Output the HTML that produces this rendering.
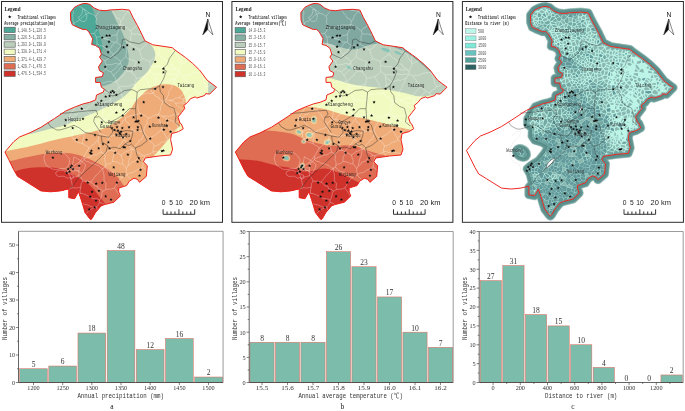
<!DOCTYPE html>
<html><head><meta charset="utf-8"><title>Figure</title>
<style>html,body{margin:0;padding:0;background:#fff}svg{display:block}</style></head>
<body>
<svg width="685" height="411" viewBox="0 0 685 411">
<defs><clipPath id="oc"><path d="M70.5 12.4 L74.5 7.3 L78.5 5.2 L82.5 3.7 L86.2 3.4 L89.8 4.4 L94.2 8.0 L99.3 10.2 L105.0 10.7 L110.6 9.9 L122.3 9.3 L129.5 10.1 L133.0 17.5 L137.3 25.3 L140.0 30.5 L145.0 40.9 L152.8 44.8 L163.0 46.3 L172.3 47.7 L175.0 50.0 L185.5 57.5 L192.5 63.3 L199.5 70.0 L207.2 80.2 L216.6 87.2 L209.7 94.1 L205.7 93.6 L204.6 95.5 L196.6 98.1 L195.5 96.8 L190.5 98.7 L187.5 102.5 L183.8 105.5 L184.8 108.4 L181.8 112.3 L178.0 117.2 L179.9 123.0 L181.3 123.9 L183.3 128.8 L178.4 131.7 L171.6 133.6 L170.6 139.5 L172.6 149.2 L170.6 155.0 L158.9 156.0 L145.3 158.0 L143.4 161.8 L147.3 165.7 L146.3 176.4 L139.5 182.3 L137.5 179.4 L134.0 178.2 L129.3 181.2 L126.6 185.6 L118.7 188.0 L118.7 191.9 L120.3 195.9 L114.0 202.2 L104.5 204.6 L101.0 206.0 L95.5 212.5 L92.2 218.2 L90.8 219.8 L89.3 218.2 L85.0 212.5 L83.1 205.9 L81.2 199.8 L78.5 191.8 L74.6 198.7 L68.8 197.7 L68.8 188.9 L60.3 190.9 L50.6 191.8 L40.9 190.9 L33.1 186.0 L25.3 181.1 L17.5 176.3 L13.6 169.5 L8.8 159.7 L4.9 152.0 L13.6 141.8 L19.5 137.0 L29.2 133.1 L40.9 127.3 L54.5 118.5 L66.2 110.7 L75.6 106.7 L83.4 103.8 L89.7 102.3 L95.6 99.9 L96.5 95.0 L103.3 92.1 L104.3 89.2 L101.4 87.3 L100.4 82.4 L95.6 82.4 L95.6 77.5 L102.4 76.6 L103.3 72.7 L99.5 70.7 L98.5 66.8 L102.4 61.0 L99.5 57.1 L101.4 54.2 L99.5 48.3 L95.6 45.4 L91.7 44.5 L92.6 38.6 L88.8 31.8 L86.0 29.3 L83.2 29.6 L77.4 27.2 L72.3 24.8 L70.6 20.0Z"/></clipPath><filter id="soft" x="0" y="0" width="685" height="411" filterUnits="userSpaceOnUse"><feGaussianBlur stdDeviation="0.38"/></filter></defs>
<rect width="685" height="411" fill="#fff"/>
<g filter="url(#soft)">
<g>
<g clip-path="url(#oc)">
<rect x="0" y="0" width="222" height="222" fill="#f1fbc1"/>
<path d="M130.0 8.0 C131.2 10.3 134.6 17.0 137.0 22.0 C139.4 27.0 142.0 33.6 144.7 38.0 C147.4 42.4 151.7 44.8 153.4 48.2 C155.1 51.6 155.9 54.5 154.9 58.4 C153.9 62.3 150.6 67.6 147.6 71.5 C144.6 75.4 140.3 78.4 137.0 82.0 C133.7 85.6 131.2 89.9 128.0 93.0 C124.8 96.1 123.0 97.5 118.1 100.5 C113.2 103.5 104.8 107.8 98.7 110.7 C92.6 113.6 87.3 115.6 81.6 118.0 C75.9 120.4 69.9 123.5 64.6 125.3 C59.3 127.1 55.8 127.5 50.0 128.9 C44.2 130.3 33.3 133.2 30.0 134.0 L0 134 L0 0 L130 0Z" fill="#bccfbc"/>
<path d="M109.5 6.0 C109.8 6.8 110.3 7.8 111.5 10.5 C112.7 13.2 115.0 18.1 116.8 21.9 C118.6 25.6 120.9 29.2 122.5 33.0 C124.1 36.8 125.5 40.8 126.5 44.5 C127.5 48.2 128.3 52.2 128.6 55.5 C128.8 58.8 129.0 61.1 128.0 64.0 C127.0 66.9 125.1 70.0 122.8 73.0 C120.5 76.0 116.9 79.7 114.0 81.8 C111.1 83.9 108.5 84.5 105.3 85.5 C102.1 86.5 96.7 87.6 95.0 88.0 L60 88 L60 0 L109 0Z" fill="#85b0a3"/>
<path d="M89.5 2.0 C90.1 3.3 92.0 7.4 93.0 10.0 C94.0 12.6 94.8 14.7 95.5 17.5 C96.2 20.3 96.8 24.1 97.5 27.0 C98.2 29.9 99.2 32.2 100.0 35.0 C100.8 37.8 101.6 41.5 102.0 44.0 C102.4 46.5 102.8 48.2 102.5 50.0 C102.2 51.8 101.1 53.7 100.0 55.0 C98.9 56.3 96.7 57.5 96.0 58.0 L60 58 L60 0 L89 0Z" fill="#4ea897"/>
<path d="M0.0 152.5 C1.2 152.2 2.4 151.9 7.3 150.9 C12.2 149.9 21.6 148.2 29.2 146.5 C36.8 144.8 46.9 141.9 52.6 140.5 C58.3 139.1 59.9 138.7 63.3 137.9 C66.7 137.2 70.2 136.6 73.0 136.0 C75.8 135.4 77.8 134.8 80.4 134.2 C83.0 133.6 86.0 133.3 88.6 132.7 C91.2 132.1 93.4 131.5 96.0 130.8 C98.6 130.1 101.8 129.3 104.3 128.3 C106.8 127.3 108.8 126.3 111.1 125.0 C113.4 123.7 115.6 121.9 117.9 120.2 C120.2 118.5 122.5 117.0 124.7 115.0 C126.9 113.0 129.1 110.8 131.0 108.5 C132.9 106.2 134.1 103.2 135.9 101.0 C137.7 98.8 139.5 97.1 141.8 95.0 C144.1 92.9 146.4 90.2 149.7 88.5 C153.0 86.8 157.5 85.2 161.4 84.6 C165.3 84.0 169.7 84.0 173.1 85.0 C176.5 86.0 179.7 88.3 181.8 90.9 C183.9 93.5 185.0 97.4 185.7 100.6 C186.4 103.8 186.9 107.1 186.0 110.0 C185.1 112.9 181.0 115.5 180.0 118.0 C179.0 120.5 180.7 123.0 180.0 125.0 C179.3 127.0 177.7 127.9 176.0 130.0 C174.3 132.1 172.3 134.7 170.0 137.5 C167.7 140.3 164.8 143.8 162.0 147.0 C159.2 150.2 154.5 155.3 153.0 157.0 L153 230 L0 230Z" fill="#efac78"/>
<path d="M0.0 163.0 C1.7 162.7 5.3 162.2 10.2 161.1 C15.1 160.0 22.6 158.0 29.2 156.7 C35.8 155.4 42.3 153.7 49.6 153.2 C56.9 152.7 65.7 152.5 73.0 153.8 C80.3 155.1 87.1 158.2 93.4 161.1 C99.7 164.0 106.6 168.2 111.0 171.3 C115.4 174.5 117.5 176.9 120.0 180.0 C122.5 183.1 125.0 188.3 126.0 190.0 L126 230 L0 230Z" fill="#df6d52"/>
<path d="M0.0 177.0 C2.4 176.1 10.8 173.1 14.5 171.8 C18.2 170.5 18.8 170.0 22.1 169.3 C25.4 168.6 29.3 167.8 34.1 167.5 C38.9 167.2 46.5 167.2 51.1 167.5 C55.8 167.8 58.9 168.6 62.0 169.5 C65.2 170.4 66.5 171.2 70.0 173.0 C73.5 174.8 79.5 178.2 82.7 180.2 C86.0 182.2 87.6 183.4 89.5 185.0 C91.4 186.6 92.4 187.8 94.3 190.0 C96.2 192.2 99.0 196.0 101.0 198.5 C103.0 201.0 104.5 202.8 106.0 205.0 C107.5 207.2 109.3 210.8 110.0 212.0 L112 230 L0 230Z" fill="#cf302b"/>
<path d="M208.2 78 L218 87 L208.2 96Z" fill="#bccfbc"/>
</g>
<path d="M70.3 168.1 L73.3 168.4 L75.9 167.9 L79.2 167.8 M79.2 167.8 L80.1 163.2 M78.8 162.6 L80.1 163.2 M71.9 23.6 L74.0 24.3 M74.0 24.3 L74.1 23.6 M72.7 9.6 L73.6 13.0 L72.7 14.7 L72.8 17.9 L73.1 20.7 L74.1 23.6 M79.2 167.8 L79.0 170.4 M67.3 171.4 L70.4 170.8 L73.4 171.1 L75.3 170.7 L79.0 170.4 M83.9 109.5 L82.2 106.9 L81.3 104.6 M83.9 109.5 L81.4 111.2 L79.4 111.7 L77.3 114.1 L74.7 114.6 L72.6 117.2 L70.5 117.8 M70.0 117.9 L70.5 117.8 M70.0 117.9 L69.5 116.1 M68.0 118.7 L70.0 117.9 M70.5 117.8 L73.0 120.4 L74.7 123.0 L75.7 124.0 L77.9 127.1 L79.5 129.3 M79.5 129.3 L75.7 130.0 L72.4 131.6 M73.5 8.5 L76.0 6.8 L78.8 5.2 M74.1 23.6 L75.9 21.7 L78.3 21.1 L80.7 18.7 L82.3 17.4 L84.3 15.5 L87.0 13.8 L89.1 13.0 M89.1 13.0 L87.0 11.2 L85.3 10.2 L83.2 8.6 L80.6 7.0 L78.8 5.2 M79.0 170.4 L78.8 173.1 L79.1 175.6 M79.1 175.6 L76.0 176.5 L72.8 177.3 L70.7 178.7 M70.3 188.4 L73.7 187.7 L75.9 188.1 L78.5 187.6 L80.8 187.3 M79.1 175.6 L81.0 177.6 L82.7 181.0 M82.7 181.0 L81.1 183.7 L80.8 187.3 M83.9 109.5 L86.3 110.3 M86.3 110.3 L87.5 107.8 L89.3 106.7 L91.2 105.6 L93.8 103.1 L95.6 100.9 L97.1 99.4 M97.1 99.4 L97.3 94.7 M99.9 57.6 L103.1 59.7 L105.0 60.7 M105.9 69.1 L102.1 72.1 M105.9 69.1 L106.0 64.8 M106.0 64.8 L105.0 60.7 M148.2 42.5 L146.3 44.2 L144.2 46.4 L141.7 48.5 L139.2 49.6 M142.3 35.2 L139.9 34.6 L137.1 33.9 L134.0 34.3 L131.8 33.5 M139.2 49.6 L137.3 48.9 L135.0 46.8 L131.4 45.3 L129.6 43.9 M129.6 43.9 L130.9 41.7 L130.7 38.6 L130.8 35.6 L131.8 33.5 M90.7 182.2 L91.7 180.8 L94.4 177.6 L95.7 175.5 L97.1 174.6 L99.6 172.2 L100.7 170.5 L102.8 168.3 M82.7 181.0 L86.1 181.3 L87.3 181.1 L90.7 182.2 M80.1 163.2 L81.4 162.2 L84.0 159.7 M84.0 159.7 L86.4 161.4 L88.2 161.5 L91.4 163.6 L93.1 163.3 L96.3 164.8 L98.5 165.6 L100.7 167.8 L102.8 168.3 M74.0 24.3 L74.5 25.8 M97.0 43.6 L97.0 40.1 L96.2 37.0 M97.0 43.6 L96.5 46.1 M94.3 33.4 L89.9 33.8 M94.3 33.4 L96.2 37.0 M96.7 28.2 L96.8 24.6 L95.9 22.1 L96.6 18.8 L95.7 16.4 M96.7 28.2 L96.1 31.3 L94.3 33.4 M89.1 13.0 L93.1 14.4 L95.7 16.4 M131.8 33.5 L131.0 30.9 M131.0 30.9 L132.5 28.4 L135.5 27.4 L136.9 24.6 M129.6 10.4 L129.1 10.6 M129.9 11.0 L129.1 10.6 M90.7 182.2 L93.0 183.7 L94.4 185.8 L97.3 186.1 L98.3 188.8 L101.3 189.5 L102.7 191.3 M80.8 187.3 L80.1 190.2 L80.1 193.3 M102.7 191.3 L101.8 193.6 L101.2 197.3 L99.7 200.2 M99.7 200.2 L97.7 198.9 L95.5 198.9 L92.1 198.3 L90.2 197.3 L86.7 195.2 L85.4 194.7 L82.6 193.6 L80.1 193.3 M86.3 110.3 L88.8 112.5 L90.3 114.1 L91.5 116.4 L93.9 119.2 L94.3 120.9 L96.8 123.8 M97.1 99.4 L100.2 100.6 L103.2 103.2 M103.2 103.2 L102.5 105.9 L102.8 108.9 L102.9 111.4 L102.7 113.9 L102.0 117.7 L102.2 120.1 M102.2 120.1 L98.9 121.5 L96.8 123.8 M103.4 103.1 L104.9 104.8 L106.5 105.9 L109.1 107.8 L111.4 110.6 L113.0 111.9 M113.0 111.9 L111.1 114.0 L108.7 114.8 L106.7 117.2 L104.7 119.2 M102.2 120.1 L104.7 119.2 M79.5 129.3 L82.1 130.0 L84.5 131.9 M84.5 131.9 L86.4 131.4 L88.8 129.8 L92.3 128.6 L93.4 128.3 L96.3 127.0 M96.8 123.8 L96.3 127.0 M100.5 83.0 L103.2 82.9 L104.9 82.3 L107.4 81.8 L111.1 81.2 L113.0 82.4 L115.9 81.3 M103.5 91.6 L107.6 92.6 L110.3 93.7 M119.0 87.5 L118.0 84.7 L116.2 81.5 M119.0 87.7 L116.7 89.8 L114.1 91.2 L111.7 92.8 L110.3 93.7 M103.4 103.1 L106.0 102.1 L108.4 101.2 L110.4 100.4 M110.3 93.7 L110.8 96.4 L110.4 100.4 M105.9 69.1 L108.4 71.0 L111.0 71.8 M115.9 81.3 L115.5 78.2 L113.6 75.9 M111.0 71.8 L113.6 75.9 M115.1 42.2 L111.9 41.9 L109.1 39.6 L106.8 39.3 L103.6 38.5 M115.1 42.2 L116.9 42.3 M116.9 42.3 L117.3 39.5 L117.0 36.6 L117.0 34.0 M103.6 38.5 L106.0 38.2 L109.2 37.1 L112.3 35.4 L115.0 35.4 L117.0 34.0 M109.2 49.7 L111.2 47.3 L112.5 45.1 L115.1 42.2 M109.2 49.7 L106.2 48.5 L103.7 46.6 L102.0 46.0 L99.7 45.3 L97.0 43.6 M96.2 37.0 L99.5 36.8 L101.4 38.1 L103.6 38.5 M96.7 28.2 L99.5 27.8 L101.9 28.0 L104.4 27.1 L107.3 26.0 L109.5 25.6 L111.6 25.0 L114.3 25.0 L117.3 25.2 L119.9 24.7 M119.9 24.7 L119.4 27.8 L118.6 30.7 L117.0 34.0 M120.6 24.3 L123.6 26.0 L126.0 27.2 L129.1 29.6 L131.0 30.9 M129.6 43.9 L126.5 45.9 M119.9 24.7 L120.6 24.3 M116.9 42.3 L118.6 44.0 L121.5 45.6 M121.5 45.6 L124.8 45.0 L126.5 45.9 M109.2 49.7 L110.8 52.4 L113.0 54.3 M121.5 45.6 L118.6 48.1 L117.4 50.3 L115.2 52.8 L113.0 54.3 M105.0 60.7 L107.4 59.1 L109.5 57.3 L112.9 55.5 M113.0 54.3 L112.9 55.5 M106.2 189.4 L105.6 187.5 L106.1 183.5 L104.2 180.9 L104.0 179.2 L104.1 176.3 L103.6 172.8 L103.0 171.7 L102.8 168.3 M106.2 189.4 L109.4 189.1 L111.1 189.2 L114.2 188.1 M114.2 188.1 L115.7 186.1 L116.9 183.5 L118.7 181.5 L119.7 179.8 L122.1 177.4 M122.1 177.4 L119.4 176.3 L117.9 175.2 L115.2 173.3 L113.8 172.2 L110.7 171.8 L108.3 170.5 L106.6 168.4 L104.7 167.4 M104.7 167.4 L102.8 168.3 M102.7 191.3 L106.2 189.4 M104.4 204.6 L102.8 203.4 L99.7 202.4 M99.7 202.4 L99.7 200.2 M119.9 196.3 L118.8 194.1 L117.7 192.5 L115.6 189.4 L114.2 188.1 M131.5 179.8 L129.0 177.5 L127.0 175.2 M127.0 175.2 L124.2 176.3 L122.1 177.4 M82.8 144.0 L82.6 141.3 L83.3 138.9 L83.9 136.4 L83.7 133.3 M83.7 133.3 L80.9 134.6 L79.0 135.9 L76.2 138.2 L73.2 138.8 M84.3 158.9 L84.2 156.0 M84.0 159.7 L84.3 158.9 M84.5 131.9 L83.7 133.3 M127.7 11.3 L125.2 10.8 L121.2 10.3 L118.4 9.5 M127.9 10.9 L127.5 9.9 M120.8 21.7 L122.5 19.7 L123.3 17.5 L124.3 15.1 L125.7 13.6 L127.7 11.3 M120.8 21.7 L119.9 19.2 L116.7 18.2 L115.6 15.8 L113.5 13.3 L112.8 12.0 L110.9 9.9 M120.6 24.3 L120.8 21.7 M132.0 15.5 L130.5 14.1 L127.7 11.2 M129.1 10.6 L127.9 10.9 M95.7 16.4 L97.0 14.5 L98.8 12.3 L100.4 10.3 M99.7 202.4 L98.0 205.3 L96.6 206.7 M96.6 206.7 L97.2 210.5 M127.2 174.7 L127.0 175.2 M127.2 174.7 L129.9 172.8 L132.6 172.8 L135.5 170.8 L136.7 169.9 L140.7 168.5 L142.6 166.8 M146.9 170.4 L144.6 168.4 L142.6 166.8 M134.5 84.7 L135.8 80.8 L136.3 78.2 M139.1 94.0 L138.4 91.7 L136.1 89.9 L135.5 86.4 L134.5 84.7 M139.1 94.0 L141.3 94.4 L144.1 94.1 L147.9 92.9 L150.1 93.8 L153.0 93.2 M136.3 78.2 L138.9 78.2 L141.4 77.2 L144.2 76.4 M153.0 93.2 L151.3 91.3 L151.0 88.5 L149.0 85.7 L148.1 83.0 L146.7 80.8 L145.2 78.5 L144.2 76.4 M126.8 71.3 L125.1 68.3 L122.3 66.3 M126.8 71.3 L128.9 71.1 L131.9 72.1 M131.9 72.1 L132.2 69.5 L134.7 67.7 L135.2 64.5 L136.3 62.1 M136.3 62.1 L134.3 60.9 L131.2 59.7 L127.8 58.7 L125.8 56.9 M125.8 56.9 L122.6 59.5 L120.6 62.1 M122.3 66.3 L120.5 63.6 M120.6 62.1 L120.5 63.4 M116.2 81.5 L119.0 79.6 L120.2 77.8 L123.2 75.6 L124.0 74.0 L126.8 71.3 M113.6 75.9 L114.6 74.3 L117.7 71.5 L118.8 70.4 L120.0 67.8 L122.3 66.3 M119.0 87.5 L120.9 86.5 L123.6 86.2 L127.2 86.4 L129.8 85.9 L132.4 84.6 L134.5 84.7 M136.3 78.2 L134.9 75.4 L133.4 74.6 L131.9 72.1 M139.2 49.6 L140.1 52.2 L140.8 55.4 L142.1 58.5 M142.1 58.5 L139.9 61.1 L136.3 62.1 M126.5 45.9 L126.7 49.4 L126.6 51.0 L125.9 54.5 L125.8 56.9 M112.9 55.5 L115.2 57.4 L116.7 58.2 L119.4 60.0 L120.6 62.1 M111.0 71.8 L113.6 69.6 L115.6 68.3 L117.2 66.1 L118.5 64.9 L120.5 63.6 M106.0 64.8 L109.2 64.8 L111.7 64.6 L115.5 63.3 L117.7 64.0 L120.5 63.4 M121.0 155.2 L121.7 157.7 L122.7 160.5 L122.6 163.8 M121.0 155.2 L118.5 153.6 L115.0 152.0 M115.0 152.0 L113.6 155.7 L112.6 158.8 L112.5 161.4 M122.6 163.8 L120.2 163.8 L118.0 162.5 L114.4 161.6 L112.5 161.4 M131.6 149.0 L132.2 149.2 M131.6 149.0 L128.2 150.8 L125.6 151.6 L123.2 153.5 L121.0 155.2 M126.3 168.7 L124.7 166.2 L122.6 163.8 M126.3 168.7 L127.9 165.8 M127.9 165.8 L128.6 162.3 L129.0 159.8 L130.4 156.7 L130.9 155.0 L131.5 151.2 L132.2 149.2 M104.7 167.4 L105.4 166.0 M126.3 168.7 L126.3 171.3 L127.2 174.7 M105.4 166.0 L107.4 164.1 L110.9 163.4 L112.5 161.4 M115.0 152.0 L114.5 151.4 M131.6 149.0 L130.4 147.0 L127.6 145.0 L125.9 141.5 L124.0 139.7 M114.5 151.4 L116.5 149.0 L118.2 147.9 L118.9 145.5 L121.2 143.9 L122.5 141.2 L124.0 139.7 M101.4 152.3 L104.1 153.7 M101.4 152.3 L100.5 150.1 L100.0 147.6 L99.8 144.5 L98.2 142.5 L98.2 139.7 M104.1 153.7 L106.3 152.6 L108.3 150.8 L111.4 150.2 M111.4 150.2 L110.3 147.7 L109.0 145.1 L109.2 142.1 L108.2 138.6 L106.9 136.3 M106.9 136.3 L102.9 134.7 L100.2 133.6 M98.2 139.7 L98.6 136.5 L100.2 133.6 M84.3 158.9 L87.1 157.6 L89.7 157.0 L91.1 156.3 L94.0 154.9 L96.5 155.0 L99.3 152.9 L101.4 152.3 M105.4 166.0 L105.7 162.4 L104.6 159.7 L105.2 156.0 L104.1 153.7 M88.1 149.2 L90.3 147.3 L91.6 145.6 L94.6 143.9 L95.5 142.1 L98.2 139.7 M114.5 151.4 L111.4 150.2 M119.3 134.9 L121.3 137.2 L123.7 138.3 M124.0 139.7 L123.7 138.3 M119.3 134.9 L116.3 134.6 L113.5 135.7 L109.9 136.1 L106.9 136.3 M120.1 125.2 L119.8 127.7 L120.3 131.3 L119.3 134.9 M104.7 119.2 L107.0 119.5 L110.2 121.9 L112.4 122.7 L114.7 123.0 L117.2 123.9 L120.1 125.2 M96.3 127.0 L97.7 128.9 L98.2 131.7 L100.2 133.6 M96.6 206.7 L95.8 206.8 M85.9 213.7 L88.0 211.8 L90.3 209.5 L93.6 208.4 L95.8 206.8 M119.0 87.7 L120.7 89.5 L121.5 92.1 L121.4 94.7 L123.0 97.8 L124.0 100.7 M139.1 94.0 L137.0 97.8 L135.5 100.1 M135.5 100.1 L132.7 100.9 L130.3 100.1 L127.1 100.0 L124.0 100.7 M110.4 100.4 L112.3 102.4 L114.7 103.2 L116.0 106.0 L118.8 107.3 M124.0 100.7 L122.6 103.1 L120.1 105.5 L118.8 107.3 M113.0 111.9 L115.9 109.7 L118.6 108.7 M118.6 108.7 L118.8 107.3 M148.3 118.1 L146.9 120.8 L147.3 123.3 L145.3 126.0 L144.2 128.5 L143.8 130.8 M148.3 118.1 L145.4 115.7 L142.7 114.8 L139.9 113.1 M139.9 113.1 L137.7 114.3 L133.9 115.0 L130.9 115.9 L128.6 116.7 L125.6 117.4 M134.6 131.2 L132.5 129.6 L131.5 127.6 L129.2 125.6 L129.0 123.4 L126.2 122.0 L125.2 119.3 M134.6 131.2 L137.8 130.7 L140.9 131.5 L143.8 130.8 M125.2 119.3 L125.6 117.4 M118.6 108.7 L119.7 111.0 L122.3 113.7 L123.1 115.2 L125.6 117.4 M135.5 100.1 L136.7 102.9 L137.8 105.5 L138.3 108.1 L138.5 111.1 L139.9 113.1 M123.7 138.3 L125.9 136.1 L128.6 135.8 L130.5 133.3 L132.8 132.4 L134.6 131.2 M120.1 125.2 L122.3 122.7 L123.2 120.6 L125.2 119.3 M162.6 101.4 L159.5 99.1 L158.3 97.2 L155.3 96.0 L153.3 93.3 M162.6 101.4 L162.1 104.7 L160.6 106.0 L160.8 108.3 L159.6 112.3 L158.3 114.1 M148.3 118.1 L151.1 117.3 L152.9 116.0 L154.8 115.2 L157.9 114.4 M158.3 114.1 L157.9 114.4 M143.8 130.8 L144.9 133.8 M144.9 133.8 L143.1 135.6 L142.0 139.0 L139.1 140.5 L138.2 142.7 L135.6 145.3 L134.1 147.2 L132.2 149.2 M155.5 156.5 L154.5 153.9 L152.8 152.1 M171.0 153.9 L168.7 153.2 L166.1 152.8 L163.8 152.6 L161.5 151.9 L158.5 152.6 L156.2 151.7 L153.1 151.3 M153.1 151.3 L152.8 152.1 M142.6 166.8 L143.5 161.9 M143.6 161.4 L144.2 158.3 L144.6 155.8 M152.8 152.1 L150.6 153.7 L147.3 154.5 L144.6 155.8 M127.9 165.8 L130.6 164.3 L131.4 162.1 L134.6 161.3 L136.4 159.6 L137.6 158.7 L140.3 156.6 L142.6 155.2 M132.2 149.2 L134.7 150.1 L138.1 152.9 L139.2 153.0 L142.6 155.2 M144.6 155.8 L142.6 155.2 M95.8 206.8 L92.9 207.0 L90.4 206.2 L87.5 204.9 L85.6 204.6 L82.4 203.7 M80.1 193.3 L79.4 194.5 M144.9 133.8 L146.5 135.8 L148.8 138.1 M157.9 114.4 L158.8 116.9 L158.7 119.2 L160.3 121.8 L160.1 124.5 L162.0 128.3 L161.9 130.1 M161.9 130.1 L159.7 131.0 L157.5 133.4 L155.5 134.7 L153.8 135.9 L151.6 136.8 L148.8 138.1 M153.1 151.3 L153.1 149.2 L154.1 146.2 M154.1 146.2 L153.2 143.8 L150.2 141.5 L148.8 138.1 M211.2 83.9 L209.3 86.0 L206.1 86.7 M211.2 83.9 L211.0 83.0 M206.1 86.7 L205.4 84.9 L203.7 81.9 L204.0 80.1 L202.7 77.0 L201.5 74.2 L200.3 72.0 M200.7 71.6 L200.3 72.0 M212.1 83.9 L211.2 83.9 M182.1 55.1 L181.2 59.1 L181.1 61.8 M189.1 60.4 L186.7 61.5 L183.8 62.4 L181.6 64.2 M181.1 61.8 L181.6 64.2 M181.1 61.8 L179.0 60.0 L177.6 57.4 L176.9 55.0 L175.5 53.4 L173.7 52.0 L171.9 48.7 L170.0 47.4 M142.1 58.5 L144.9 59.4 L146.9 60.5 L149.8 61.4 M149.8 61.4 L152.2 59.5 L153.9 57.4 L155.6 56.3 L158.3 54.4 M158.3 54.4 L159.7 50.9 L159.8 48.9 L160.1 45.9 M181.6 64.2 L180.5 67.3 L178.6 71.0 M182.4 76.1 L184.6 75.2 L188.0 75.5 L190.6 74.0 L192.4 73.4 L195.5 72.7 L198.1 73.0 L200.3 72.0 M182.4 76.1 L178.8 73.8 M178.8 73.8 L178.6 71.0 M158.3 54.4 L160.5 55.6 L162.2 58.0 L165.1 59.2 L167.1 62.1 L169.3 63.8 L171.8 64.6 L172.8 67.4 L175.2 67.9 L177.5 70.3 M178.6 71.0 L177.5 70.3 M149.8 61.4 L150.5 65.5 M177.5 70.3 L175.0 69.7 L171.6 70.0 L169.4 69.6 L166.4 67.7 L164.7 67.6 L162.0 67.4 L158.9 66.3 L155.5 66.8 L154.0 66.5 L150.5 65.5 M144.2 76.4 L146.9 75.2 L149.1 72.7 L150.4 71.5 M150.4 71.5 L149.9 68.1 L150.5 65.5 M176.5 122.8 L179.1 120.5 M176.5 122.8 L174.0 121.6 L170.6 120.3 L168.5 119.6 L166.3 119.0 M166.3 119.0 L162.6 116.3 M162.6 116.3 L165.1 116.1 L168.5 116.2 L170.9 115.9 L173.7 114.8 L176.6 114.9 L179.5 114.2 M179.5 114.2 L180.2 114.3 M163.8 100.8 L166.1 102.4 L167.4 103.5 L169.3 105.2 L171.4 107.0 L173.8 109.6 L175.6 110.8 L177.3 113.2 L179.5 114.2 M162.6 101.4 L163.8 100.8 M158.3 114.1 L162.6 116.3 M167.1 138.4 L167.1 140.0 M167.1 138.4 L169.8 135.5 L171.0 132.2 M171.0 132.2 L173.8 130.7 L175.7 129.4 L177.8 128.4 M178.0 131.8 L179.5 129.6 M170.8 142.1 L167.1 140.0 M177.8 128.4 L179.5 129.6 M154.1 146.2 L157.5 145.2 L159.9 143.9 L161.2 142.2 L164.6 141.9 L167.1 140.0 M161.9 130.1 L163.9 132.6 L165.6 135.8 L167.1 138.4 M166.3 119.0 L168.0 121.8 L167.4 125.0 L168.5 126.7 L170.8 129.8 L171.0 132.2 M176.5 122.8 L177.4 125.5 L177.8 128.4 M171.2 142.4 L170.8 142.1 M150.4 71.5 L152.5 72.9 L154.9 74.9 M154.9 74.9 L157.9 74.6 L159.5 74.2 L162.1 75.3 L165.0 74.1 L168.2 74.2 L171.1 74.7 L173.3 74.3 L175.6 74.1 L178.4 74.2 M190.8 86.9 L189.4 84.1 L187.0 82.9 L186.1 80.6 L183.7 77.8 L182.4 76.1 M178.6 97.6 L175.6 98.1 L172.8 99.8 L169.4 100.3 M165.6 99.7 L169.4 100.3 M165.6 99.7 L167.1 97.5 L168.5 94.9 L168.7 92.0 L169.6 90.2 L171.8 87.8 L171.9 85.5 L174.1 82.5 L174.9 79.6 L176.0 77.9 M190.8 86.9 L188.9 87.9 L186.5 91.0 L184.9 92.0 L183.3 94.2 L181.3 95.8 L178.6 97.6 M176.0 77.9 L178.4 74.2 M206.1 86.7 L204.2 89.1 L201.1 90.4 L199.6 93.1 M200.9 96.7 L199.6 93.1 M190.8 86.9 L192.8 88.8 L196.0 91.5 M199.6 93.1 L196.0 91.5 M179.5 129.6 L180.8 130.3 M155.3 85.9 L156.0 83.3 L155.5 80.7 L155.1 77.1 M155.3 85.9 L156.9 85.0 L159.6 83.1 L161.8 82.0 M161.8 82.0 L159.9 80.9 L157.5 79.1 L155.1 77.1 M153.3 93.3 L154.5 90.6 L155.2 88.3 L155.3 85.9 M154.9 74.9 L155.1 77.1 M165.6 99.7 L163.8 100.8 M176.0 77.9 L173.8 79.0 L170.5 80.3 L167.5 79.9 L164.6 81.0 L161.8 82.0 M182.9 110.9 L181.8 108.5 L179.4 107.2 L176.8 105.5 L175.6 103.2 M185.3 104.3 L182.5 103.0 M175.6 103.2 L179.2 103.0 L182.5 103.0 M169.4 100.3 L173.2 101.1 L175.6 103.2 M183.6 98.8 L183.4 100.7 M183.6 98.8 L186.9 97.3 L189.8 96.6 M183.4 100.7 L186.7 101.4 M189.8 96.6 L188.3 98.8 L186.7 101.4 M178.6 97.6 L181.4 98.8 L183.6 98.8 M182.5 103.0 L183.4 100.7 M196.0 91.5 L193.3 93.2 L192.3 94.5 L189.8 96.6 M185.4 104.2 L186.7 101.4 M44.9 153.9 L48.0 151.5 L51.7 151.0 L56.0 152.3 L59.5 152.0 L64.0 153.2 L67.2 155.9 L69.6 159.5 L69.2 163.6 L67.8 166.8 L65.3 168.5 L61.0 168.4 L57.5 169.5 L53.0 169.3 L49.7 167.5 L46.5 165.6 L44.9 162.7 L43.8 158.0Z M56.5 171.4 L60.0 170.2 L63.3 170.4 L66.0 172.4 L69.2 173.4 L73.1 175.3 L73.4 177.8 L72.1 179.2 L69.5 177.6 L67.2 178.2 L64.0 176.2 L61.4 176.3 L58.5 176.4 L56.5 175.3 L55.6 173.2Z M74.0 156.8 L80.0 160.2 L85.7 164.6 L84.4 169.0 L81.8 173.4 L76.0 170.0 L71.1 167.5 L73.0 162.0Z M82.5 9.1 L84.7 9.5 L85.4 12.4 L86.9 15.3 L86.5 19.0 L84.7 21.5 L81.1 21.2 L79.2 19.3 L78.1 17.5 L80.7 15.7 L82.2 13.1Z M76.0 106.3 L72.0 112.0 L67.5 119.5 L67.5 125.0 L72.5 129.5 L72.0 137.0 L75.0 141.5 L82.0 143.5 L89.0 147.5 L85.0 155.0 L79.0 162.5 L71.0 167.5 L67.0 171.0 L70.0 176.0 L72.5 186.0 L68.8 190.0" fill="none" stroke="#ffffff" stroke-opacity="0.6" stroke-width="0.5"/>
<path d="M101.4 54.2 L110.6 58.4 L118.4 52.6 L121.3 48.7 L122.3 39.9 L125.2 38.9 L129.5 41.8 L139.2 43.8 L145.0 40.9 M175.2 50.6 L169.4 58.4 L167.4 64.2 L162.6 69.1 L166.4 71.0 L163.4 79.2 L159.5 86.0 L160.4 91.8 L163.4 95.7 L164.3 102.6 L169.2 106.4 L174.1 108.4 L176.0 116.2 L175.0 122.0 L179.9 126.0 M104.3 89.2 L107.1 91.3 L111.9 96.1 L118.2 94.5 L124.5 90.5 L132.4 89.7 L137.2 92.1 L140.4 89.7 L147.8 88.9 L154.6 88.9 L159.5 86.0 M137.2 92.1 L136.4 100.8 L135.6 108.7 L129.3 108.7 L123.0 115.0 L116.6 119.0 L111.9 121.4 M60.0 113.5 L71.7 112.6 L85.0 111.1 L96.1 110.3 L97.7 114.3 L94.5 117.4 L93.7 121.4 L97.0 127.0 L100.8 132.4 M94.5 117.4 L99.2 116.6 L105.6 123.0 L111.9 121.4 L110.3 127.7 L112.4 129.7 L112.7 132.4 L108.7 137.2 L101.3 136.1 M135.6 108.7 L136.4 121.4 L140.9 125.0 L143.2 132.9 L147.2 140.8 L140.9 145.6 L135.3 147.9 L136.9 155.0 L139.3 159.0 L141.0 161.5 M112.4 129.7 L118.7 132.1 L126.6 130.5 L133.0 131.3 L132.2 136.1 L130.6 140.8 L125.0 144.0 M47.9 122.6 L50.8 126.8 L56.6 129.9 L60.0 130.0 L66.2 128.2 L74.0 125.3 L79.5 128.1 L85.0 132.4 L95.0 134.5 L101.3 136.1 L102.1 142.4 L107.7 145.6 M135.3 147.9 L131.4 144.0 L129.0 145.6 L125.0 144.0 L120.3 148.7 L114.0 147.1 L109.2 148.7 L107.7 145.6 L106.1 151.9 L101.3 156.6 L95.0 163.0 L86.5 170.3 L76.8 180.0 L70.7 188.5" fill="none" stroke="#2a2a2a" stroke-width="0.45" stroke-linejoin="round"/>
<path d="M70.5 12.4 L74.5 7.3 L78.5 5.2 L82.5 3.7 L86.2 3.4 L89.8 4.4 L94.2 8.0 L99.3 10.2 L105.0 10.7 L110.6 9.9 L122.3 9.3 L129.5 10.1 L133.0 17.5 L137.3 25.3 L140.0 30.5 L145.0 40.9 L152.8 44.8 L163.0 46.3 L172.3 47.7 L175.0 50.0 L185.5 57.5 L192.5 63.3 L199.5 70.0 L207.2 80.2 L216.6 87.2 L209.7 94.1 L205.7 93.6 L204.6 95.5 L196.6 98.1 L195.5 96.8 L190.5 98.7 L187.5 102.5 L183.8 105.5 L184.8 108.4 L181.8 112.3 L178.0 117.2 L179.9 123.0 L181.3 123.9 L183.3 128.8 L178.4 131.7 L171.6 133.6 L170.6 139.5 L172.6 149.2 L170.6 155.0 L158.9 156.0 L145.3 158.0 L143.4 161.8 L147.3 165.7 L146.3 176.4 L139.5 182.3 L137.5 179.4 L134.0 178.2 L129.3 181.2 L126.6 185.6 L118.7 188.0 L118.7 191.9 L120.3 195.9 L114.0 202.2 L104.5 204.6 L101.0 206.0 L95.5 212.5 L92.2 218.2 L90.8 219.8 L89.3 218.2 L85.0 212.5 L83.1 205.9 L81.2 199.8 L78.5 191.8 L74.6 198.7 L68.8 197.7 L68.8 188.9 L60.3 190.9 L50.6 191.8 L40.9 190.9 L33.1 186.0 L25.3 181.1 L17.5 176.3 L13.6 169.5 L8.8 159.7 L4.9 152.0 L13.6 141.8 L19.5 137.0 L29.2 133.1 L40.9 127.3 L54.5 118.5 L66.2 110.7 L75.6 106.7 L83.4 103.8 L89.7 102.3 L95.6 99.9 L96.5 95.0 L103.3 92.1 L104.3 89.2 L101.4 87.3 L100.4 82.4 L95.6 82.4 L95.6 77.5 L102.4 76.6 L103.3 72.7 L99.5 70.7 L98.5 66.8 L102.4 61.0 L99.5 57.1 L101.4 54.2 L99.5 48.3 L95.6 45.4 L91.7 44.5 L92.6 38.6 L88.8 31.8 L86.0 29.3 L83.2 29.6 L77.4 27.2 L72.3 24.8 L70.6 20.0Z" fill="none" stroke="#f0221e" stroke-width="1.0" stroke-linejoin="round"/>
<path d="M102.20 35.90L102.62 37.02L103.82 37.07L102.88 37.82L103.20 38.98L102.20 38.31L101.20 38.98L101.52 37.82L100.58 37.07L101.78 37.02ZM106.70 33.90L107.12 35.02L108.32 35.07L107.38 35.82L107.70 36.98L106.70 36.31L105.70 36.98L106.02 35.82L105.08 35.07L106.28 35.02ZM109.60 33.90L110.02 35.02L111.22 35.07L110.28 35.82L110.60 36.98L109.60 36.31L108.60 36.98L108.92 35.82L107.98 35.07L109.18 35.02ZM109.00 40.10L109.42 41.22L110.62 41.27L109.68 42.02L110.00 43.18L109.00 42.51L108.00 43.18L108.32 42.02L107.38 41.27L108.58 41.22ZM106.70 45.00L107.12 46.12L108.32 46.17L107.38 46.92L107.70 48.08L106.70 47.41L105.70 48.08L106.02 46.92L105.08 46.17L106.28 46.12ZM108.10 50.50L108.52 51.62L109.72 51.67L108.78 52.42L109.10 53.58L108.10 52.91L107.10 53.58L107.42 52.42L106.48 51.67L107.68 51.62ZM105.20 65.10L105.62 66.22L106.82 66.27L105.88 67.02L106.20 68.18L105.20 67.51L104.20 68.18L104.52 67.02L103.58 66.27L104.78 66.22ZM123.60 45.60L124.02 46.72L125.22 46.77L124.28 47.52L124.60 48.68L123.60 48.01L122.60 48.68L122.92 47.52L121.98 46.77L123.18 46.72ZM127.20 43.50L127.62 44.62L128.82 44.67L127.88 45.42L128.20 46.58L127.20 45.91L126.20 46.58L126.52 45.42L125.58 44.67L126.78 44.62ZM133.60 47.70L134.02 48.82L135.22 48.87L134.28 49.62L134.60 50.78L133.60 50.11L132.60 50.78L132.92 49.62L131.98 48.87L133.18 48.82ZM138.80 60.60L139.22 61.72L140.42 61.77L139.48 62.52L139.80 63.68L138.80 63.01L137.80 63.68L138.12 62.52L137.18 61.77L138.38 61.72ZM155.20 60.20L155.62 61.32L156.82 61.37L155.88 62.12L156.20 63.28L155.20 62.61L154.20 63.28L154.52 62.12L153.58 61.37L154.78 61.32ZM163.50 66.80L163.92 67.92L165.12 67.97L164.18 68.72L164.50 69.88L163.50 69.21L162.50 69.88L162.82 68.72L161.88 67.97L163.08 67.92ZM163.50 70.70L163.92 71.82L165.12 71.87L164.18 72.62L164.50 73.78L163.50 73.11L162.50 73.78L162.82 72.62L161.88 71.87L163.08 71.82ZM112.60 89.40L113.02 90.52L114.22 90.57L113.28 91.32L113.60 92.48L112.60 91.81L111.60 92.48L111.92 91.32L110.98 90.57L112.18 90.52ZM110.80 90.60L111.22 91.72L112.42 91.77L111.48 92.52L111.80 93.68L110.80 93.01L109.80 93.68L110.12 92.52L109.18 91.77L110.38 91.72ZM114.00 90.60L114.42 91.72L115.62 91.77L114.68 92.52L115.00 93.68L114.00 93.01L113.00 93.68L113.32 92.52L112.38 91.77L113.58 91.72ZM109.60 94.30L110.02 95.42L111.22 95.47L110.28 96.22L110.60 97.38L109.60 96.71L108.60 97.38L108.92 96.22L107.98 95.47L109.18 95.42ZM105.70 94.90L106.12 96.02L107.32 96.07L106.38 96.82L106.70 97.98L105.70 97.31L104.70 97.98L105.02 96.82L104.08 96.07L105.28 96.02ZM116.40 93.30L116.82 94.42L118.02 94.47L117.08 95.22L117.40 96.38L116.40 95.71L115.40 96.38L115.72 95.22L114.78 94.47L115.98 94.42ZM101.30 99.20L101.72 100.32L102.92 100.37L101.98 101.12L102.30 102.28L101.30 101.61L100.30 102.28L100.62 101.12L99.68 100.37L100.88 100.32ZM96.00 103.10L96.42 104.22L97.62 104.27L96.68 105.02L97.00 106.18L96.00 105.51L95.00 106.18L95.32 105.02L94.38 104.27L95.58 104.22ZM81.80 107.00L82.22 108.12L83.42 108.17L82.48 108.92L82.80 110.08L81.80 109.41L80.80 110.08L81.12 108.92L80.18 108.17L81.38 108.12ZM65.80 118.30L66.22 119.42L67.42 119.47L66.48 120.22L66.80 121.38L65.80 120.71L64.80 121.38L65.12 120.22L64.18 119.47L65.38 119.42ZM83.00 117.20L83.42 118.32L84.62 118.37L83.68 119.12L84.00 120.28L83.00 119.61L82.00 120.28L82.32 119.12L81.38 118.37L82.58 118.32ZM64.90 124.10L65.32 125.22L66.52 125.27L65.58 126.02L65.90 127.18L64.90 126.51L63.90 127.18L64.22 126.02L63.28 125.27L64.48 125.22ZM72.70 126.40L73.12 127.52L74.32 127.57L73.38 128.32L73.70 129.48L72.70 128.81L71.70 129.48L72.02 128.32L71.08 127.57L72.28 127.52ZM101.80 120.60L102.22 121.72L103.42 121.77L102.48 122.52L102.80 123.68L101.80 123.01L100.80 123.68L101.12 122.52L100.18 121.77L101.38 121.72ZM116.40 110.90L116.82 112.02L118.02 112.07L117.08 112.82L117.40 113.98L116.40 113.31L115.40 113.98L115.72 112.82L114.78 112.07L115.98 112.02ZM123.30 107.90L123.72 109.02L124.92 109.07L123.98 109.82L124.30 110.98L123.30 110.31L122.30 110.98L122.62 109.82L121.68 109.07L122.88 109.02ZM122.70 113.80L123.12 114.92L124.32 114.97L123.38 115.72L123.70 116.88L122.70 116.21L121.70 116.88L122.02 115.72L121.08 114.97L122.28 114.92ZM133.60 115.70L134.02 116.82L135.22 116.87L134.28 117.62L134.60 118.78L133.60 118.11L132.60 118.78L132.92 117.62L131.98 116.87L133.18 116.82ZM136.90 119.60L137.32 120.72L138.52 120.77L137.58 121.52L137.90 122.68L136.90 122.01L135.90 122.68L136.22 121.52L135.28 120.77L136.48 120.72ZM122.30 126.40L122.72 127.52L123.92 127.57L122.98 128.32L123.30 129.48L122.30 128.81L121.30 129.48L121.62 128.32L120.68 127.57L121.88 127.52ZM129.10 125.50L129.52 126.62L130.72 126.67L129.78 127.42L130.10 128.58L129.10 127.91L128.10 128.58L128.42 127.42L127.48 126.67L128.68 126.62ZM137.90 125.50L138.32 126.62L139.52 126.67L138.58 127.42L138.90 128.58L137.90 127.91L136.90 128.58L137.22 127.42L136.28 126.67L137.48 126.62ZM120.30 132.30L120.72 133.42L121.92 133.47L120.98 134.22L121.30 135.38L120.30 134.71L119.30 135.38L119.62 134.22L118.68 133.47L119.88 133.42ZM126.20 132.30L126.62 133.42L127.82 133.47L126.88 134.22L127.20 135.38L126.20 134.71L125.20 135.38L125.52 134.22L124.58 133.47L125.78 133.42ZM116.40 133.30L116.82 134.42L118.02 134.47L117.08 135.22L117.40 136.38L116.40 135.71L115.40 136.38L115.72 135.22L114.78 134.47L115.98 134.42ZM95.00 133.30L95.42 134.42L96.62 134.47L95.68 135.22L96.00 136.38L95.00 135.71L94.00 136.38L94.32 135.22L93.38 134.47L94.58 134.42ZM143.70 100.50L144.12 101.62L145.32 101.67L144.38 102.42L144.70 103.58L143.70 102.91L142.70 103.58L143.02 102.42L142.08 101.67L143.28 101.62ZM141.20 113.80L141.62 114.92L142.82 114.97L141.88 115.72L142.20 116.88L141.20 116.21L140.20 116.88L140.52 115.72L139.58 114.97L140.78 114.92ZM137.60 128.40L138.02 129.52L139.22 129.57L138.28 130.32L138.60 131.48L137.60 130.81L136.60 131.48L136.92 130.32L135.98 129.57L137.18 129.52ZM149.80 124.80L150.22 125.92L151.42 125.97L150.48 126.72L150.80 127.88L149.80 127.21L148.80 127.88L149.12 126.72L148.18 125.97L149.38 125.92ZM123.00 135.70L123.42 136.82L124.62 136.87L123.68 137.62L124.00 138.78L123.00 138.11L122.00 138.78L122.32 137.62L121.38 136.87L122.58 136.82ZM130.30 139.40L130.72 140.52L131.92 140.57L130.98 141.32L131.30 142.48L130.30 141.81L129.30 142.48L129.62 141.32L128.68 140.57L129.88 140.52ZM76.80 138.20L77.22 139.32L78.42 139.37L77.48 140.12L77.80 141.28L76.80 140.61L75.80 141.28L76.12 140.12L75.18 139.37L76.38 139.32ZM86.50 138.20L86.92 139.32L88.12 139.37L87.18 140.12L87.50 141.28L86.50 140.61L85.50 141.28L85.82 140.12L84.88 139.37L86.08 139.32ZM91.40 149.10L91.82 150.22L93.02 150.27L92.08 151.02L92.40 152.18L91.40 151.51L90.40 152.18L90.72 151.02L89.78 150.27L90.98 150.22ZM91.40 152.00L91.82 153.12L93.02 153.17L92.08 153.92L92.40 155.08L91.40 154.41L90.40 155.08L90.72 153.92L89.78 153.17L90.98 153.12ZM98.70 146.70L99.12 147.82L100.32 147.87L99.38 148.62L99.70 149.78L98.70 149.11L97.70 149.78L98.02 148.62L97.08 147.87L98.28 147.82ZM103.00 142.30L103.42 143.42L104.62 143.47L103.68 144.22L104.00 145.38L103.00 144.71L102.00 145.38L102.32 144.22L101.38 143.47L102.58 143.42ZM108.40 140.60L108.82 141.72L110.02 141.77L109.08 142.52L109.40 143.68L108.40 143.01L107.40 143.68L107.72 142.52L106.78 141.77L107.98 141.72ZM109.60 146.70L110.02 147.82L111.22 147.87L110.28 148.62L110.60 149.78L109.60 149.11L108.60 149.78L108.92 148.62L107.98 147.87L109.18 147.82ZM123.50 145.50L123.92 146.62L125.12 146.67L124.18 147.42L124.50 148.58L123.50 147.91L122.50 148.58L122.82 147.42L121.88 146.67L123.08 146.62ZM115.20 151.10L115.62 152.22L116.82 152.27L115.88 153.02L116.20 154.18L115.20 153.51L114.20 154.18L114.52 153.02L113.58 152.27L114.78 152.22ZM127.90 152.80L128.32 153.92L129.52 153.97L128.58 154.72L128.90 155.88L127.90 155.21L126.90 155.88L127.22 154.72L126.28 153.97L127.48 153.92ZM138.80 156.40L139.22 157.52L140.42 157.57L139.48 158.32L139.80 159.48L138.80 158.81L137.80 159.48L138.12 158.32L137.18 157.57L138.38 157.52ZM137.60 160.10L138.02 161.22L139.22 161.27L138.28 162.02L138.60 163.18L137.60 162.51L136.60 163.18L136.92 162.02L135.98 161.27L137.18 161.22ZM113.70 165.70L114.12 166.82L115.32 166.87L114.38 167.62L114.70 168.78L113.70 168.11L112.70 168.78L113.02 167.62L112.08 166.87L113.28 166.82ZM140.50 168.10L140.92 169.22L142.12 169.27L141.18 170.02L141.50 171.18L140.50 170.51L139.50 171.18L139.82 170.02L138.88 169.27L140.08 169.22ZM139.50 173.90L139.92 175.02L141.12 175.07L140.18 175.82L140.50 176.98L139.50 176.31L138.50 176.98L138.82 175.82L137.88 175.07L139.08 175.02ZM52.90 155.90L53.32 157.02L54.52 157.07L53.58 157.82L53.90 158.98L52.90 158.31L51.90 158.98L52.22 157.82L51.28 157.07L52.48 157.02ZM68.20 167.40L68.62 168.52L69.82 168.57L68.88 169.32L69.20 170.48L68.20 169.81L67.20 170.48L67.52 169.32L66.58 168.57L67.78 168.52ZM70.70 165.70L71.12 166.82L72.32 166.87L71.38 167.62L71.70 168.78L70.70 168.11L69.70 168.78L70.02 167.62L69.08 166.87L70.28 166.82ZM73.10 167.40L73.52 168.52L74.72 168.57L73.78 169.32L74.10 170.48L73.10 169.81L72.10 170.48L72.42 169.32L71.48 168.57L72.68 168.52ZM69.50 169.80L69.92 170.92L71.12 170.97L70.18 171.72L70.50 172.88L69.50 172.21L68.50 172.88L68.82 171.72L67.88 170.97L69.08 170.92ZM79.20 164.20L79.62 165.32L80.82 165.37L79.88 166.12L80.20 167.28L79.20 166.61L78.20 167.28L78.52 166.12L77.58 165.37L78.78 165.32ZM87.70 180.80L88.12 181.92L89.32 181.97L88.38 182.72L88.70 183.88L87.70 183.21L86.70 183.88L87.02 182.72L86.08 181.97L87.28 181.92ZM96.20 182.00L96.62 183.12L97.82 183.17L96.88 183.92L97.20 185.08L96.20 184.41L95.20 185.08L95.52 183.92L94.58 183.17L95.78 183.12ZM102.30 181.20L102.72 182.32L103.92 182.37L102.98 183.12L103.30 184.28L102.30 183.61L101.30 184.28L101.62 183.12L100.68 182.37L101.88 182.32ZM116.90 180.80L117.32 181.92L118.52 181.97L117.58 182.72L117.90 183.88L116.90 183.21L115.90 183.88L116.22 182.72L115.28 181.97L116.48 181.92ZM90.20 151.20L90.62 152.32L91.82 152.37L90.88 153.12L91.20 154.28L90.20 153.61L89.20 154.28L89.52 153.12L88.58 152.37L89.78 152.32ZM71.70 163.90L72.12 165.02L73.32 165.07L72.38 165.82L72.70 166.98L71.70 166.31L70.70 166.98L71.02 165.82L70.08 165.07L71.28 165.02ZM66.80 171.30L67.22 172.42L68.42 172.47L67.48 173.22L67.80 174.38L66.80 173.71L65.80 174.38L66.12 173.22L65.18 172.47L66.38 172.42ZM92.10 190.10L92.52 191.22L93.72 191.27L92.78 192.02L93.10 193.18L92.10 192.51L91.10 193.18L91.42 192.02L90.48 191.27L91.68 191.22ZM98.90 189.20L99.32 190.32L100.52 190.37L99.58 191.12L99.90 192.28L98.90 191.61L97.90 192.28L98.22 191.12L97.28 190.37L98.48 190.32ZM105.70 194.60L106.12 195.72L107.32 195.77L106.38 196.52L106.70 197.68L105.70 197.01L104.70 197.68L105.02 196.52L104.08 195.77L105.28 195.72ZM111.00 197.90L111.42 199.02L112.62 199.07L111.68 199.82L112.00 200.98L111.00 200.31L110.00 200.98L110.32 199.82L109.38 199.07L110.58 199.02ZM90.20 195.00L90.62 196.12L91.82 196.17L90.88 196.92L91.20 198.08L90.20 197.41L89.20 198.08L89.52 196.92L88.58 196.17L89.78 196.12ZM96.00 198.90L96.42 200.02L97.62 200.07L96.68 200.82L97.00 201.98L96.00 201.31L95.00 201.98L95.32 200.82L94.38 200.07L95.58 200.02ZM89.20 207.70L89.62 208.82L90.82 208.87L89.88 209.62L90.20 210.78L89.20 210.11L88.20 210.78L88.52 209.62L87.58 208.87L88.78 208.82ZM94.60 205.70L95.02 206.82L96.22 206.87L95.28 207.62L95.60 208.78L94.60 208.11L93.60 208.78L93.92 207.62L92.98 206.87L94.18 206.82ZM135.60 119.90L136.02 121.02L137.22 121.07L136.28 121.82L136.60 122.98L135.60 122.31L134.60 122.98L134.92 121.82L133.98 121.07L135.18 121.02ZM138.50 119.30L138.92 120.42L140.12 120.47L139.18 121.22L139.50 122.38L138.50 121.71L137.50 122.38L137.82 121.22L136.88 120.47L138.08 120.42ZM163.80 128.00L164.22 129.12L165.42 129.17L164.48 129.92L164.80 131.08L163.80 130.41L162.80 131.08L163.12 129.92L162.18 129.17L163.38 129.12ZM170.60 130.00L171.02 131.12L172.22 131.17L171.28 131.92L171.60 133.08L170.60 132.41L169.60 133.08L169.92 131.92L168.98 131.17L170.18 131.12ZM166.70 124.10L167.12 125.22L168.32 125.27L167.38 126.02L167.70 127.18L166.70 126.51L165.70 127.18L166.02 126.02L165.08 125.27L166.28 125.22ZM150.20 136.80L150.62 137.92L151.82 137.97L150.88 138.72L151.20 139.88L150.20 139.21L149.20 139.88L149.52 138.72L148.58 137.97L149.78 137.92ZM124.90 145.60L125.32 146.72L126.52 146.77L125.58 147.52L125.90 148.68L124.90 148.01L123.90 148.68L124.22 147.52L123.28 146.77L124.48 146.72ZM161.80 149.40L162.22 150.52L163.42 150.57L162.48 151.32L162.80 152.48L161.80 151.81L160.80 152.48L161.12 151.32L160.18 150.57L161.38 150.52ZM163.40 148.90L163.82 150.02L165.02 150.07L164.08 150.82L164.40 151.98L163.40 151.31L162.40 151.98L162.72 150.82L161.78 150.07L162.98 150.02ZM155.20 87.20L155.62 88.32L156.82 88.37L155.88 89.12L156.20 90.28L155.20 89.61L154.20 90.28L154.52 89.12L153.58 88.37L154.78 88.32ZM163.00 85.30L163.42 86.42L164.62 86.47L163.68 87.22L164.00 88.38L163.00 87.71L162.00 88.38L162.32 87.22L161.38 86.47L162.58 86.42ZM158.50 116.00L158.92 117.12L160.12 117.17L159.18 117.92L159.50 119.08L158.50 118.41L157.50 119.08L157.82 117.92L156.88 117.17L158.08 117.12ZM167.20 118.80L167.62 119.92L168.82 119.97L167.88 120.72L168.20 121.88L167.20 121.21L166.20 121.88L166.52 120.72L165.58 119.97L166.78 119.92ZM112.00 126.30L112.42 127.42L113.62 127.47L112.68 128.22L113.00 129.38L112.00 128.71L111.00 129.38L111.32 128.22L110.38 127.47L111.58 127.42ZM114.50 128.30L114.92 129.42L116.12 129.47L115.18 130.22L115.50 131.38L114.50 130.71L113.50 131.38L113.82 130.22L112.88 129.47L114.08 129.42ZM118.00 128.80L118.42 129.92L119.62 129.97L118.68 130.72L119.00 131.88L118.00 131.21L117.00 131.88L117.32 130.72L116.38 129.97L117.58 129.92ZM121.00 129.80L121.42 130.92L122.62 130.97L121.68 131.72L122.00 132.88L121.00 132.21L120.00 132.88L120.32 131.72L119.38 130.97L120.58 130.92ZM117.00 125.30L117.42 126.42L118.62 126.47L117.68 127.22L118.00 128.38L117.00 127.71L116.00 128.38L116.32 127.22L115.38 126.47L116.58 126.42ZM119.50 131.30L119.92 132.42L121.12 132.47L120.18 133.22L120.50 134.38L119.50 133.71L118.50 134.38L118.82 133.22L117.88 132.47L119.08 132.42Z" fill="#111"/>
<text x="95.4" y="29.4" font-size="5.40" font-family="Liberation Mono, Noto Sans CJK SC, monospace" text-anchor="start" fill="#222" textLength="29.8" lengthAdjust="spacingAndGlyphs" >Zhangjiagang</text>
<text x="122.8" y="69.7" font-size="5.40" font-family="Liberation Mono, Noto Sans CJK SC, monospace" text-anchor="start" fill="#222" textLength="19.5" lengthAdjust="spacingAndGlyphs" >Changshu</text>
<text x="177.4" y="86.6" font-size="5.40" font-family="Liberation Mono, Noto Sans CJK SC, monospace" text-anchor="start" fill="#222" textLength="16.7" lengthAdjust="spacingAndGlyphs" >Taicang</text>
<text x="97.0" y="106.4" font-size="5.40" font-family="Liberation Mono, Noto Sans CJK SC, monospace" text-anchor="start" fill="#222" textLength="25.3" lengthAdjust="spacingAndGlyphs" >Xiangcheng</text>
<text x="68.3" y="120.8" font-size="5.40" font-family="Liberation Mono, Noto Sans CJK SC, monospace" text-anchor="start" fill="#222" textLength="12.7" lengthAdjust="spacingAndGlyphs" >Huqiu</text>
<text x="45.7" y="153.6" font-size="5.40" font-family="Liberation Mono, Noto Sans CJK SC, monospace" text-anchor="start" fill="#222" textLength="16.6" lengthAdjust="spacingAndGlyphs" >Wuzhong</text>
<text x="100.0" y="127.6" font-size="5.40" font-family="Liberation Mono, Noto Sans CJK SC, monospace" text-anchor="start" fill="#222" textLength="10.8" lengthAdjust="spacingAndGlyphs" >Gusu</text>
<text x="108.0" y="124.1" font-size="5.40" font-family="Liberation Mono, Noto Sans CJK SC, monospace" text-anchor="start" fill="#222" textLength="12.0" lengthAdjust="spacingAndGlyphs" >Gongye</text>
<text x="115.0" y="136.6" font-size="5.40" font-family="Liberation Mono, Noto Sans CJK SC, monospace" text-anchor="start" fill="#222" textLength="15.0" lengthAdjust="spacingAndGlyphs" >Yuanqu</text>
<text x="108.4" y="175.5" font-size="5.40" font-family="Liberation Mono, Noto Sans CJK SC, monospace" text-anchor="start" fill="#222" textLength="17.0" lengthAdjust="spacingAndGlyphs" >Wujiang</text>
<text x="152.1" y="126.5" font-size="5.40" font-family="Liberation Mono, Noto Sans CJK SC, monospace" text-anchor="start" fill="#222" textLength="15.6" lengthAdjust="spacingAndGlyphs" >Kunshan</text>
<text x="4.5" y="10.6" font-size="6.40" font-family="Liberation Serif, Noto Serif CJK SC, serif" text-anchor="start" fill="#222" textLength="16.0" lengthAdjust="spacingAndGlyphs" font-weight="bold">Legend</text>
<path d="M9.70 15.10L10.14 16.29L11.41 16.34L10.42 17.13L10.76 18.36L9.70 17.66L8.64 18.36L8.98 17.13L7.99 16.34L9.26 16.29Z" fill="#111"/>
<text x="17.4" y="18.7" font-size="5.40" font-family="Liberation Mono, Noto Sans CJK SC, monospace" text-anchor="start" fill="#333" textLength="38.5" lengthAdjust="spacingAndGlyphs" font-weight="bold">Traditional villages</text>
<text x="4.3" y="24.8" font-size="5.40" font-family="Liberation Mono, Noto Sans CJK SC, monospace" text-anchor="start" fill="#333" textLength="51.0" lengthAdjust="spacingAndGlyphs" font-weight="bold">Average precipitation(mm)</text>
<rect x="4.1" y="27.2" width="11.1" height="5.4" fill="#4ea897" stroke="#555" stroke-width="0.6"/>
<text x="17.4" y="31.5" font-size="4.70" font-family="Liberation Mono, Noto Sans CJK SC, monospace" text-anchor="start" fill="#505050" textLength="28.6" lengthAdjust="spacingAndGlyphs" >1,148.5-1,226.5</text>
<rect x="4.1" y="34.5" width="11.1" height="5.4" fill="#85b0a3" stroke="#555" stroke-width="0.6"/>
<text x="17.4" y="38.8" font-size="4.70" font-family="Liberation Mono, Noto Sans CJK SC, monospace" text-anchor="start" fill="#505050" textLength="28.6" lengthAdjust="spacingAndGlyphs" >1,226.5-1,293.9</text>
<rect x="4.1" y="41.8" width="11.1" height="5.4" fill="#bccfbc" stroke="#555" stroke-width="0.6"/>
<text x="17.4" y="46.1" font-size="4.70" font-family="Liberation Mono, Noto Sans CJK SC, monospace" text-anchor="start" fill="#505050" textLength="28.6" lengthAdjust="spacingAndGlyphs" >1,293.9-1,338.9</text>
<rect x="4.1" y="49.1" width="11.1" height="5.4" fill="#f1fbc1" stroke="#555" stroke-width="0.6"/>
<text x="17.4" y="53.4" font-size="4.70" font-family="Liberation Mono, Noto Sans CJK SC, monospace" text-anchor="start" fill="#505050" textLength="28.6" lengthAdjust="spacingAndGlyphs" >1,338.9-1,371.4</text>
<rect x="4.1" y="56.4" width="11.1" height="5.4" fill="#efac78" stroke="#555" stroke-width="0.6"/>
<text x="17.4" y="60.7" font-size="4.70" font-family="Liberation Mono, Noto Sans CJK SC, monospace" text-anchor="start" fill="#505050" textLength="28.6" lengthAdjust="spacingAndGlyphs" >1,371.4-1,429.7</text>
<rect x="4.1" y="63.7" width="11.1" height="5.4" fill="#df6d52" stroke="#555" stroke-width="0.6"/>
<text x="17.4" y="68.0" font-size="4.70" font-family="Liberation Mono, Noto Sans CJK SC, monospace" text-anchor="start" fill="#505050" textLength="28.6" lengthAdjust="spacingAndGlyphs" >1,429.7-1,476.5</text>
<rect x="4.1" y="71.0" width="11.1" height="5.4" fill="#cf302b" stroke="#555" stroke-width="0.6"/>
<text x="17.4" y="75.3" font-size="4.70" font-family="Liberation Mono, Noto Sans CJK SC, monospace" text-anchor="start" fill="#505050" textLength="28.6" lengthAdjust="spacingAndGlyphs" >1,476.5-1,534.5</text>
<rect x="1.5" y="1.5" width="221" height="220.8" fill="none" stroke="#2b2b2b" stroke-width="1"/>
<text x="208.0" y="17.0" font-size="6.70" font-family="Liberation Sans, sans-serif" text-anchor="middle" fill="#111" >N</text>
<path d="M207.8 19 L202.7 35 L207.8 29.4Z" fill="#111" stroke="#111" stroke-width="0.4"/>
<path d="M207.8 19 L212.9 34.8 L207.8 29.4Z" fill="#fff" stroke="#111" stroke-width="0.5"/>
<path d="M163.1 214.3 H194.7 M163.10 214.3 v-5.0 M167.05 214.3 v-2.8 M171.00 214.3 v-2.8 M174.95 214.3 v-2.8 M178.90 214.3 v-5.0 M182.85 214.3 v-2.8 M186.80 214.3 v-2.8 M190.75 214.3 v-2.8 M194.70 214.3 v-5.0" fill="none" stroke="#111" stroke-width="0.85"/>
<text x="161.8" y="204.9" font-size="6.70" font-family="Liberation Sans, sans-serif" text-anchor="start" fill="#222" >0</text>
<text x="169.2" y="204.9" font-size="6.70" font-family="Liberation Sans, sans-serif" text-anchor="start" fill="#222" >5</text>
<text x="175.3" y="204.9" font-size="6.70" font-family="Liberation Sans, sans-serif" text-anchor="start" fill="#222" textLength="7.4" lengthAdjust="spacingAndGlyphs" >10</text>
<text x="189.6" y="204.9" font-size="6.70" font-family="Liberation Sans, sans-serif" text-anchor="start" fill="#222" textLength="20.4" lengthAdjust="spacingAndGlyphs" >20 km</text>
</g>
<g transform="translate(230.4 0)">
<g clip-path="url(#oc)">
<rect x="0" y="0" width="222" height="222" fill="#f1fbc1"/>
<path d="M89.6 76.0 C91.4 76.4 94.8 76.8 100.5 78.2 C106.2 79.7 116.0 83.1 123.8 84.7 C131.6 86.3 140.9 86.6 147.2 87.6 C153.5 88.6 156.9 89.5 161.8 90.5 C166.7 91.5 171.5 92.4 176.4 93.4 C181.3 94.4 185.2 96.4 191.0 96.4 C196.8 96.4 205.8 94.5 211.4 93.4 C217.0 92.3 222.4 90.6 224.6 90.0 L230 0 L60 0 L60 76Z" fill="#bccfbc"/>
<path d="M89.6 42.0 C91.2 42.3 93.5 42.5 99.0 43.8 C104.5 45.1 114.4 49.6 122.4 49.6 C130.4 49.6 138.5 43.4 147.2 43.8 C156.0 44.2 166.2 47.4 174.9 52.0 C183.7 56.6 192.6 65.6 199.7 71.5 C206.8 77.4 213.1 83.7 217.3 87.6 C221.4 91.5 223.4 93.8 224.6 95.0 L230 0 L60 0 L60 42Z" fill="#80a8a0"/>
<path d="M49.6 112.0 C52.2 111.5 60.2 110.0 65.0 109.1 C69.8 108.2 73.8 106.7 78.6 106.7 C83.4 106.7 87.8 107.7 93.9 109.1 C100.0 110.5 108.5 113.7 115.1 115.2 C121.7 116.7 127.3 116.9 133.4 118.2 C139.5 119.5 145.5 121.3 151.6 122.8 C157.7 124.3 164.3 126.1 169.9 127.4 C175.5 128.7 181.0 129.8 185.1 130.4 C189.2 131.0 193.0 130.9 194.6 131.0 L200 230 L0 230 L0 112Z" fill="#efac78"/>
<path d="M-0.4 128.0 C5.7 128.4 26.0 129.5 36.1 130.4 C46.2 131.3 53.3 131.6 60.4 133.4 C67.5 135.2 72.0 139.0 78.6 141.0 C85.2 143.0 92.8 144.8 99.9 145.6 C107.0 146.4 115.1 144.8 121.2 145.6 C127.3 146.4 131.3 148.7 136.4 150.2 C141.5 151.7 147.0 153.7 151.6 154.7 C156.2 155.7 159.1 156.1 163.8 156.2 C168.5 156.2 177.0 155.2 179.6 155.0 L200 230 L0 230 L0 128Z" fill="#df6d52"/>
<path d="M-0.4 158.0 C1.1 158.2 4.1 158.8 8.7 159.3 C13.3 159.8 20.9 159.8 27.0 160.8 C33.1 161.8 39.1 164.1 45.2 165.4 C51.3 166.7 57.8 167.4 63.4 168.4 C69.0 169.4 73.5 171.5 78.6 171.5 C83.7 171.5 88.8 168.2 93.9 168.4 C99.0 168.7 104.5 171.2 109.1 173.0 C113.6 174.8 117.2 177.2 121.2 179.0 C125.3 180.8 129.9 183.4 133.4 183.6 C136.9 183.8 139.0 180.9 142.5 180.0 C146.0 179.1 152.6 178.3 154.6 178.0 L200 230 L0 230 L0 158Z" fill="#cf302b"/>
<ellipse cx="83.6" cy="120.0" rx="3.2" ry="4.2" transform="rotate(0 83.6 120.0)" fill="#f4ecb0" fill-opacity="0.55"/>
<ellipse cx="68.6" cy="132.0" rx="3.8" ry="2.8" transform="rotate(20 68.6 132.0)" fill="#f4ecb0" fill-opacity="0.55"/>
<ellipse cx="78.9" cy="135.0" rx="4.0" ry="3.4" transform="rotate(0 78.9 135.0)" fill="#f4ecb0" fill-opacity="0.55"/>
<ellipse cx="55.9" cy="158.0" rx="4.0" ry="3.4" transform="rotate(10 55.9 158.0)" fill="#f4ecb0" fill-opacity="0.55"/>
<ellipse cx="71.6" cy="166.0" rx="2.8" ry="3.6" transform="rotate(20 71.6 166.0)" fill="#f4ecb0" fill-opacity="0.55"/>
<ellipse cx="97.1" cy="142.2" rx="4.0" ry="3.0" transform="rotate(-30 97.1 142.2)" fill="#f4ecb0" fill-opacity="0.55"/>
<ellipse cx="73.3" cy="141.4" rx="2.6" ry="2.4" transform="rotate(0 73.3 141.4)" fill="#f4ecb0" fill-opacity="0.55"/>
<ellipse cx="118.6" cy="67.5" rx="3.0" ry="1.2" transform="rotate(30 118.6 67.5)" fill="#7fc2b6" fill-opacity="0.9"/>
<ellipse cx="155.6" cy="50.0" rx="5.0" ry="1.5" transform="rotate(20 155.6 50.0)" fill="#7fc2b6" fill-opacity="0.9"/>
<ellipse cx="167.6" cy="53.0" rx="4.0" ry="1.2" transform="rotate(25 167.6 53.0)" fill="#7fc2b6" fill-opacity="0.9"/>
<ellipse cx="83.6" cy="120.0" rx="1.8" ry="2.8" transform="rotate(0 83.6 120.0)" fill="#7fc2b6" fill-opacity="0.9"/>
<ellipse cx="68.6" cy="132.0" rx="2.4" ry="1.4" transform="rotate(20 68.6 132.0)" fill="#7fc2b6" fill-opacity="0.9"/>
<ellipse cx="78.9" cy="135.0" rx="2.6" ry="2.0" transform="rotate(0 78.9 135.0)" fill="#7fc2b6" fill-opacity="0.9"/>
<ellipse cx="55.9" cy="158.0" rx="2.6" ry="2.0" transform="rotate(10 55.9 158.0)" fill="#7fc2b6" fill-opacity="0.9"/>
<ellipse cx="71.6" cy="166.0" rx="1.4" ry="2.2" transform="rotate(20 71.6 166.0)" fill="#7fc2b6" fill-opacity="0.9"/>
<ellipse cx="97.1" cy="142.2" rx="2.6" ry="1.6" transform="rotate(-30 97.1 142.2)" fill="#7fc2b6" fill-opacity="0.9"/>
<ellipse cx="73.3" cy="141.4" rx="1.2" ry="1.0" transform="rotate(0 73.3 141.4)" fill="#7fc2b6" fill-opacity="0.9"/>
</g>
<path d="M70.3 168.1 L73.3 168.4 L75.9 167.9 L79.2 167.8 M79.2 167.8 L80.1 163.2 M78.8 162.6 L80.1 163.2 M71.9 23.6 L74.0 24.3 M74.0 24.3 L74.1 23.6 M72.7 9.6 L73.6 13.0 L72.7 14.7 L72.8 17.9 L73.1 20.7 L74.1 23.6 M79.2 167.8 L79.0 170.4 M67.3 171.4 L70.4 170.8 L73.4 171.1 L75.3 170.7 L79.0 170.4 M83.9 109.5 L82.2 106.9 L81.3 104.6 M83.9 109.5 L81.4 111.2 L79.4 111.7 L77.3 114.1 L74.7 114.6 L72.6 117.2 L70.5 117.8 M70.0 117.9 L70.5 117.8 M70.0 117.9 L69.5 116.1 M68.0 118.7 L70.0 117.9 M70.5 117.8 L73.0 120.4 L74.7 123.0 L75.7 124.0 L77.9 127.1 L79.5 129.3 M79.5 129.3 L75.7 130.0 L72.4 131.6 M73.5 8.5 L76.0 6.8 L78.8 5.2 M74.1 23.6 L75.9 21.7 L78.3 21.1 L80.7 18.7 L82.3 17.4 L84.3 15.5 L87.0 13.8 L89.1 13.0 M89.1 13.0 L87.0 11.2 L85.3 10.2 L83.2 8.6 L80.6 7.0 L78.8 5.2 M79.0 170.4 L78.8 173.1 L79.1 175.6 M79.1 175.6 L76.0 176.5 L72.8 177.3 L70.7 178.7 M70.3 188.4 L73.7 187.7 L75.9 188.1 L78.5 187.6 L80.8 187.3 M79.1 175.6 L81.0 177.6 L82.7 181.0 M82.7 181.0 L81.1 183.7 L80.8 187.3 M83.9 109.5 L86.3 110.3 M86.3 110.3 L87.5 107.8 L89.3 106.7 L91.2 105.6 L93.8 103.1 L95.6 100.9 L97.1 99.4 M97.1 99.4 L97.3 94.7 M99.9 57.6 L103.1 59.7 L105.0 60.7 M105.9 69.1 L102.1 72.1 M105.9 69.1 L106.0 64.8 M106.0 64.8 L105.0 60.7 M148.2 42.5 L146.3 44.2 L144.2 46.4 L141.7 48.5 L139.2 49.6 M142.3 35.2 L139.9 34.6 L137.1 33.9 L134.0 34.3 L131.8 33.5 M139.2 49.6 L137.3 48.9 L135.0 46.8 L131.4 45.3 L129.6 43.9 M129.6 43.9 L130.9 41.7 L130.7 38.6 L130.8 35.6 L131.8 33.5 M90.7 182.2 L91.7 180.8 L94.4 177.6 L95.7 175.5 L97.1 174.6 L99.6 172.2 L100.7 170.5 L102.8 168.3 M82.7 181.0 L86.1 181.3 L87.3 181.1 L90.7 182.2 M80.1 163.2 L81.4 162.2 L84.0 159.7 M84.0 159.7 L86.4 161.4 L88.2 161.5 L91.4 163.6 L93.1 163.3 L96.3 164.8 L98.5 165.6 L100.7 167.8 L102.8 168.3 M74.0 24.3 L74.5 25.8 M97.0 43.6 L97.0 40.1 L96.2 37.0 M97.0 43.6 L96.5 46.1 M94.3 33.4 L89.9 33.8 M94.3 33.4 L96.2 37.0 M96.7 28.2 L96.8 24.6 L95.9 22.1 L96.6 18.8 L95.7 16.4 M96.7 28.2 L96.1 31.3 L94.3 33.4 M89.1 13.0 L93.1 14.4 L95.7 16.4 M131.8 33.5 L131.0 30.9 M131.0 30.9 L132.5 28.4 L135.5 27.4 L136.9 24.6 M129.6 10.4 L129.1 10.6 M129.9 11.0 L129.1 10.6 M90.7 182.2 L93.0 183.7 L94.4 185.8 L97.3 186.1 L98.3 188.8 L101.3 189.5 L102.7 191.3 M80.8 187.3 L80.1 190.2 L80.1 193.3 M102.7 191.3 L101.8 193.6 L101.2 197.3 L99.7 200.2 M99.7 200.2 L97.7 198.9 L95.5 198.9 L92.1 198.3 L90.2 197.3 L86.7 195.2 L85.4 194.7 L82.6 193.6 L80.1 193.3 M86.3 110.3 L88.8 112.5 L90.3 114.1 L91.5 116.4 L93.9 119.2 L94.3 120.9 L96.8 123.8 M97.1 99.4 L100.2 100.6 L103.2 103.2 M103.2 103.2 L102.5 105.9 L102.8 108.9 L102.9 111.4 L102.7 113.9 L102.0 117.7 L102.2 120.1 M102.2 120.1 L98.9 121.5 L96.8 123.8 M103.4 103.1 L104.9 104.8 L106.5 105.9 L109.1 107.8 L111.4 110.6 L113.0 111.9 M113.0 111.9 L111.1 114.0 L108.7 114.8 L106.7 117.2 L104.7 119.2 M102.2 120.1 L104.7 119.2 M79.5 129.3 L82.1 130.0 L84.5 131.9 M84.5 131.9 L86.4 131.4 L88.8 129.8 L92.3 128.6 L93.4 128.3 L96.3 127.0 M96.8 123.8 L96.3 127.0 M100.5 83.0 L103.2 82.9 L104.9 82.3 L107.4 81.8 L111.1 81.2 L113.0 82.4 L115.9 81.3 M103.5 91.6 L107.6 92.6 L110.3 93.7 M119.0 87.5 L118.0 84.7 L116.2 81.5 M119.0 87.7 L116.7 89.8 L114.1 91.2 L111.7 92.8 L110.3 93.7 M103.4 103.1 L106.0 102.1 L108.4 101.2 L110.4 100.4 M110.3 93.7 L110.8 96.4 L110.4 100.4 M105.9 69.1 L108.4 71.0 L111.0 71.8 M115.9 81.3 L115.5 78.2 L113.6 75.9 M111.0 71.8 L113.6 75.9 M115.1 42.2 L111.9 41.9 L109.1 39.6 L106.8 39.3 L103.6 38.5 M115.1 42.2 L116.9 42.3 M116.9 42.3 L117.3 39.5 L117.0 36.6 L117.0 34.0 M103.6 38.5 L106.0 38.2 L109.2 37.1 L112.3 35.4 L115.0 35.4 L117.0 34.0 M109.2 49.7 L111.2 47.3 L112.5 45.1 L115.1 42.2 M109.2 49.7 L106.2 48.5 L103.7 46.6 L102.0 46.0 L99.7 45.3 L97.0 43.6 M96.2 37.0 L99.5 36.8 L101.4 38.1 L103.6 38.5 M96.7 28.2 L99.5 27.8 L101.9 28.0 L104.4 27.1 L107.3 26.0 L109.5 25.6 L111.6 25.0 L114.3 25.0 L117.3 25.2 L119.9 24.7 M119.9 24.7 L119.4 27.8 L118.6 30.7 L117.0 34.0 M120.6 24.3 L123.6 26.0 L126.0 27.2 L129.1 29.6 L131.0 30.9 M129.6 43.9 L126.5 45.9 M119.9 24.7 L120.6 24.3 M116.9 42.3 L118.6 44.0 L121.5 45.6 M121.5 45.6 L124.8 45.0 L126.5 45.9 M109.2 49.7 L110.8 52.4 L113.0 54.3 M121.5 45.6 L118.6 48.1 L117.4 50.3 L115.2 52.8 L113.0 54.3 M105.0 60.7 L107.4 59.1 L109.5 57.3 L112.9 55.5 M113.0 54.3 L112.9 55.5 M106.2 189.4 L105.6 187.5 L106.1 183.5 L104.2 180.9 L104.0 179.2 L104.1 176.3 L103.6 172.8 L103.0 171.7 L102.8 168.3 M106.2 189.4 L109.4 189.1 L111.1 189.2 L114.2 188.1 M114.2 188.1 L115.7 186.1 L116.9 183.5 L118.7 181.5 L119.7 179.8 L122.1 177.4 M122.1 177.4 L119.4 176.3 L117.9 175.2 L115.2 173.3 L113.8 172.2 L110.7 171.8 L108.3 170.5 L106.6 168.4 L104.7 167.4 M104.7 167.4 L102.8 168.3 M102.7 191.3 L106.2 189.4 M104.4 204.6 L102.8 203.4 L99.7 202.4 M99.7 202.4 L99.7 200.2 M119.9 196.3 L118.8 194.1 L117.7 192.5 L115.6 189.4 L114.2 188.1 M131.5 179.8 L129.0 177.5 L127.0 175.2 M127.0 175.2 L124.2 176.3 L122.1 177.4 M82.8 144.0 L82.6 141.3 L83.3 138.9 L83.9 136.4 L83.7 133.3 M83.7 133.3 L80.9 134.6 L79.0 135.9 L76.2 138.2 L73.2 138.8 M84.3 158.9 L84.2 156.0 M84.0 159.7 L84.3 158.9 M84.5 131.9 L83.7 133.3 M127.7 11.3 L125.2 10.8 L121.2 10.3 L118.4 9.5 M127.9 10.9 L127.5 9.9 M120.8 21.7 L122.5 19.7 L123.3 17.5 L124.3 15.1 L125.7 13.6 L127.7 11.3 M120.8 21.7 L119.9 19.2 L116.7 18.2 L115.6 15.8 L113.5 13.3 L112.8 12.0 L110.9 9.9 M120.6 24.3 L120.8 21.7 M132.0 15.5 L130.5 14.1 L127.7 11.2 M129.1 10.6 L127.9 10.9 M95.7 16.4 L97.0 14.5 L98.8 12.3 L100.4 10.3 M99.7 202.4 L98.0 205.3 L96.6 206.7 M96.6 206.7 L97.2 210.5 M127.2 174.7 L127.0 175.2 M127.2 174.7 L129.9 172.8 L132.6 172.8 L135.5 170.8 L136.7 169.9 L140.7 168.5 L142.6 166.8 M146.9 170.4 L144.6 168.4 L142.6 166.8 M134.5 84.7 L135.8 80.8 L136.3 78.2 M139.1 94.0 L138.4 91.7 L136.1 89.9 L135.5 86.4 L134.5 84.7 M139.1 94.0 L141.3 94.4 L144.1 94.1 L147.9 92.9 L150.1 93.8 L153.0 93.2 M136.3 78.2 L138.9 78.2 L141.4 77.2 L144.2 76.4 M153.0 93.2 L151.3 91.3 L151.0 88.5 L149.0 85.7 L148.1 83.0 L146.7 80.8 L145.2 78.5 L144.2 76.4 M126.8 71.3 L125.1 68.3 L122.3 66.3 M126.8 71.3 L128.9 71.1 L131.9 72.1 M131.9 72.1 L132.2 69.5 L134.7 67.7 L135.2 64.5 L136.3 62.1 M136.3 62.1 L134.3 60.9 L131.2 59.7 L127.8 58.7 L125.8 56.9 M125.8 56.9 L122.6 59.5 L120.6 62.1 M122.3 66.3 L120.5 63.6 M120.6 62.1 L120.5 63.4 M116.2 81.5 L119.0 79.6 L120.2 77.8 L123.2 75.6 L124.0 74.0 L126.8 71.3 M113.6 75.9 L114.6 74.3 L117.7 71.5 L118.8 70.4 L120.0 67.8 L122.3 66.3 M119.0 87.5 L120.9 86.5 L123.6 86.2 L127.2 86.4 L129.8 85.9 L132.4 84.6 L134.5 84.7 M136.3 78.2 L134.9 75.4 L133.4 74.6 L131.9 72.1 M139.2 49.6 L140.1 52.2 L140.8 55.4 L142.1 58.5 M142.1 58.5 L139.9 61.1 L136.3 62.1 M126.5 45.9 L126.7 49.4 L126.6 51.0 L125.9 54.5 L125.8 56.9 M112.9 55.5 L115.2 57.4 L116.7 58.2 L119.4 60.0 L120.6 62.1 M111.0 71.8 L113.6 69.6 L115.6 68.3 L117.2 66.1 L118.5 64.9 L120.5 63.6 M106.0 64.8 L109.2 64.8 L111.7 64.6 L115.5 63.3 L117.7 64.0 L120.5 63.4 M121.0 155.2 L121.7 157.7 L122.7 160.5 L122.6 163.8 M121.0 155.2 L118.5 153.6 L115.0 152.0 M115.0 152.0 L113.6 155.7 L112.6 158.8 L112.5 161.4 M122.6 163.8 L120.2 163.8 L118.0 162.5 L114.4 161.6 L112.5 161.4 M131.6 149.0 L132.2 149.2 M131.6 149.0 L128.2 150.8 L125.6 151.6 L123.2 153.5 L121.0 155.2 M126.3 168.7 L124.7 166.2 L122.6 163.8 M126.3 168.7 L127.9 165.8 M127.9 165.8 L128.6 162.3 L129.0 159.8 L130.4 156.7 L130.9 155.0 L131.5 151.2 L132.2 149.2 M104.7 167.4 L105.4 166.0 M126.3 168.7 L126.3 171.3 L127.2 174.7 M105.4 166.0 L107.4 164.1 L110.9 163.4 L112.5 161.4 M115.0 152.0 L114.5 151.4 M131.6 149.0 L130.4 147.0 L127.6 145.0 L125.9 141.5 L124.0 139.7 M114.5 151.4 L116.5 149.0 L118.2 147.9 L118.9 145.5 L121.2 143.9 L122.5 141.2 L124.0 139.7 M101.4 152.3 L104.1 153.7 M101.4 152.3 L100.5 150.1 L100.0 147.6 L99.8 144.5 L98.2 142.5 L98.2 139.7 M104.1 153.7 L106.3 152.6 L108.3 150.8 L111.4 150.2 M111.4 150.2 L110.3 147.7 L109.0 145.1 L109.2 142.1 L108.2 138.6 L106.9 136.3 M106.9 136.3 L102.9 134.7 L100.2 133.6 M98.2 139.7 L98.6 136.5 L100.2 133.6 M84.3 158.9 L87.1 157.6 L89.7 157.0 L91.1 156.3 L94.0 154.9 L96.5 155.0 L99.3 152.9 L101.4 152.3 M105.4 166.0 L105.7 162.4 L104.6 159.7 L105.2 156.0 L104.1 153.7 M88.1 149.2 L90.3 147.3 L91.6 145.6 L94.6 143.9 L95.5 142.1 L98.2 139.7 M114.5 151.4 L111.4 150.2 M119.3 134.9 L121.3 137.2 L123.7 138.3 M124.0 139.7 L123.7 138.3 M119.3 134.9 L116.3 134.6 L113.5 135.7 L109.9 136.1 L106.9 136.3 M120.1 125.2 L119.8 127.7 L120.3 131.3 L119.3 134.9 M104.7 119.2 L107.0 119.5 L110.2 121.9 L112.4 122.7 L114.7 123.0 L117.2 123.9 L120.1 125.2 M96.3 127.0 L97.7 128.9 L98.2 131.7 L100.2 133.6 M96.6 206.7 L95.8 206.8 M85.9 213.7 L88.0 211.8 L90.3 209.5 L93.6 208.4 L95.8 206.8 M119.0 87.7 L120.7 89.5 L121.5 92.1 L121.4 94.7 L123.0 97.8 L124.0 100.7 M139.1 94.0 L137.0 97.8 L135.5 100.1 M135.5 100.1 L132.7 100.9 L130.3 100.1 L127.1 100.0 L124.0 100.7 M110.4 100.4 L112.3 102.4 L114.7 103.2 L116.0 106.0 L118.8 107.3 M124.0 100.7 L122.6 103.1 L120.1 105.5 L118.8 107.3 M113.0 111.9 L115.9 109.7 L118.6 108.7 M118.6 108.7 L118.8 107.3 M148.3 118.1 L146.9 120.8 L147.3 123.3 L145.3 126.0 L144.2 128.5 L143.8 130.8 M148.3 118.1 L145.4 115.7 L142.7 114.8 L139.9 113.1 M139.9 113.1 L137.7 114.3 L133.9 115.0 L130.9 115.9 L128.6 116.7 L125.6 117.4 M134.6 131.2 L132.5 129.6 L131.5 127.6 L129.2 125.6 L129.0 123.4 L126.2 122.0 L125.2 119.3 M134.6 131.2 L137.8 130.7 L140.9 131.5 L143.8 130.8 M125.2 119.3 L125.6 117.4 M118.6 108.7 L119.7 111.0 L122.3 113.7 L123.1 115.2 L125.6 117.4 M135.5 100.1 L136.7 102.9 L137.8 105.5 L138.3 108.1 L138.5 111.1 L139.9 113.1 M123.7 138.3 L125.9 136.1 L128.6 135.8 L130.5 133.3 L132.8 132.4 L134.6 131.2 M120.1 125.2 L122.3 122.7 L123.2 120.6 L125.2 119.3 M162.6 101.4 L159.5 99.1 L158.3 97.2 L155.3 96.0 L153.3 93.3 M162.6 101.4 L162.1 104.7 L160.6 106.0 L160.8 108.3 L159.6 112.3 L158.3 114.1 M148.3 118.1 L151.1 117.3 L152.9 116.0 L154.8 115.2 L157.9 114.4 M158.3 114.1 L157.9 114.4 M143.8 130.8 L144.9 133.8 M144.9 133.8 L143.1 135.6 L142.0 139.0 L139.1 140.5 L138.2 142.7 L135.6 145.3 L134.1 147.2 L132.2 149.2 M155.5 156.5 L154.5 153.9 L152.8 152.1 M171.0 153.9 L168.7 153.2 L166.1 152.8 L163.8 152.6 L161.5 151.9 L158.5 152.6 L156.2 151.7 L153.1 151.3 M153.1 151.3 L152.8 152.1 M142.6 166.8 L143.5 161.9 M143.6 161.4 L144.2 158.3 L144.6 155.8 M152.8 152.1 L150.6 153.7 L147.3 154.5 L144.6 155.8 M127.9 165.8 L130.6 164.3 L131.4 162.1 L134.6 161.3 L136.4 159.6 L137.6 158.7 L140.3 156.6 L142.6 155.2 M132.2 149.2 L134.7 150.1 L138.1 152.9 L139.2 153.0 L142.6 155.2 M144.6 155.8 L142.6 155.2 M95.8 206.8 L92.9 207.0 L90.4 206.2 L87.5 204.9 L85.6 204.6 L82.4 203.7 M80.1 193.3 L79.4 194.5 M144.9 133.8 L146.5 135.8 L148.8 138.1 M157.9 114.4 L158.8 116.9 L158.7 119.2 L160.3 121.8 L160.1 124.5 L162.0 128.3 L161.9 130.1 M161.9 130.1 L159.7 131.0 L157.5 133.4 L155.5 134.7 L153.8 135.9 L151.6 136.8 L148.8 138.1 M153.1 151.3 L153.1 149.2 L154.1 146.2 M154.1 146.2 L153.2 143.8 L150.2 141.5 L148.8 138.1 M211.2 83.9 L209.3 86.0 L206.1 86.7 M211.2 83.9 L211.0 83.0 M206.1 86.7 L205.4 84.9 L203.7 81.9 L204.0 80.1 L202.7 77.0 L201.5 74.2 L200.3 72.0 M200.7 71.6 L200.3 72.0 M212.1 83.9 L211.2 83.9 M182.1 55.1 L181.2 59.1 L181.1 61.8 M189.1 60.4 L186.7 61.5 L183.8 62.4 L181.6 64.2 M181.1 61.8 L181.6 64.2 M181.1 61.8 L179.0 60.0 L177.6 57.4 L176.9 55.0 L175.5 53.4 L173.7 52.0 L171.9 48.7 L170.0 47.4 M142.1 58.5 L144.9 59.4 L146.9 60.5 L149.8 61.4 M149.8 61.4 L152.2 59.5 L153.9 57.4 L155.6 56.3 L158.3 54.4 M158.3 54.4 L159.7 50.9 L159.8 48.9 L160.1 45.9 M181.6 64.2 L180.5 67.3 L178.6 71.0 M182.4 76.1 L184.6 75.2 L188.0 75.5 L190.6 74.0 L192.4 73.4 L195.5 72.7 L198.1 73.0 L200.3 72.0 M182.4 76.1 L178.8 73.8 M178.8 73.8 L178.6 71.0 M158.3 54.4 L160.5 55.6 L162.2 58.0 L165.1 59.2 L167.1 62.1 L169.3 63.8 L171.8 64.6 L172.8 67.4 L175.2 67.9 L177.5 70.3 M178.6 71.0 L177.5 70.3 M149.8 61.4 L150.5 65.5 M177.5 70.3 L175.0 69.7 L171.6 70.0 L169.4 69.6 L166.4 67.7 L164.7 67.6 L162.0 67.4 L158.9 66.3 L155.5 66.8 L154.0 66.5 L150.5 65.5 M144.2 76.4 L146.9 75.2 L149.1 72.7 L150.4 71.5 M150.4 71.5 L149.9 68.1 L150.5 65.5 M176.5 122.8 L179.1 120.5 M176.5 122.8 L174.0 121.6 L170.6 120.3 L168.5 119.6 L166.3 119.0 M166.3 119.0 L162.6 116.3 M162.6 116.3 L165.1 116.1 L168.5 116.2 L170.9 115.9 L173.7 114.8 L176.6 114.9 L179.5 114.2 M179.5 114.2 L180.2 114.3 M163.8 100.8 L166.1 102.4 L167.4 103.5 L169.3 105.2 L171.4 107.0 L173.8 109.6 L175.6 110.8 L177.3 113.2 L179.5 114.2 M162.6 101.4 L163.8 100.8 M158.3 114.1 L162.6 116.3 M167.1 138.4 L167.1 140.0 M167.1 138.4 L169.8 135.5 L171.0 132.2 M171.0 132.2 L173.8 130.7 L175.7 129.4 L177.8 128.4 M178.0 131.8 L179.5 129.6 M170.8 142.1 L167.1 140.0 M177.8 128.4 L179.5 129.6 M154.1 146.2 L157.5 145.2 L159.9 143.9 L161.2 142.2 L164.6 141.9 L167.1 140.0 M161.9 130.1 L163.9 132.6 L165.6 135.8 L167.1 138.4 M166.3 119.0 L168.0 121.8 L167.4 125.0 L168.5 126.7 L170.8 129.8 L171.0 132.2 M176.5 122.8 L177.4 125.5 L177.8 128.4 M171.2 142.4 L170.8 142.1 M150.4 71.5 L152.5 72.9 L154.9 74.9 M154.9 74.9 L157.9 74.6 L159.5 74.2 L162.1 75.3 L165.0 74.1 L168.2 74.2 L171.1 74.7 L173.3 74.3 L175.6 74.1 L178.4 74.2 M190.8 86.9 L189.4 84.1 L187.0 82.9 L186.1 80.6 L183.7 77.8 L182.4 76.1 M178.6 97.6 L175.6 98.1 L172.8 99.8 L169.4 100.3 M165.6 99.7 L169.4 100.3 M165.6 99.7 L167.1 97.5 L168.5 94.9 L168.7 92.0 L169.6 90.2 L171.8 87.8 L171.9 85.5 L174.1 82.5 L174.9 79.6 L176.0 77.9 M190.8 86.9 L188.9 87.9 L186.5 91.0 L184.9 92.0 L183.3 94.2 L181.3 95.8 L178.6 97.6 M176.0 77.9 L178.4 74.2 M206.1 86.7 L204.2 89.1 L201.1 90.4 L199.6 93.1 M200.9 96.7 L199.6 93.1 M190.8 86.9 L192.8 88.8 L196.0 91.5 M199.6 93.1 L196.0 91.5 M179.5 129.6 L180.8 130.3 M155.3 85.9 L156.0 83.3 L155.5 80.7 L155.1 77.1 M155.3 85.9 L156.9 85.0 L159.6 83.1 L161.8 82.0 M161.8 82.0 L159.9 80.9 L157.5 79.1 L155.1 77.1 M153.3 93.3 L154.5 90.6 L155.2 88.3 L155.3 85.9 M154.9 74.9 L155.1 77.1 M165.6 99.7 L163.8 100.8 M176.0 77.9 L173.8 79.0 L170.5 80.3 L167.5 79.9 L164.6 81.0 L161.8 82.0 M182.9 110.9 L181.8 108.5 L179.4 107.2 L176.8 105.5 L175.6 103.2 M185.3 104.3 L182.5 103.0 M175.6 103.2 L179.2 103.0 L182.5 103.0 M169.4 100.3 L173.2 101.1 L175.6 103.2 M183.6 98.8 L183.4 100.7 M183.6 98.8 L186.9 97.3 L189.8 96.6 M183.4 100.7 L186.7 101.4 M189.8 96.6 L188.3 98.8 L186.7 101.4 M178.6 97.6 L181.4 98.8 L183.6 98.8 M182.5 103.0 L183.4 100.7 M196.0 91.5 L193.3 93.2 L192.3 94.5 L189.8 96.6 M185.4 104.2 L186.7 101.4 M44.9 153.9 L48.0 151.5 L51.7 151.0 L56.0 152.3 L59.5 152.0 L64.0 153.2 L67.2 155.9 L69.6 159.5 L69.2 163.6 L67.8 166.8 L65.3 168.5 L61.0 168.4 L57.5 169.5 L53.0 169.3 L49.7 167.5 L46.5 165.6 L44.9 162.7 L43.8 158.0Z M56.5 171.4 L60.0 170.2 L63.3 170.4 L66.0 172.4 L69.2 173.4 L73.1 175.3 L73.4 177.8 L72.1 179.2 L69.5 177.6 L67.2 178.2 L64.0 176.2 L61.4 176.3 L58.5 176.4 L56.5 175.3 L55.6 173.2Z M74.0 156.8 L80.0 160.2 L85.7 164.6 L84.4 169.0 L81.8 173.4 L76.0 170.0 L71.1 167.5 L73.0 162.0Z M82.5 9.1 L84.7 9.5 L85.4 12.4 L86.9 15.3 L86.5 19.0 L84.7 21.5 L81.1 21.2 L79.2 19.3 L78.1 17.5 L80.7 15.7 L82.2 13.1Z M76.0 106.3 L72.0 112.0 L67.5 119.5 L67.5 125.0 L72.5 129.5 L72.0 137.0 L75.0 141.5 L82.0 143.5 L89.0 147.5 L85.0 155.0 L79.0 162.5 L71.0 167.5 L67.0 171.0 L70.0 176.0 L72.5 186.0 L68.8 190.0" fill="none" stroke="#ffffff" stroke-opacity="0.6" stroke-width="0.5"/>
<path d="M101.4 54.2 L110.6 58.4 L118.4 52.6 L121.3 48.7 L122.3 39.9 L125.2 38.9 L129.5 41.8 L139.2 43.8 L145.0 40.9 M175.2 50.6 L169.4 58.4 L167.4 64.2 L162.6 69.1 L166.4 71.0 L163.4 79.2 L159.5 86.0 L160.4 91.8 L163.4 95.7 L164.3 102.6 L169.2 106.4 L174.1 108.4 L176.0 116.2 L175.0 122.0 L179.9 126.0 M104.3 89.2 L107.1 91.3 L111.9 96.1 L118.2 94.5 L124.5 90.5 L132.4 89.7 L137.2 92.1 L140.4 89.7 L147.8 88.9 L154.6 88.9 L159.5 86.0 M137.2 92.1 L136.4 100.8 L135.6 108.7 L129.3 108.7 L123.0 115.0 L116.6 119.0 L111.9 121.4 M60.0 113.5 L71.7 112.6 L85.0 111.1 L96.1 110.3 L97.7 114.3 L94.5 117.4 L93.7 121.4 L97.0 127.0 L100.8 132.4 M94.5 117.4 L99.2 116.6 L105.6 123.0 L111.9 121.4 L110.3 127.7 L112.4 129.7 L112.7 132.4 L108.7 137.2 L101.3 136.1 M135.6 108.7 L136.4 121.4 L140.9 125.0 L143.2 132.9 L147.2 140.8 L140.9 145.6 L135.3 147.9 L136.9 155.0 L139.3 159.0 L141.0 161.5 M112.4 129.7 L118.7 132.1 L126.6 130.5 L133.0 131.3 L132.2 136.1 L130.6 140.8 L125.0 144.0 M47.9 122.6 L50.8 126.8 L56.6 129.9 L60.0 130.0 L66.2 128.2 L74.0 125.3 L79.5 128.1 L85.0 132.4 L95.0 134.5 L101.3 136.1 L102.1 142.4 L107.7 145.6 M135.3 147.9 L131.4 144.0 L129.0 145.6 L125.0 144.0 L120.3 148.7 L114.0 147.1 L109.2 148.7 L107.7 145.6 L106.1 151.9 L101.3 156.6 L95.0 163.0 L86.5 170.3 L76.8 180.0 L70.7 188.5" fill="none" stroke="#2a2a2a" stroke-width="0.45" stroke-linejoin="round"/>
<path d="M70.5 12.4 L74.5 7.3 L78.5 5.2 L82.5 3.7 L86.2 3.4 L89.8 4.4 L94.2 8.0 L99.3 10.2 L105.0 10.7 L110.6 9.9 L122.3 9.3 L129.5 10.1 L133.0 17.5 L137.3 25.3 L140.0 30.5 L145.0 40.9 L152.8 44.8 L163.0 46.3 L172.3 47.7 L175.0 50.0 L185.5 57.5 L192.5 63.3 L199.5 70.0 L207.2 80.2 L216.6 87.2 L209.7 94.1 L205.7 93.6 L204.6 95.5 L196.6 98.1 L195.5 96.8 L190.5 98.7 L187.5 102.5 L183.8 105.5 L184.8 108.4 L181.8 112.3 L178.0 117.2 L179.9 123.0 L181.3 123.9 L183.3 128.8 L178.4 131.7 L171.6 133.6 L170.6 139.5 L172.6 149.2 L170.6 155.0 L158.9 156.0 L145.3 158.0 L143.4 161.8 L147.3 165.7 L146.3 176.4 L139.5 182.3 L137.5 179.4 L134.0 178.2 L129.3 181.2 L126.6 185.6 L118.7 188.0 L118.7 191.9 L120.3 195.9 L114.0 202.2 L104.5 204.6 L101.0 206.0 L95.5 212.5 L92.2 218.2 L90.8 219.8 L89.3 218.2 L85.0 212.5 L83.1 205.9 L81.2 199.8 L78.5 191.8 L74.6 198.7 L68.8 197.7 L68.8 188.9 L60.3 190.9 L50.6 191.8 L40.9 190.9 L33.1 186.0 L25.3 181.1 L17.5 176.3 L13.6 169.5 L8.8 159.7 L4.9 152.0 L13.6 141.8 L19.5 137.0 L29.2 133.1 L40.9 127.3 L54.5 118.5 L66.2 110.7 L75.6 106.7 L83.4 103.8 L89.7 102.3 L95.6 99.9 L96.5 95.0 L103.3 92.1 L104.3 89.2 L101.4 87.3 L100.4 82.4 L95.6 82.4 L95.6 77.5 L102.4 76.6 L103.3 72.7 L99.5 70.7 L98.5 66.8 L102.4 61.0 L99.5 57.1 L101.4 54.2 L99.5 48.3 L95.6 45.4 L91.7 44.5 L92.6 38.6 L88.8 31.8 L86.0 29.3 L83.2 29.6 L77.4 27.2 L72.3 24.8 L70.6 20.0Z" fill="none" stroke="#f0221e" stroke-width="1.0" stroke-linejoin="round"/>
<path d="M102.20 35.90L102.62 37.02L103.82 37.07L102.88 37.82L103.20 38.98L102.20 38.31L101.20 38.98L101.52 37.82L100.58 37.07L101.78 37.02ZM106.70 33.90L107.12 35.02L108.32 35.07L107.38 35.82L107.70 36.98L106.70 36.31L105.70 36.98L106.02 35.82L105.08 35.07L106.28 35.02ZM109.60 33.90L110.02 35.02L111.22 35.07L110.28 35.82L110.60 36.98L109.60 36.31L108.60 36.98L108.92 35.82L107.98 35.07L109.18 35.02ZM109.00 40.10L109.42 41.22L110.62 41.27L109.68 42.02L110.00 43.18L109.00 42.51L108.00 43.18L108.32 42.02L107.38 41.27L108.58 41.22ZM106.70 45.00L107.12 46.12L108.32 46.17L107.38 46.92L107.70 48.08L106.70 47.41L105.70 48.08L106.02 46.92L105.08 46.17L106.28 46.12ZM108.10 50.50L108.52 51.62L109.72 51.67L108.78 52.42L109.10 53.58L108.10 52.91L107.10 53.58L107.42 52.42L106.48 51.67L107.68 51.62ZM105.20 65.10L105.62 66.22L106.82 66.27L105.88 67.02L106.20 68.18L105.20 67.51L104.20 68.18L104.52 67.02L103.58 66.27L104.78 66.22ZM123.60 45.60L124.02 46.72L125.22 46.77L124.28 47.52L124.60 48.68L123.60 48.01L122.60 48.68L122.92 47.52L121.98 46.77L123.18 46.72ZM127.20 43.50L127.62 44.62L128.82 44.67L127.88 45.42L128.20 46.58L127.20 45.91L126.20 46.58L126.52 45.42L125.58 44.67L126.78 44.62ZM133.60 47.70L134.02 48.82L135.22 48.87L134.28 49.62L134.60 50.78L133.60 50.11L132.60 50.78L132.92 49.62L131.98 48.87L133.18 48.82ZM138.80 60.60L139.22 61.72L140.42 61.77L139.48 62.52L139.80 63.68L138.80 63.01L137.80 63.68L138.12 62.52L137.18 61.77L138.38 61.72ZM155.20 60.20L155.62 61.32L156.82 61.37L155.88 62.12L156.20 63.28L155.20 62.61L154.20 63.28L154.52 62.12L153.58 61.37L154.78 61.32ZM163.50 66.80L163.92 67.92L165.12 67.97L164.18 68.72L164.50 69.88L163.50 69.21L162.50 69.88L162.82 68.72L161.88 67.97L163.08 67.92ZM163.50 70.70L163.92 71.82L165.12 71.87L164.18 72.62L164.50 73.78L163.50 73.11L162.50 73.78L162.82 72.62L161.88 71.87L163.08 71.82ZM112.60 89.40L113.02 90.52L114.22 90.57L113.28 91.32L113.60 92.48L112.60 91.81L111.60 92.48L111.92 91.32L110.98 90.57L112.18 90.52ZM110.80 90.60L111.22 91.72L112.42 91.77L111.48 92.52L111.80 93.68L110.80 93.01L109.80 93.68L110.12 92.52L109.18 91.77L110.38 91.72ZM114.00 90.60L114.42 91.72L115.62 91.77L114.68 92.52L115.00 93.68L114.00 93.01L113.00 93.68L113.32 92.52L112.38 91.77L113.58 91.72ZM109.60 94.30L110.02 95.42L111.22 95.47L110.28 96.22L110.60 97.38L109.60 96.71L108.60 97.38L108.92 96.22L107.98 95.47L109.18 95.42ZM105.70 94.90L106.12 96.02L107.32 96.07L106.38 96.82L106.70 97.98L105.70 97.31L104.70 97.98L105.02 96.82L104.08 96.07L105.28 96.02ZM116.40 93.30L116.82 94.42L118.02 94.47L117.08 95.22L117.40 96.38L116.40 95.71L115.40 96.38L115.72 95.22L114.78 94.47L115.98 94.42ZM101.30 99.20L101.72 100.32L102.92 100.37L101.98 101.12L102.30 102.28L101.30 101.61L100.30 102.28L100.62 101.12L99.68 100.37L100.88 100.32ZM96.00 103.10L96.42 104.22L97.62 104.27L96.68 105.02L97.00 106.18L96.00 105.51L95.00 106.18L95.32 105.02L94.38 104.27L95.58 104.22ZM81.80 107.00L82.22 108.12L83.42 108.17L82.48 108.92L82.80 110.08L81.80 109.41L80.80 110.08L81.12 108.92L80.18 108.17L81.38 108.12ZM65.80 118.30L66.22 119.42L67.42 119.47L66.48 120.22L66.80 121.38L65.80 120.71L64.80 121.38L65.12 120.22L64.18 119.47L65.38 119.42ZM83.00 117.20L83.42 118.32L84.62 118.37L83.68 119.12L84.00 120.28L83.00 119.61L82.00 120.28L82.32 119.12L81.38 118.37L82.58 118.32ZM64.90 124.10L65.32 125.22L66.52 125.27L65.58 126.02L65.90 127.18L64.90 126.51L63.90 127.18L64.22 126.02L63.28 125.27L64.48 125.22ZM72.70 126.40L73.12 127.52L74.32 127.57L73.38 128.32L73.70 129.48L72.70 128.81L71.70 129.48L72.02 128.32L71.08 127.57L72.28 127.52ZM101.80 120.60L102.22 121.72L103.42 121.77L102.48 122.52L102.80 123.68L101.80 123.01L100.80 123.68L101.12 122.52L100.18 121.77L101.38 121.72ZM116.40 110.90L116.82 112.02L118.02 112.07L117.08 112.82L117.40 113.98L116.40 113.31L115.40 113.98L115.72 112.82L114.78 112.07L115.98 112.02ZM123.30 107.90L123.72 109.02L124.92 109.07L123.98 109.82L124.30 110.98L123.30 110.31L122.30 110.98L122.62 109.82L121.68 109.07L122.88 109.02ZM122.70 113.80L123.12 114.92L124.32 114.97L123.38 115.72L123.70 116.88L122.70 116.21L121.70 116.88L122.02 115.72L121.08 114.97L122.28 114.92ZM133.60 115.70L134.02 116.82L135.22 116.87L134.28 117.62L134.60 118.78L133.60 118.11L132.60 118.78L132.92 117.62L131.98 116.87L133.18 116.82ZM136.90 119.60L137.32 120.72L138.52 120.77L137.58 121.52L137.90 122.68L136.90 122.01L135.90 122.68L136.22 121.52L135.28 120.77L136.48 120.72ZM122.30 126.40L122.72 127.52L123.92 127.57L122.98 128.32L123.30 129.48L122.30 128.81L121.30 129.48L121.62 128.32L120.68 127.57L121.88 127.52ZM129.10 125.50L129.52 126.62L130.72 126.67L129.78 127.42L130.10 128.58L129.10 127.91L128.10 128.58L128.42 127.42L127.48 126.67L128.68 126.62ZM137.90 125.50L138.32 126.62L139.52 126.67L138.58 127.42L138.90 128.58L137.90 127.91L136.90 128.58L137.22 127.42L136.28 126.67L137.48 126.62ZM120.30 132.30L120.72 133.42L121.92 133.47L120.98 134.22L121.30 135.38L120.30 134.71L119.30 135.38L119.62 134.22L118.68 133.47L119.88 133.42ZM126.20 132.30L126.62 133.42L127.82 133.47L126.88 134.22L127.20 135.38L126.20 134.71L125.20 135.38L125.52 134.22L124.58 133.47L125.78 133.42ZM116.40 133.30L116.82 134.42L118.02 134.47L117.08 135.22L117.40 136.38L116.40 135.71L115.40 136.38L115.72 135.22L114.78 134.47L115.98 134.42ZM95.00 133.30L95.42 134.42L96.62 134.47L95.68 135.22L96.00 136.38L95.00 135.71L94.00 136.38L94.32 135.22L93.38 134.47L94.58 134.42ZM143.70 100.50L144.12 101.62L145.32 101.67L144.38 102.42L144.70 103.58L143.70 102.91L142.70 103.58L143.02 102.42L142.08 101.67L143.28 101.62ZM141.20 113.80L141.62 114.92L142.82 114.97L141.88 115.72L142.20 116.88L141.20 116.21L140.20 116.88L140.52 115.72L139.58 114.97L140.78 114.92ZM137.60 128.40L138.02 129.52L139.22 129.57L138.28 130.32L138.60 131.48L137.60 130.81L136.60 131.48L136.92 130.32L135.98 129.57L137.18 129.52ZM149.80 124.80L150.22 125.92L151.42 125.97L150.48 126.72L150.80 127.88L149.80 127.21L148.80 127.88L149.12 126.72L148.18 125.97L149.38 125.92ZM123.00 135.70L123.42 136.82L124.62 136.87L123.68 137.62L124.00 138.78L123.00 138.11L122.00 138.78L122.32 137.62L121.38 136.87L122.58 136.82ZM130.30 139.40L130.72 140.52L131.92 140.57L130.98 141.32L131.30 142.48L130.30 141.81L129.30 142.48L129.62 141.32L128.68 140.57L129.88 140.52ZM76.80 138.20L77.22 139.32L78.42 139.37L77.48 140.12L77.80 141.28L76.80 140.61L75.80 141.28L76.12 140.12L75.18 139.37L76.38 139.32ZM86.50 138.20L86.92 139.32L88.12 139.37L87.18 140.12L87.50 141.28L86.50 140.61L85.50 141.28L85.82 140.12L84.88 139.37L86.08 139.32ZM91.40 149.10L91.82 150.22L93.02 150.27L92.08 151.02L92.40 152.18L91.40 151.51L90.40 152.18L90.72 151.02L89.78 150.27L90.98 150.22ZM91.40 152.00L91.82 153.12L93.02 153.17L92.08 153.92L92.40 155.08L91.40 154.41L90.40 155.08L90.72 153.92L89.78 153.17L90.98 153.12ZM98.70 146.70L99.12 147.82L100.32 147.87L99.38 148.62L99.70 149.78L98.70 149.11L97.70 149.78L98.02 148.62L97.08 147.87L98.28 147.82ZM103.00 142.30L103.42 143.42L104.62 143.47L103.68 144.22L104.00 145.38L103.00 144.71L102.00 145.38L102.32 144.22L101.38 143.47L102.58 143.42ZM108.40 140.60L108.82 141.72L110.02 141.77L109.08 142.52L109.40 143.68L108.40 143.01L107.40 143.68L107.72 142.52L106.78 141.77L107.98 141.72ZM109.60 146.70L110.02 147.82L111.22 147.87L110.28 148.62L110.60 149.78L109.60 149.11L108.60 149.78L108.92 148.62L107.98 147.87L109.18 147.82ZM123.50 145.50L123.92 146.62L125.12 146.67L124.18 147.42L124.50 148.58L123.50 147.91L122.50 148.58L122.82 147.42L121.88 146.67L123.08 146.62ZM115.20 151.10L115.62 152.22L116.82 152.27L115.88 153.02L116.20 154.18L115.20 153.51L114.20 154.18L114.52 153.02L113.58 152.27L114.78 152.22ZM127.90 152.80L128.32 153.92L129.52 153.97L128.58 154.72L128.90 155.88L127.90 155.21L126.90 155.88L127.22 154.72L126.28 153.97L127.48 153.92ZM138.80 156.40L139.22 157.52L140.42 157.57L139.48 158.32L139.80 159.48L138.80 158.81L137.80 159.48L138.12 158.32L137.18 157.57L138.38 157.52ZM137.60 160.10L138.02 161.22L139.22 161.27L138.28 162.02L138.60 163.18L137.60 162.51L136.60 163.18L136.92 162.02L135.98 161.27L137.18 161.22ZM113.70 165.70L114.12 166.82L115.32 166.87L114.38 167.62L114.70 168.78L113.70 168.11L112.70 168.78L113.02 167.62L112.08 166.87L113.28 166.82ZM140.50 168.10L140.92 169.22L142.12 169.27L141.18 170.02L141.50 171.18L140.50 170.51L139.50 171.18L139.82 170.02L138.88 169.27L140.08 169.22ZM139.50 173.90L139.92 175.02L141.12 175.07L140.18 175.82L140.50 176.98L139.50 176.31L138.50 176.98L138.82 175.82L137.88 175.07L139.08 175.02ZM52.90 155.90L53.32 157.02L54.52 157.07L53.58 157.82L53.90 158.98L52.90 158.31L51.90 158.98L52.22 157.82L51.28 157.07L52.48 157.02ZM68.20 167.40L68.62 168.52L69.82 168.57L68.88 169.32L69.20 170.48L68.20 169.81L67.20 170.48L67.52 169.32L66.58 168.57L67.78 168.52ZM70.70 165.70L71.12 166.82L72.32 166.87L71.38 167.62L71.70 168.78L70.70 168.11L69.70 168.78L70.02 167.62L69.08 166.87L70.28 166.82ZM73.10 167.40L73.52 168.52L74.72 168.57L73.78 169.32L74.10 170.48L73.10 169.81L72.10 170.48L72.42 169.32L71.48 168.57L72.68 168.52ZM69.50 169.80L69.92 170.92L71.12 170.97L70.18 171.72L70.50 172.88L69.50 172.21L68.50 172.88L68.82 171.72L67.88 170.97L69.08 170.92ZM79.20 164.20L79.62 165.32L80.82 165.37L79.88 166.12L80.20 167.28L79.20 166.61L78.20 167.28L78.52 166.12L77.58 165.37L78.78 165.32ZM87.70 180.80L88.12 181.92L89.32 181.97L88.38 182.72L88.70 183.88L87.70 183.21L86.70 183.88L87.02 182.72L86.08 181.97L87.28 181.92ZM96.20 182.00L96.62 183.12L97.82 183.17L96.88 183.92L97.20 185.08L96.20 184.41L95.20 185.08L95.52 183.92L94.58 183.17L95.78 183.12ZM102.30 181.20L102.72 182.32L103.92 182.37L102.98 183.12L103.30 184.28L102.30 183.61L101.30 184.28L101.62 183.12L100.68 182.37L101.88 182.32ZM116.90 180.80L117.32 181.92L118.52 181.97L117.58 182.72L117.90 183.88L116.90 183.21L115.90 183.88L116.22 182.72L115.28 181.97L116.48 181.92ZM90.20 151.20L90.62 152.32L91.82 152.37L90.88 153.12L91.20 154.28L90.20 153.61L89.20 154.28L89.52 153.12L88.58 152.37L89.78 152.32ZM71.70 163.90L72.12 165.02L73.32 165.07L72.38 165.82L72.70 166.98L71.70 166.31L70.70 166.98L71.02 165.82L70.08 165.07L71.28 165.02ZM66.80 171.30L67.22 172.42L68.42 172.47L67.48 173.22L67.80 174.38L66.80 173.71L65.80 174.38L66.12 173.22L65.18 172.47L66.38 172.42ZM92.10 190.10L92.52 191.22L93.72 191.27L92.78 192.02L93.10 193.18L92.10 192.51L91.10 193.18L91.42 192.02L90.48 191.27L91.68 191.22ZM98.90 189.20L99.32 190.32L100.52 190.37L99.58 191.12L99.90 192.28L98.90 191.61L97.90 192.28L98.22 191.12L97.28 190.37L98.48 190.32ZM105.70 194.60L106.12 195.72L107.32 195.77L106.38 196.52L106.70 197.68L105.70 197.01L104.70 197.68L105.02 196.52L104.08 195.77L105.28 195.72ZM111.00 197.90L111.42 199.02L112.62 199.07L111.68 199.82L112.00 200.98L111.00 200.31L110.00 200.98L110.32 199.82L109.38 199.07L110.58 199.02ZM90.20 195.00L90.62 196.12L91.82 196.17L90.88 196.92L91.20 198.08L90.20 197.41L89.20 198.08L89.52 196.92L88.58 196.17L89.78 196.12ZM96.00 198.90L96.42 200.02L97.62 200.07L96.68 200.82L97.00 201.98L96.00 201.31L95.00 201.98L95.32 200.82L94.38 200.07L95.58 200.02ZM89.20 207.70L89.62 208.82L90.82 208.87L89.88 209.62L90.20 210.78L89.20 210.11L88.20 210.78L88.52 209.62L87.58 208.87L88.78 208.82ZM94.60 205.70L95.02 206.82L96.22 206.87L95.28 207.62L95.60 208.78L94.60 208.11L93.60 208.78L93.92 207.62L92.98 206.87L94.18 206.82ZM135.60 119.90L136.02 121.02L137.22 121.07L136.28 121.82L136.60 122.98L135.60 122.31L134.60 122.98L134.92 121.82L133.98 121.07L135.18 121.02ZM138.50 119.30L138.92 120.42L140.12 120.47L139.18 121.22L139.50 122.38L138.50 121.71L137.50 122.38L137.82 121.22L136.88 120.47L138.08 120.42ZM163.80 128.00L164.22 129.12L165.42 129.17L164.48 129.92L164.80 131.08L163.80 130.41L162.80 131.08L163.12 129.92L162.18 129.17L163.38 129.12ZM170.60 130.00L171.02 131.12L172.22 131.17L171.28 131.92L171.60 133.08L170.60 132.41L169.60 133.08L169.92 131.92L168.98 131.17L170.18 131.12ZM166.70 124.10L167.12 125.22L168.32 125.27L167.38 126.02L167.70 127.18L166.70 126.51L165.70 127.18L166.02 126.02L165.08 125.27L166.28 125.22ZM150.20 136.80L150.62 137.92L151.82 137.97L150.88 138.72L151.20 139.88L150.20 139.21L149.20 139.88L149.52 138.72L148.58 137.97L149.78 137.92ZM124.90 145.60L125.32 146.72L126.52 146.77L125.58 147.52L125.90 148.68L124.90 148.01L123.90 148.68L124.22 147.52L123.28 146.77L124.48 146.72ZM161.80 149.40L162.22 150.52L163.42 150.57L162.48 151.32L162.80 152.48L161.80 151.81L160.80 152.48L161.12 151.32L160.18 150.57L161.38 150.52ZM163.40 148.90L163.82 150.02L165.02 150.07L164.08 150.82L164.40 151.98L163.40 151.31L162.40 151.98L162.72 150.82L161.78 150.07L162.98 150.02ZM155.20 87.20L155.62 88.32L156.82 88.37L155.88 89.12L156.20 90.28L155.20 89.61L154.20 90.28L154.52 89.12L153.58 88.37L154.78 88.32ZM163.00 85.30L163.42 86.42L164.62 86.47L163.68 87.22L164.00 88.38L163.00 87.71L162.00 88.38L162.32 87.22L161.38 86.47L162.58 86.42ZM158.50 116.00L158.92 117.12L160.12 117.17L159.18 117.92L159.50 119.08L158.50 118.41L157.50 119.08L157.82 117.92L156.88 117.17L158.08 117.12ZM167.20 118.80L167.62 119.92L168.82 119.97L167.88 120.72L168.20 121.88L167.20 121.21L166.20 121.88L166.52 120.72L165.58 119.97L166.78 119.92ZM112.00 126.30L112.42 127.42L113.62 127.47L112.68 128.22L113.00 129.38L112.00 128.71L111.00 129.38L111.32 128.22L110.38 127.47L111.58 127.42ZM114.50 128.30L114.92 129.42L116.12 129.47L115.18 130.22L115.50 131.38L114.50 130.71L113.50 131.38L113.82 130.22L112.88 129.47L114.08 129.42ZM118.00 128.80L118.42 129.92L119.62 129.97L118.68 130.72L119.00 131.88L118.00 131.21L117.00 131.88L117.32 130.72L116.38 129.97L117.58 129.92ZM121.00 129.80L121.42 130.92L122.62 130.97L121.68 131.72L122.00 132.88L121.00 132.21L120.00 132.88L120.32 131.72L119.38 130.97L120.58 130.92ZM117.00 125.30L117.42 126.42L118.62 126.47L117.68 127.22L118.00 128.38L117.00 127.71L116.00 128.38L116.32 127.22L115.38 126.47L116.58 126.42ZM119.50 131.30L119.92 132.42L121.12 132.47L120.18 133.22L120.50 134.38L119.50 133.71L118.50 134.38L118.82 133.22L117.88 132.47L119.08 132.42Z" fill="#111"/>
<text x="95.4" y="29.4" font-size="5.40" font-family="Liberation Mono, Noto Sans CJK SC, monospace" text-anchor="start" fill="#222" textLength="29.8" lengthAdjust="spacingAndGlyphs" >Zhangjiagang</text>
<text x="122.8" y="69.7" font-size="5.40" font-family="Liberation Mono, Noto Sans CJK SC, monospace" text-anchor="start" fill="#222" textLength="19.5" lengthAdjust="spacingAndGlyphs" >Changshu</text>
<text x="177.4" y="86.6" font-size="5.40" font-family="Liberation Mono, Noto Sans CJK SC, monospace" text-anchor="start" fill="#222" textLength="16.7" lengthAdjust="spacingAndGlyphs" >Taicang</text>
<text x="97.0" y="106.4" font-size="5.40" font-family="Liberation Mono, Noto Sans CJK SC, monospace" text-anchor="start" fill="#222" textLength="25.3" lengthAdjust="spacingAndGlyphs" >Xiangcheng</text>
<text x="68.3" y="120.8" font-size="5.40" font-family="Liberation Mono, Noto Sans CJK SC, monospace" text-anchor="start" fill="#222" textLength="12.7" lengthAdjust="spacingAndGlyphs" >Huqiu</text>
<text x="45.7" y="153.6" font-size="5.40" font-family="Liberation Mono, Noto Sans CJK SC, monospace" text-anchor="start" fill="#222" textLength="16.6" lengthAdjust="spacingAndGlyphs" >Wuzhong</text>
<text x="100.0" y="127.6" font-size="5.40" font-family="Liberation Mono, Noto Sans CJK SC, monospace" text-anchor="start" fill="#222" textLength="10.8" lengthAdjust="spacingAndGlyphs" >Gusu</text>
<text x="108.0" y="124.1" font-size="5.40" font-family="Liberation Mono, Noto Sans CJK SC, monospace" text-anchor="start" fill="#222" textLength="12.0" lengthAdjust="spacingAndGlyphs" >Gongye</text>
<text x="115.0" y="136.6" font-size="5.40" font-family="Liberation Mono, Noto Sans CJK SC, monospace" text-anchor="start" fill="#222" textLength="15.0" lengthAdjust="spacingAndGlyphs" >Yuanqu</text>
<text x="108.4" y="175.5" font-size="5.40" font-family="Liberation Mono, Noto Sans CJK SC, monospace" text-anchor="start" fill="#222" textLength="17.0" lengthAdjust="spacingAndGlyphs" >Wujiang</text>
<text x="152.1" y="126.5" font-size="5.40" font-family="Liberation Mono, Noto Sans CJK SC, monospace" text-anchor="start" fill="#222" textLength="15.6" lengthAdjust="spacingAndGlyphs" >Kunshan</text>
<text x="5.1" y="10.6" font-size="6.40" font-family="Liberation Serif, Noto Serif CJK SC, serif" text-anchor="start" fill="#222" textLength="16.0" lengthAdjust="spacingAndGlyphs" font-weight="bold">Legend</text>
<path d="M10.30 15.10L10.74 16.29L12.01 16.34L11.02 17.13L11.36 18.36L10.30 17.66L9.24 18.36L9.58 17.13L8.59 16.34L9.86 16.29Z" fill="#111"/>
<text x="18.0" y="18.7" font-size="5.40" font-family="Liberation Mono, Noto Sans CJK SC, monospace" text-anchor="start" fill="#333" textLength="38.5" lengthAdjust="spacingAndGlyphs" font-weight="bold">Traditional villages</text>
<text x="4.9" y="24.8" font-size="5.40" font-family="Liberation Mono, Noto Sans CJK SC, monospace" text-anchor="start" fill="#333" textLength="51.0" lengthAdjust="spacingAndGlyphs" font-weight="bold">Average temperatures(℃)</text>
<rect x="4.7" y="27.6" width="10.3" height="5.4" fill="#4ea897" stroke="#555" stroke-width="0.6"/>
<text x="18.0" y="31.9" font-size="4.70" font-family="Liberation Mono, Noto Sans CJK SC, monospace" text-anchor="start" fill="#505050" textLength="17.0" lengthAdjust="spacingAndGlyphs" >14.9-15.3</text>
<rect x="4.7" y="34.9" width="10.3" height="5.4" fill="#85b0a3" stroke="#555" stroke-width="0.6"/>
<text x="18.0" y="39.2" font-size="4.70" font-family="Liberation Mono, Noto Sans CJK SC, monospace" text-anchor="start" fill="#505050" textLength="17.0" lengthAdjust="spacingAndGlyphs" >15.3-15.6</text>
<rect x="4.7" y="42.2" width="10.3" height="5.4" fill="#bccfbc" stroke="#555" stroke-width="0.6"/>
<text x="18.0" y="46.5" font-size="4.70" font-family="Liberation Mono, Noto Sans CJK SC, monospace" text-anchor="start" fill="#505050" textLength="17.0" lengthAdjust="spacingAndGlyphs" >15.6-15.7</text>
<rect x="4.7" y="49.5" width="10.3" height="5.4" fill="#f1fbc1" stroke="#555" stroke-width="0.6"/>
<text x="18.0" y="53.8" font-size="4.70" font-family="Liberation Mono, Noto Sans CJK SC, monospace" text-anchor="start" fill="#505050" textLength="17.0" lengthAdjust="spacingAndGlyphs" >15.7-15.9</text>
<rect x="4.7" y="56.8" width="10.3" height="5.4" fill="#efac78" stroke="#555" stroke-width="0.6"/>
<text x="18.0" y="61.1" font-size="4.70" font-family="Liberation Mono, Noto Sans CJK SC, monospace" text-anchor="start" fill="#505050" textLength="17.0" lengthAdjust="spacingAndGlyphs" >15.9-16.0</text>
<rect x="4.7" y="64.1" width="10.3" height="5.4" fill="#df6d52" stroke="#555" stroke-width="0.6"/>
<text x="18.0" y="68.4" font-size="4.70" font-family="Liberation Mono, Noto Sans CJK SC, monospace" text-anchor="start" fill="#505050" textLength="17.0" lengthAdjust="spacingAndGlyphs" >16.0-16.1</text>
<rect x="4.7" y="71.4" width="10.3" height="5.4" fill="#cf302b" stroke="#555" stroke-width="0.6"/>
<text x="18.0" y="75.7" font-size="4.70" font-family="Liberation Mono, Noto Sans CJK SC, monospace" text-anchor="start" fill="#505050" textLength="17.0" lengthAdjust="spacingAndGlyphs" >16.1-16.3</text>
<rect x="1.5" y="1.5" width="221" height="220.8" fill="none" stroke="#2b2b2b" stroke-width="1"/>
<text x="208.0" y="17.0" font-size="6.70" font-family="Liberation Sans, sans-serif" text-anchor="middle" fill="#111" >N</text>
<path d="M207.8 19 L202.7 35 L207.8 29.4Z" fill="#111" stroke="#111" stroke-width="0.4"/>
<path d="M207.8 19 L212.9 34.8 L207.8 29.4Z" fill="#fff" stroke="#111" stroke-width="0.5"/>
<path d="M163.1 214.3 H194.7 M163.10 214.3 v-5.0 M167.05 214.3 v-2.8 M171.00 214.3 v-2.8 M174.95 214.3 v-2.8 M178.90 214.3 v-5.0 M182.85 214.3 v-2.8 M186.80 214.3 v-2.8 M190.75 214.3 v-2.8 M194.70 214.3 v-5.0" fill="none" stroke="#111" stroke-width="0.85"/>
<text x="161.8" y="204.9" font-size="6.70" font-family="Liberation Sans, sans-serif" text-anchor="start" fill="#222" >0</text>
<text x="169.2" y="204.9" font-size="6.70" font-family="Liberation Sans, sans-serif" text-anchor="start" fill="#222" >5</text>
<text x="175.3" y="204.9" font-size="6.70" font-family="Liberation Sans, sans-serif" text-anchor="start" fill="#222" textLength="7.4" lengthAdjust="spacingAndGlyphs" >10</text>
<text x="189.6" y="204.9" font-size="6.70" font-family="Liberation Sans, sans-serif" text-anchor="start" fill="#222" textLength="20.4" lengthAdjust="spacingAndGlyphs" >20 km</text>
</g>
<g transform="translate(460.9 0)">
<g transform="matrix(0.9767 0 0 0.969 0.75 3.15)">
<path d="M73.8 203.3 L75.7 203.3 L77.2 202.6 L81.0 215.0 L85.5 221.0 L87.4 223.0 L88.9 224.1 L90.6 224.5 L92.9 224.0 L94.3 222.9 L96.0 220.9 L99.4 215.2 L103.8 209.9 L106.0 209.1 L115.2 206.8 L116.9 205.9 L123.6 199.2 L124.6 197.7 L125.0 196.4 L124.9 195.0 L123.6 191.4 L128.0 190.1 L129.3 189.5 L130.3 188.5 L132.7 184.6 L134.6 183.4 L135.9 185.3 L137.4 186.5 L139.1 187.0 L141.4 186.6 L142.6 185.9 L150.0 179.3 L150.9 177.3 L152.0 165.7 L151.6 163.9 L150.3 162.0 L159.4 160.7 L171.4 159.6 L173.1 159.0 L174.4 157.7 L175.0 156.5 L177.0 150.7 L177.3 149.3 L175.4 139.4 L175.7 137.3 L180.4 135.9 L185.7 132.8 L187.0 131.7 L187.8 130.1 L188.0 128.8 L187.7 127.0 L185.4 121.7 L183.8 120.0 L183.2 118.1 L189.0 110.5 L189.5 108.7 L189.3 107.1 L190.8 105.8 L193.4 102.6 L194.4 102.2 L195.8 102.7 L197.6 102.7 L206.5 99.8 L208.1 98.6 L210.1 98.8 L211.9 98.3 L213.0 97.4 L219.9 90.5 L221.1 88.5 L221.2 86.2 L220.1 84.1 L210.5 76.8 L202.7 66.6 L195.7 59.9 L188.5 53.9 L177.9 46.3 L175.0 43.9 L173.0 43.1 L154.2 40.3 L148.5 37.4 L144.2 28.3 L137.2 15.4 L133.5 7.7 L132.2 6.3 L131.0 5.6 L122.4 4.6 L110.4 5.2 L104.9 6.0 L100.5 5.6 L96.7 3.9 L92.8 0.8 L91.5 0.0 L86.6 -1.3 L82.1 -1.0 L76.8 0.8 L71.5 3.7 L66.8 9.5 L66.0 11.1 L65.8 12.5 L65.9 20.6 L68.3 27.2 L69.9 28.8 L75.4 31.5 L81.8 34.1 L84.4 34.2 L85.1 34.8 L87.7 39.5 L87.0 44.3 L87.1 45.7 L87.7 46.9 L89.3 48.6 L93.6 49.8 L95.5 51.2 L96.2 53.5 L95.0 55.8 L94.8 57.7 L95.2 59.1 L96.6 61.1 L94.4 64.6 L93.8 66.2 L93.9 68.0 L95.3 72.8 L94.1 73.0 L92.9 73.7 L91.9 74.6 L91.2 75.7 L90.9 77.0 L90.9 82.4 L91.3 84.2 L92.0 85.4 L93.8 86.7 L95.1 87.1 L96.6 87.1 L97.3 89.6 L94.2 90.9 L92.8 92.1 L92.0 93.7 L91.4 96.5 L88.3 97.8 L81.8 99.4 L74.1 102.2 L72.9 102.9 L71.9 103.9 L68.0 109.6 L63.5 117.1 L62.9 118.7 L62.8 125.0 L63.0 126.3 L64.0 128.2 L67.7 131.5 L67.3 137.1 L67.5 138.4 L68.1 139.6 L71.4 144.5 L72.4 145.4 L73.7 146.0 L80.2 147.9 L82.7 149.3 L81.1 152.4 L75.8 158.9 L67.9 164.0 L63.6 167.8 L62.8 168.9 L62.4 170.3 L62.3 171.7 L62.7 173.0 L65.6 177.8 L67.3 184.7 L65.1 187.1 L64.2 189.1 L64.1 197.7 L64.3 199.1 L65.2 200.7 L67.1 202.1ZM70.1 159.9 L70.8 158.4 L71.1 156.4 L70.6 153.2 L69.9 151.5 L68.7 149.8 L67.5 148.5 L65.6 147.2 L63.8 146.2 L62.1 145.7 L60.3 145.4 L58.5 145.4 L56.6 145.9 L55.4 146.4 L53.8 147.7 L52.7 149.0 L52.0 150.2 L51.5 152.2 L51.6 154.2 L52.0 156.0 L52.7 157.7 L53.9 159.4 L55.1 160.7 L57.0 162.0 L58.8 163.0 L60.5 163.5 L62.7 163.8 L64.5 163.7 L66.4 163.2 L67.8 162.4 L69.3 161.1Z" fill="#b9d3ce"/>
<path d="M73.9 202.8 L75.6 202.8 L77.4 201.8 L81.4 214.7 L85.9 220.7 L87.7 222.7 L89.1 223.6 L90.7 224.0 L92.7 223.6 L94.0 222.6 L95.6 220.6 L98.9 214.9 L103.5 209.5 L105.8 208.6 L115.0 206.3 L116.6 205.5 L123.3 198.9 L124.2 197.5 L124.5 196.3 L124.4 195.1 L122.9 191.1 L127.8 189.6 L129.0 189.1 L129.9 188.2 L132.4 184.2 L134.6 182.8 L134.8 182.9 L136.6 185.3 L137.6 186.0 L139.2 186.5 L141.2 186.1 L142.3 185.5 L149.6 179.0 L150.4 177.2 L151.5 165.7 L151.0 163.7 L149.2 161.7 L159.4 160.2 L171.4 159.1 L172.9 158.5 L174.0 157.4 L176.6 150.6 L176.8 149.2 L174.9 139.4 L175.3 136.9 L180.5 135.3 L185.8 132.2 L186.9 131.0 L187.3 129.9 L187.5 128.8 L187.2 127.2 L185.0 121.9 L184.2 120.9 L183.4 120.3 L182.7 118.0 L188.6 110.3 L189.0 108.7 L188.7 106.9 L190.5 105.5 L193.1 102.2 L194.4 101.7 L195.9 102.2 L197.5 102.2 L206.3 99.3 L207.9 98.1 L210.0 98.3 L211.6 97.8 L212.7 97.1 L219.6 90.2 L220.6 88.4 L220.7 86.3 L219.7 84.4 L210.2 77.2 L202.4 67.0 L195.4 60.3 L188.2 54.3 L177.6 46.7 L174.7 44.3 L172.9 43.5 L154.1 40.7 L148.2 37.8 L143.7 28.6 L136.7 15.6 L133.1 7.9 L131.9 6.7 L130.8 6.1 L122.4 5.1 L110.4 5.7 L104.9 6.5 L100.3 6.1 L96.4 4.4 L91.7 0.7 L87.3 -0.6 L85.9 -0.8 L81.0 -0.2 L76.5 1.5 L72.2 3.8 L71.2 4.7 L67.2 9.8 L66.5 11.2 L66.3 12.5 L66.4 20.5 L68.7 27.0 L70.1 28.4 L75.6 31.0 L82.0 33.6 L83.2 33.8 L84.6 33.7 L85.5 34.5 L88.2 39.4 L87.5 44.3 L87.6 45.5 L88.1 46.7 L89.6 48.1 L93.8 49.3 L95.9 50.9 L96.8 53.6 L95.6 55.6 L95.3 57.6 L95.9 59.3 L97.3 61.1 L94.8 64.8 L94.3 66.3 L94.4 67.5 L95.4 71.7 L96.1 73.2 L94.7 73.4 L93.5 73.8 L92.6 74.6 L91.9 75.6 L91.4 77.1 L91.4 82.4 L91.7 84.0 L92.9 85.6 L94.8 86.5 L97.0 86.6 L97.4 88.5 L98.0 89.8 L94.5 91.3 L93.2 92.4 L92.5 93.8 L91.9 96.9 L88.4 98.3 L81.9 99.9 L74.3 102.7 L73.2 103.3 L72.3 104.2 L68.4 109.8 L63.9 117.3 L63.4 118.7 L63.5 126.2 L64.4 127.8 L68.2 131.3 L67.8 137.1 L68.0 138.3 L68.5 139.3 L71.5 143.8 L72.7 145.0 L73.8 145.5 L80.4 147.4 L83.4 149.1 L81.5 152.7 L76.2 159.3 L68.2 164.3 L63.9 168.1 L63.2 169.2 L62.9 170.3 L62.8 171.6 L63.2 172.8 L66.1 177.6 L67.9 184.8 L65.5 187.4 L64.7 189.2 L64.6 197.7 L64.8 198.9 L65.6 200.4 L67.3 201.6ZM68.9 160.8 L70.3 158.2 L70.6 156.4 L70.1 153.4 L69.4 151.8 L68.3 150.1 L67.1 148.9 L65.4 147.6 L62.0 146.2 L60.3 145.9 L58.6 145.9 L56.8 146.3 L55.6 146.9 L54.1 148.0 L53.1 149.2 L52.5 150.4 L52.0 152.3 L52.1 154.1 L52.5 155.8 L53.2 157.4 L54.3 159.1 L55.5 160.3 L57.2 161.6 L60.6 163.0 L62.8 163.3 L64.5 163.2 L66.2 162.7 L67.5 162.0Z" fill="#82aca7"/>
<path d="M74.0 202.2 L75.1 202.3 L76.1 202.0 L77.1 201.3 L77.7 200.6 L81.9 214.4 L86.4 220.4 L88.4 222.5 L90.0 223.3 L91.7 223.3 L93.3 222.4 L94.9 220.6 L98.5 214.6 L103.2 209.0 L105.6 208.0 L115.6 205.4 L116.5 204.7 L122.8 198.4 L123.7 197.0 L123.9 195.6 L122.3 191.2 L122.3 190.7 L128.7 188.6 L129.5 187.8 L131.9 183.8 L134.5 182.2 L135.2 182.4 L136.8 184.6 L138.2 185.7 L139.9 185.9 L141.6 185.2 L148.9 178.9 L149.8 177.4 L150.9 165.3 L150.3 163.7 L147.9 161.3 L159.3 159.6 L171.2 158.5 L172.5 158.0 L173.7 156.8 L176.0 150.4 L176.2 149.2 L174.3 139.4 L174.8 136.5 L180.2 134.8 L185.4 131.7 L186.3 130.7 L186.8 129.8 L186.9 128.8 L186.6 127.4 L184.5 122.2 L183.8 121.3 L182.9 120.7 L182.0 117.9 L188.0 110.0 L188.4 108.3 L188.0 106.7 L190.1 105.0 L192.7 101.7 L194.5 101.0 L196.0 101.6 L197.4 101.6 L206.1 98.8 L207.6 97.5 L210.0 97.7 L211.4 97.3 L219.1 89.7 L220.1 88.2 L220.1 86.4 L219.3 84.8 L209.8 77.6 L202.2 67.6 L195.0 60.7 L187.8 54.7 L177.2 47.2 L174.4 44.8 L172.8 44.1 L153.9 41.3 L147.7 38.2 L143.2 28.8 L136.2 15.9 L132.6 8.2 L131.9 7.4 L130.6 6.7 L122.4 5.7 L110.4 6.3 L104.9 7.1 L100.2 6.7 L96.1 4.9 L91.5 1.2 L87.2 -0.1 L85.9 -0.2 L81.2 0.3 L76.8 2.0 L72.5 4.3 L71.7 5.1 L67.7 10.2 L67.0 11.4 L67.0 20.4 L69.2 26.6 L70.5 27.9 L75.9 30.5 L82.2 33.0 L83.2 33.2 L84.8 33.0 L86.0 34.1 L88.9 39.3 L88.1 44.3 L88.2 45.4 L88.6 46.4 L89.9 47.6 L94.1 48.7 L96.4 50.5 L97.4 53.7 L96.2 55.8 L95.9 57.6 L96.4 58.9 L98.0 61.1 L95.3 65.1 L94.9 66.7 L96.1 71.9 L96.6 72.8 L97.4 73.6 L94.1 74.2 L92.6 75.5 L92.0 77.2 L92.0 82.4 L92.4 84.1 L93.6 85.4 L94.9 85.9 L97.5 86.0 L98.1 88.7 L99.0 90.0 L95.1 91.7 L93.9 92.5 L93.0 94.0 L92.4 97.3 L88.6 98.9 L82.1 100.4 L73.6 103.8 L68.9 110.1 L64.4 117.6 L64.0 118.9 L64.0 126.0 L64.9 127.4 L68.8 131.0 L68.5 137.8 L69.0 139.0 L72.0 143.5 L72.7 144.3 L73.7 144.8 L80.6 146.8 L84.2 148.9 L82.0 153.0 L76.6 159.8 L68.6 164.8 L64.4 168.5 L63.8 169.4 L63.4 170.4 L63.4 171.5 L63.7 172.5 L66.6 177.4 L68.5 185.0 L65.9 187.8 L65.3 189.3 L65.4 198.8 L66.0 200.0 L67.5 201.1ZM68.4 160.4 L69.7 158.1 L70.0 156.4 L69.9 154.8 L69.4 153.2 L67.8 150.5 L65.0 148.1 L61.9 146.8 L58.7 146.5 L55.9 147.4 L54.5 148.5 L53.6 149.5 L53.1 150.7 L52.6 152.4 L52.7 154.1 L53.0 155.7 L53.7 157.1 L54.8 158.7 L57.6 161.1 L60.7 162.4 L62.8 162.7 L64.4 162.6 L66.0 162.2 L67.1 161.5Z" fill="#629591"/>
<path d="M74.2 200.9 L75.1 200.8 L76.1 200.3 L78.0 197.2 L83.0 213.5 L87.5 219.5 L89.2 221.3 L90.3 221.9 L91.4 221.9 L92.3 221.4 L94.0 219.5 L97.3 213.8 L102.3 207.8 L105.2 206.7 L115.0 204.2 L121.9 197.5 L122.3 196.8 L122.5 195.7 L120.9 191.5 L120.9 189.6 L127.9 187.4 L128.5 186.8 L130.9 182.8 L134.3 180.6 L136.1 181.2 L137.8 183.7 L138.5 184.3 L139.5 184.5 L140.8 184.1 L147.7 178.1 L148.4 177.0 L149.5 165.5 L149.0 164.3 L146.1 161.4 L146.8 160.0 L159.2 158.2 L171.0 157.2 L172.0 156.7 L172.5 156.1 L174.8 149.2 L172.8 139.5 L173.5 135.3 L179.4 133.7 L184.6 130.6 L185.4 129.4 L185.4 128.2 L183.3 123.1 L182.8 122.3 L181.7 121.6 L180.5 117.6 L186.8 109.4 L187.0 108.1 L186.4 106.2 L189.1 104.0 L191.8 100.5 L194.8 99.4 L196.0 100.2 L197.3 100.2 L205.5 97.5 L206.2 97.0 L206.9 96.0 L209.6 96.3 L210.7 96.0 L218.2 88.8 L218.7 87.8 L218.7 86.7 L218.2 85.7 L208.8 78.6 L201.1 68.5 L194.0 61.7 L186.9 55.8 L176.4 48.3 L173.6 45.9 L172.6 45.5 L153.5 42.7 L146.7 39.3 L142.0 29.5 L135.0 16.5 L131.5 9.2 L131.0 8.4 L130.2 8.0 L122.4 7.1 L110.5 7.7 L104.9 8.5 L99.8 8.0 L95.4 6.1 L90.8 2.4 L86.0 1.2 L81.7 1.6 L77.5 3.3 L73.3 5.5 L68.8 11.0 L68.4 11.8 L68.4 20.3 L70.5 26.1 L71.4 26.8 L76.5 29.2 L82.4 31.6 L83.2 31.8 L85.3 31.6 L87.1 33.2 L90.3 39.0 L89.5 44.4 L89.9 45.8 L91.0 46.6 L94.7 47.4 L97.6 49.6 L99.0 53.9 L97.5 56.1 L97.3 57.4 L97.6 58.2 L99.7 61.1 L96.6 65.7 L96.3 67.1 L97.7 72.0 L98.3 72.5 L100.8 73.9 L100.6 74.6 L95.1 75.4 L93.9 76.1 L93.4 77.3 L93.4 82.6 L93.9 83.8 L94.8 84.4 L98.6 84.6 L99.5 88.3 L100.0 89.0 L101.7 90.1 L101.5 90.5 L94.9 93.5 L94.4 94.4 L93.7 98.3 L89.0 100.2 L82.6 101.7 L74.4 104.9 L70.1 110.9 L65.4 118.9 L65.4 125.6 L65.9 126.5 L70.2 130.4 L69.9 137.5 L73.2 142.7 L74.2 143.5 L81.1 145.5 L86.1 148.4 L83.2 153.8 L77.5 160.8 L69.7 165.7 L65.4 169.5 L64.9 170.4 L65.0 171.9 L67.9 176.9 L70.1 185.4 L67.2 188.5 L66.7 189.4 L66.7 198.4 L67.3 199.3 L68.0 199.8ZM68.0 158.6 L68.6 156.4 L68.2 153.8 L66.8 151.4 L64.3 149.3 L61.6 148.1 L58.9 147.9 L56.5 148.7 L54.8 150.3 L54.0 152.6 L54.4 155.2 L55.8 157.8 L58.3 159.9 L61.0 161.1 L63.7 161.3 L65.1 161.0 L66.3 160.4Z" fill="#598d89"/>
<path d="M74.6 198.7 L78.5 191.8 L81.2 199.8 L85.0 212.5 L89.3 218.2 L90.8 219.8 L92.2 218.2 L95.5 212.5 L101.0 206.0 L104.5 204.6 L114.0 202.2 L120.3 195.9 L118.7 191.9 L118.7 188.0 L126.6 185.6 L129.3 181.2 L134.0 178.2 L137.5 179.4 L139.5 182.3 L146.3 176.4 L147.3 165.7 L143.4 161.8 L145.3 158.0 L158.9 156.0 L170.6 155.0 L172.6 149.2 L170.6 139.5 L171.6 133.6 L178.4 131.7 L183.3 128.8 L181.3 123.9 L179.9 123.0 L178.0 117.2 L184.8 108.4 L183.8 105.5 L187.5 102.5 L190.5 98.7 L195.5 96.8 L196.6 98.1 L204.6 95.5 L205.7 93.6 L209.7 94.1 L216.6 87.2 L207.2 80.2 L199.5 70.0 L192.5 63.3 L185.5 57.5 L175.0 50.0 L172.3 47.7 L152.8 44.8 L145.0 40.9 L140.0 30.5 L133.0 17.5 L129.5 10.1 L122.3 9.3 L110.6 9.9 L105.0 10.7 L99.3 10.2 L94.2 8.0 L89.8 4.4 L86.2 3.4 L82.5 3.7 L78.5 5.2 L74.5 7.3 L70.5 12.4 L70.6 20.0 L72.3 24.8 L83.2 29.6 L86.0 29.3 L88.8 31.8 L92.6 38.6 L91.7 44.5 L95.6 45.4 L99.5 48.3 L101.4 54.2 L99.5 57.1 L102.4 61.0 L98.5 66.8 L99.5 70.7 L103.3 72.7 L102.4 76.6 L95.6 77.5 L95.6 82.4 L100.4 82.4 L101.4 87.3 L104.3 89.2 L103.3 92.1 L96.5 95.0 L95.6 99.9 L89.7 102.3 L83.4 103.8 L75.8 106.6 L72.0 112.0 L67.5 119.5 L67.5 125.0 L72.5 129.5 L72.0 137.0 L75.0 141.5 L82.0 143.5 L89.0 147.5 L85.0 155.0 L79.0 162.5 L71.0 167.5 L67.0 171.0 L70.0 176.0 L72.5 186.0 L68.8 190.0 L68.8 197.7ZM66.1 157.5 L66.4 156.3 L66.1 154.6 L65.1 152.9 L63.5 151.4 L61.6 150.4 L59.6 150.1 L57.9 150.4 L56.7 151.4 L56.2 152.9 L56.5 154.6 L57.8 156.7 L59.5 158.1 L61.5 158.9 L63.4 159.1 L65.0 158.6Z" fill="#bcf4e8"/>
<path d="M86.0 196.7 L87.0 197.3 L91.3 195.7 L91.9 194.2 L89.5 192.3 L86.4 195.3ZM137.2 137.1 L136.2 134.2 L131.6 135.6 L133.8 138.3 L136.5 138.0ZM119.3 66.4 L119.7 67.9 L123.9 66.3 L122.0 63.9ZM182.2 109.3 L184.5 107.9 L183.9 106.2 L183.0 105.9 L181.7 106.2 L181.7 109.2ZM142.9 176.6 L142.1 176.8 L141.6 178.6 L142.3 179.9 L145.4 177.2ZM188.1 77.6 L188.1 77.1 L184.5 77.9 L185.0 79.2 L186.7 80.0ZM140.9 144.8 L139.6 148.2 L141.7 150.0 L142.5 147.6ZM110.4 198.3 L110.2 199.3 L113.4 202.3 L114.0 202.2 L115.8 200.4 L112.5 198.0ZM114.9 108.6 L116.1 106.5 L115.8 104.7 L113.8 102.8 L111.7 106.9ZM141.3 142.5 L141.5 143.5 L146.1 145.3 L147.4 144.8 L147.8 144.1 L147.0 142.6 L141.6 142.0ZM135.0 145.4 L136.5 145.3 L137.5 142.1 L136.6 141.6 L134.3 142.3ZM113.6 111.5 L114.5 112.7 L116.9 114.2 L118.4 112.2 L118.2 110.9 L115.0 109.0ZM109.8 167.9 L111.8 165.3 L110.5 164.0 L106.8 165.9ZM88.0 187.4 L85.6 186.6 L85.3 188.6 L86.9 189.8ZM100.7 96.0 L101.6 96.1 L102.3 95.7 L101.6 93.8 L101.0 93.5 L100.5 93.6ZM112.8 197.8 L116.0 200.2 L116.4 199.8 L115.9 195.8ZM115.4 144.9 L112.9 144.5 L112.5 147.2 L115.5 146.7 L115.7 145.9ZM99.0 190.2 L96.9 190.1 L94.0 191.3 L93.9 191.9 L96.8 194.1ZM100.5 172.4 L102.5 173.5 L103.7 169.7 L103.4 169.5 L99.7 170.2ZM105.9 65.8 L111.7 67.3 L112.5 66.7 L112.8 64.7 L106.0 65.0ZM72.7 168.2 L71.7 169.1 L72.3 170.2 L74.7 170.9 L75.8 169.8ZM114.8 133.3 L117.3 134.5 L118.1 131.5 L114.8 132.1ZM134.5 148.9 L133.2 150.1 L132.8 151.2 L133.4 152.2 L135.5 152.5 L137.9 150.8 L137.5 148.6ZM109.9 154.3 L111.0 149.5 L106.4 151.8 L107.9 154.5 L108.7 154.9ZM137.6 142.0 L141.0 142.3 L141.4 141.7 L141.5 140.1 L138.1 137.4 L137.4 137.3 L136.7 138.1 L136.7 141.5ZM80.9 186.2 L83.4 189.3 L85.0 188.5 L85.3 186.5 L84.7 185.7 L81.4 185.5ZM151.9 112.0 L152.6 109.7 L151.7 108.3 L148.5 108.9 L148.1 109.4 L149.1 112.2ZM116.8 143.0 L118.7 144.2 L120.7 143.3 L120.8 141.3 L118.0 139.8 L117.5 139.8 L116.4 140.3ZM141.8 160.5 L137.8 161.9 L138.6 166.3 L140.0 166.8 L141.1 166.3 L143.2 162.4ZM93.7 202.6 L94.4 204.9 L98.7 204.5 L98.4 202.9 L96.1 201.6ZM118.7 128.8 L118.6 131.0 L121.0 132.4 L122.4 132.4 L123.8 129.8 L122.5 128.0ZM123.8 158.8 L126.3 158.0 L126.8 156.2 L124.8 153.9 L122.4 156.1ZM101.4 197.6 L102.7 198.9 L104.9 196.4 L105.4 194.9 L102.3 195.2ZM111.9 61.7 L113.3 63.0 L115.2 60.3 L113.9 57.4 L113.4 57.3ZM79.1 123.6 L79.1 120.7 L77.8 120.4 L76.6 122.0ZM123.0 20.3 L123.4 20.2 L126.2 17.9 L123.2 17.1 L122.0 19.3ZM132.4 166.6 L132.3 165.7 L130.8 163.2 L128.8 163.1 L128.5 166.0 L131.4 167.6ZM90.7 156.0 L92.5 158.1 L94.8 155.7 L94.1 155.2ZM98.7 153.0 L101.1 150.1 L97.4 149.8 L97.0 152.3ZM110.1 154.2 L113.1 154.6 L113.6 154.1 L113.6 150.8 L111.2 149.4ZM118.4 128.7 L114.3 129.0 L113.6 130.8 L114.6 131.8 L118.3 131.1ZM109.0 141.0 L111.4 141.0 L112.5 139.8 L110.6 137.6 L107.5 139.5ZM77.9 164.3 L75.0 165.4 L77.1 169.2 L78.2 169.3 L78.7 168.4ZM113.3 117.0 L116.4 114.5 L114.4 113.2 L112.4 115.3ZM108.0 190.2 L107.3 194.1 L109.1 195.3 L111.8 193.6 L112.6 191.4ZM79.5 193.9 L79.9 195.9 L84.8 196.7 L81.8 192.3 L80.7 192.4ZM118.5 170.6 L118.9 170.5 L120.9 167.6 L120.7 166.0 L119.7 164.7 L116.0 165.9 L114.9 167.2 L115.0 167.8ZM114.1 92.4 L113.4 93.3 L113.4 95.4 L114.6 96.4 L117.0 95.0 L117.6 93.3ZM103.9 204.9 L108.4 203.6 L108.3 200.9 L106.2 200.9 L104.5 201.7ZM98.8 204.7 L95.2 210.6 L95.4 210.7 L96.8 210.9 L101.2 205.9ZM104.1 143.5 L101.2 143.9 L101.0 147.3 L101.8 148.4 L104.8 147.3 L105.5 145.4ZM72.3 188.9 L70.0 188.7 L68.8 190.0 L68.8 192.8 L70.4 193.2 L72.5 192.5ZM124.0 129.7 L125.8 129.8 L128.2 127.9 L128.2 126.6 L127.1 125.5 L123.1 126.5 L122.7 127.9ZM105.9 165.1 L106.6 165.7 L110.3 163.7 L109.8 162.5 L108.5 161.2 L107.2 161.3ZM99.0 195.9 L96.8 194.7 L95.8 195.7 L95.5 197.7 L97.6 198.3 L99.3 197.4ZM126.2 117.3 L124.3 116.4 L118.8 117.1 L118.3 119.0 L120.8 121.1 L126.4 118.6ZM154.4 91.8 L155.5 94.7 L158.1 93.7 L156.5 91.0 L154.6 90.3ZM127.4 106.5 L126.9 104.3 L123.5 104.2 L122.7 104.7 L122.8 108.0 L123.6 109.1 L126.8 108.5ZM68.8 171.4 L69.1 173.9 L70.4 174.3 L71.2 174.1 L71.5 173.7 L70.9 172.0ZM116.0 104.7 L116.3 106.5 L118.2 107.2 L121.1 104.6 L119.2 103.9ZM142.7 55.6 L143.5 55.4 L144.5 53.8 L141.9 52.4 L140.8 52.9 L140.8 55.0ZM95.0 120.8 L94.0 121.3 L92.2 124.4 L95.1 125.0 L96.3 123.2 L95.4 121.2ZM110.7 176.3 L112.5 179.2 L113.7 178.9 L114.8 176.3 L114.5 175.7 L110.8 175.9ZM81.1 132.7 L78.8 133.9 L78.4 134.6 L79.4 136.2 L81.6 137.6 L82.8 137.1 L82.9 136.5ZM187.0 82.4 L188.1 85.3 L189.9 82.6 L187.2 81.4ZM135.5 114.5 L137.2 113.0 L136.7 111.9 L135.7 111.7 L132.0 112.6 L133.3 114.6ZM124.3 11.3 L124.6 12.2 L126.0 12.5 L128.3 10.2 L128.2 10.0 L125.6 9.7ZM106.5 176.8 L103.0 174.3 L102.1 176.2 L106.8 180.3 L107.0 179.5ZM134.9 119.1 L134.9 119.8 L139.2 122.3 L139.5 118.5 L135.9 118.1ZM94.0 170.7 L94.4 168.1 L93.7 167.3 L92.5 167.2 L90.4 169.4 L92.3 172.2ZM121.5 99.4 L121.1 100.9 L122.9 104.0 L123.3 103.8 L123.8 100.0ZM158.7 137.3 L160.5 137.4 L160.6 137.1 L159.2 136.4ZM137.6 161.9 L137.2 161.5 L134.6 161.0 L132.6 165.7 L132.7 166.6 L138.3 166.3ZM123.4 159.8 L123.5 159.2 L122.0 156.2 L120.4 156.3 L118.3 158.1 L120.5 161.5ZM74.2 173.4 L71.8 173.9 L71.4 174.3 L72.5 176.4 L73.3 176.7 L74.6 175.7 L74.5 173.8ZM123.2 93.3 L119.9 92.5 L119.4 93.0 L121.4 96.1 L123.3 95.9ZM99.5 190.1 L101.3 194.4 L102.3 194.9 L105.7 194.5 L100.4 189.0ZM102.4 164.7 L105.6 165.0 L107.0 161.2 L106.2 160.7 L103.4 161.0 L101.6 163.1 L101.4 163.7ZM109.4 170.4 L107.0 170.8 L106.6 172.7 L107.9 174.1 L109.7 174.1 L110.4 172.1ZM97.7 169.0 L94.6 168.2 L94.2 170.7 L95.4 171.8 L96.9 171.8 L98.2 169.5ZM88.4 183.6 L88.9 186.9 L91.5 187.6 L92.6 186.2ZM138.0 115.6 L137.2 113.3 L135.7 114.7 L136.0 117.7ZM139.5 118.3 L139.4 116.6 L138.2 115.8 L136.2 117.9ZM141.4 178.5 L141.8 176.6 L138.9 175.1 L136.9 176.3 L136.7 177.0 L137.4 178.6ZM101.6 148.5 L100.9 147.5 L98.3 147.2 L97.5 147.7 L96.9 148.5 L97.4 149.5 L101.2 149.8ZM127.1 54.7 L127.3 55.1 L130.2 54.0 L130.8 52.9 L128.9 52.2 L127.1 53.0ZM61.5 151.6 L60.0 151.0 L59.1 153.1 L60.4 154.8ZM141.1 39.9 L140.0 37.7 L138.9 38.6 L138.6 42.5ZM135.4 172.9 L136.8 176.0 L138.7 174.8 L139.0 173.6 L138.5 172.6 L136.0 171.8ZM92.2 218.2 L93.3 216.3 L92.8 214.3 L90.3 214.4 L90.0 216.8ZM161.9 109.0 L162.3 109.5 L163.8 107.4 L161.5 107.0ZM139.4 148.1 L140.4 145.2 L137.6 146.1 L137.7 148.4ZM127.0 151.0 L125.6 152.2 L125.1 153.4 L127.3 155.8 L128.7 155.3 L127.8 151.3ZM146.9 165.3 L145.6 164.0 L144.5 166.4 L147.0 166.7ZM109.2 146.3 L111.1 148.9 L112.3 147.3 L112.6 144.3 L112.4 144.0 L110.1 144.4ZM92.8 145.6 L95.6 143.6 L96.2 142.7 L96.0 141.5 L92.5 140.8 L92.5 145.2ZM124.6 96.2 L126.2 95.8 L124.2 93.0 L123.6 93.4 L123.6 95.8ZM113.1 118.7 L116.7 120.0 L117.9 118.9 L118.5 117.1 L116.9 114.8 L113.4 117.6ZM116.0 195.6 L116.7 195.6 L119.1 192.9 L118.1 191.2 L116.0 192.4ZM118.4 187.8 L120.9 186.0 L121.2 184.7 L117.1 182.9 L116.0 185.2ZM100.3 163.8 L97.6 161.1 L95.6 162.3 L95.6 164.0 L99.3 164.2ZM80.7 192.1 L81.8 192.0 L83.2 191.0 L83.2 189.6 L80.7 186.5 L80.4 187.1 L79.9 190.3ZM90.4 209.5 L88.4 207.9 L86.3 208.6 L86.1 209.4 L87.7 212.5 L89.1 212.6ZM97.5 198.5 L95.5 197.9 L95.1 199.0 L96.2 201.4 L98.4 202.7 L98.8 201.9ZM115.4 162.1 L116.1 161.4 L115.8 158.9 L112.9 158.4 L112.6 160.5 L114.1 162.3ZM149.1 127.0 L147.9 126.5 L146.1 129.3 L147.6 130.8 L148.1 130.7ZM87.1 190.1 L89.5 191.6 L91.5 188.7 L91.5 187.9 L88.7 187.2 L88.3 187.4ZM91.9 132.1 L92.9 129.3 L90.9 127.2 L90.1 130.4ZM107.6 189.2 L101.4 187.7 L100.6 188.8 L105.9 194.4 L107.0 194.1 L107.8 190.0ZM105.1 147.3 L105.7 148.2 L110.3 148.5 L109.0 146.4 L105.7 145.6ZM141.6 139.8 L142.1 136.2 L141.1 135.3 L138.4 137.3ZM92.7 200.7 L90.5 200.3 L89.9 200.5 L89.7 202.1 L91.6 202.9 L93.5 202.5ZM87.5 212.6 L85.9 209.6 L84.4 210.5 L85.0 212.5 L86.3 214.2ZM145.5 173.4 L145.4 172.1 L143.0 171.9 L142.4 172.7 L142.1 176.5 L142.8 176.3ZM97.8 157.9 L97.1 157.7 L94.6 160.4 L95.5 162.1 L97.5 160.8ZM110.6 163.7 L111.8 164.6 L113.9 162.4 L112.5 160.8 L110.2 162.4ZM117.6 153.9 L120.4 156.1 L122.0 156.0 L120.2 151.9 L118.0 151.9ZM154.4 88.8 L156.7 86.6 L156.9 85.0 L156.0 84.6 L153.6 85.3 L154.0 88.2ZM91.5 203.1 L89.6 202.3 L88.8 203.3 L89.4 205.9 L92.4 206.0ZM115.7 185.1 L116.9 182.6 L116.8 181.7 L115.4 181.1 L112.3 183.5 L112.4 183.9ZM99.9 200.7 L102.6 199.7 L102.6 199.1 L101.2 197.7 L99.7 197.7ZM129.7 134.7 L127.2 133.4 L123.8 134.4 L123.5 135.8 L125.5 137.0 L126.9 136.9ZM117.4 172.5 L119.4 175.9 L122.1 176.7 L123.4 175.2 L122.6 173.5 L118.9 170.8 L118.5 170.9ZM100.9 132.6 L100.3 132.6 L98.6 135.5 L98.6 136.4 L103.1 135.7ZM120.7 123.7 L120.7 121.3 L118.1 119.2 L116.8 120.3 L116.6 122.1 L119.5 124.1ZM133.1 149.9 L134.4 148.8 L134.7 145.3 L131.0 145.8ZM117.3 134.9 L117.1 135.4 L117.6 139.5 L118.0 139.5 L120.1 136.6 L119.6 135.7ZM86.2 139.1 L82.9 137.4 L81.6 137.9 L80.8 140.7 L81.2 142.7ZM84.6 165.7 L84.2 165.3 L82.1 166.8 L84.4 169.8 L85.5 168.9ZM105.6 145.3 L109.1 146.2 L109.9 144.3 L108.8 143.0ZM85.7 158.1 L82.8 157.7 L80.9 160.2 L81.9 162.4 L83.9 163.1ZM158.1 114.9 L157.8 113.8 L155.0 114.8 L155.3 117.3 L156.9 117.5ZM131.0 163.1 L132.5 165.4 L134.4 160.9 L132.3 159.2ZM77.9 192.9 L78.5 191.8 L79.3 193.6 L80.4 192.2 L79.7 190.5 L77.4 190.6 L76.5 191.7 L76.4 192.1ZM114.6 96.7 L114.2 100.7 L117.1 99.8 L118.3 98.3 L117.0 95.3ZM85.3 10.5 L82.6 11.7 L82.6 12.0 L85.8 14.3 L86.5 14.2ZM90.0 214.3 L89.1 212.9 L87.7 212.8 L86.5 214.4 L87.4 215.7 L89.2 216.7 L89.7 216.6ZM96.7 194.3 L93.9 192.0 L92.1 194.1 L95.7 195.5ZM89.7 161.3 L91.9 159.9 L92.3 158.3 L90.6 156.4 L87.7 158.6ZM132.9 115.9 L133.1 114.8 L131.6 112.6 L131.1 112.4 L128.1 114.3 L126.4 117.3 L126.5 117.6 L127.7 117.5ZM124.4 96.6 L123.3 96.2 L121.5 96.4 L120.7 98.1 L121.4 99.0 L123.7 99.4ZM99.1 164.6 L95.6 164.3 L94.0 167.2 L94.6 167.9 L97.7 168.7ZM118.7 101.3 L117.2 100.0 L114.2 100.9 L113.9 102.6 L115.9 104.6 L119.1 103.8ZM122.3 176.9 L121.9 178.9 L126.8 179.6 L125.8 175.9 L124.5 175.3 L123.5 175.3ZM108.7 142.8 L108.8 141.2 L107.2 139.6 L106.2 139.3 L104.7 141.5 L104.3 143.3 L105.5 145.0ZM113.9 14.1 L111.4 10.0 L111.2 10.0 L109.0 14.0 L109.7 14.6 L113.4 15.0ZM127.7 158.9 L128.3 161.4 L132.1 158.9 L131.9 158.3ZM97.0 194.3 L99.0 195.7 L101.0 194.5 L99.3 190.3ZM120.9 141.2 L122.7 140.4 L122.3 136.8 L120.4 136.7 L118.2 139.6ZM112.0 115.0 L114.0 112.8 L113.3 111.8 L112.1 111.6 L111.0 112.2 L110.7 114.7ZM80.6 108.1 L81.9 106.0 L80.5 104.9 L77.4 106.0 L77.6 108.0ZM72.6 166.9 L72.2 166.7 L69.8 168.6 L71.4 169.0 L72.6 167.9ZM74.7 165.5 L72.9 166.9 L72.9 167.9 L76.2 169.5 L76.8 169.2ZM94.9 174.0 L95.3 172.0 L94.1 170.9 L92.4 172.4 L92.1 173.6 L92.6 174.2ZM103.2 60.2 L106.2 61.4 L107.7 60.1 L107.9 55.8 L104.9 54.1 L103.6 54.8ZM102.8 199.2 L102.8 199.7 L104.4 201.3 L106.0 200.6 L104.9 196.8ZM113.1 57.1 L111.1 55.9 L108.4 56.0 L108.1 60.0 L111.6 61.4ZM134.2 142.1 L136.4 141.4 L136.4 138.3 L133.9 138.6 L132.7 141.5ZM112.5 143.8 L116.1 140.3 L114.7 139.5 L112.7 139.9 L111.6 141.1ZM140.0 105.6 L139.0 105.5 L137.2 107.4 L137.5 109.8 L140.6 109.0 L140.6 107.1ZM117.3 59.8 L118.7 61.4 L119.6 60.3 L118.2 58.3ZM89.9 134.5 L85.5 130.2 L84.8 130.0 L85.4 133.4 L88.2 135.7ZM129.9 173.0 L126.8 172.3 L124.7 175.2 L125.9 175.8 L128.3 175.5ZM120.5 98.2 L118.5 98.4 L117.3 99.9 L118.8 101.1 L120.8 100.8 L121.2 99.2ZM134.4 125.0 L134.3 126.2 L137.6 128.2 L139.5 124.6 L139.3 123.9ZM81.0 143.2 L80.6 140.8 L76.9 139.7 L76.7 140.1 L77.3 142.2ZM107.2 179.3 L110.4 176.3 L110.6 175.7 L109.7 174.3 L107.9 174.4 L106.7 176.8ZM141.8 114.9 L139.8 116.6 L139.9 118.1 L143.6 118.0ZM89.5 143.5 L92.3 145.1 L92.3 140.7 L92.1 140.5ZM122.6 173.3 L124.9 169.5 L123.7 168.5 L121.1 167.8 L119.1 170.6ZM117.2 177.4 L118.5 179.8 L121.4 179.5 L122.0 177.0 L119.4 176.2ZM112.1 193.6 L115.6 195.1 L115.7 192.4 L113.4 191.0 L112.9 191.4ZM125.2 162.2 L127.8 161.9 L127.3 158.9 L126.5 158.5 L123.8 159.4 L123.7 159.9ZM105.9 132.6 L109.7 133.0 L108.1 130.4 L105.4 131.3ZM87.6 181.0 L84.7 177.0 L83.5 180.4 L87.0 182.8 L87.5 182.6ZM100.0 201.1 L98.7 202.9 L99.0 204.4 L101.7 205.7 L103.3 204.9 L104.1 201.6 L102.6 200.0ZM110.3 134.1 L111.1 135.1 L113.0 135.3 L114.6 133.4 L114.5 132.0 L113.5 131.0 L111.9 131.3 L110.2 133.3ZM127.3 133.2 L129.7 134.4 L131.1 130.7 L128.3 128.1 L125.9 130.0ZM105.9 151.6 L105.5 148.4 L104.9 147.5 L101.9 148.5 L101.4 150.0 L103.3 152.3ZM135.6 111.5 L133.7 108.9 L132.0 108.7 L131.1 110.3 L131.2 112.2 L131.7 112.4ZM128.2 162.1 L128.8 162.7 L130.7 162.9 L131.8 159.5ZM117.1 182.6 L121.4 184.4 L122.6 182.9 L121.4 179.8 L118.5 180.1 L117.1 181.6ZM79.3 125.1 L76.9 126.9 L78.2 128.1 L79.5 127.1ZM114.1 128.9 L112.9 126.4 L111.9 125.9 L110.1 127.9 L111.9 131.1 L113.4 130.8ZM81.6 116.3 L80.8 114.0 L80.2 113.9 L79.6 114.0 L77.0 116.7 L77.4 117.0ZM94.4 211.5 L93.1 214.2 L93.5 215.9 L95.4 212.6 L95.2 211.0ZM100.0 132.6 L97.6 130.6 L95.5 132.9 L98.4 135.2ZM133.5 127.3 L133.0 130.0 L136.9 131.6 L137.7 130.0 L137.5 128.4 L134.2 126.4ZM85.1 188.7 L83.4 189.6 L83.4 191.0 L85.1 191.6 L86.9 190.1ZM131.8 78.7 L130.5 79.8 L129.9 81.1 L130.8 82.5 L134.1 80.9ZM64.9 158.7 L65.9 157.8 L66.3 156.7 L66.3 155.1 L65.6 153.5 L62.4 157.5ZM104.4 127.6 L103.6 130.3 L104.8 130.7 L106.9 127.2 L106.7 126.9ZM125.6 48.4 L125.4 47.5 L122.8 47.4 L122.9 48.8 L124.9 49.8ZM134.2 118.7 L133.0 116.2 L128.1 117.6ZM115.0 13.3 L117.9 12.9 L116.8 9.6 L115.6 9.6ZM101.2 197.5 L102.1 195.1 L101.2 194.7 L99.2 195.9 L99.5 197.4ZM156.2 132.4 L155.6 129.3 L153.0 128.3 L152.3 130.8ZM88.2 144.9 L87.8 146.6 L91.8 148.6 L92.4 147.8 L92.6 145.8 L92.3 145.4 L89.4 143.8ZM95.1 132.8 L97.3 130.3 L97.1 128.6 L96.7 128.4 L93.3 129.4 L92.1 132.5 L92.4 133.9ZM74.5 171.2 L72.2 170.6 L71.3 171.9 L71.9 173.5 L74.1 173.1ZM74.1 186.7 L79.1 185.5 L77.4 184.1 L73.9 185.9ZM129.0 102.9 L127.3 104.2 L127.8 106.3 L131.6 107.1 L132.2 105.4ZM98.6 41.1 L97.7 42.0 L98.3 43.8 L99.5 43.8 L100.2 42.7 L99.7 41.0ZM138.7 172.5 L139.2 173.5 L142.2 172.5 L142.7 171.7 L140.7 169.3ZM99.6 170.0 L103.3 169.3 L102.2 166.1 L99.4 169.8ZM98.3 136.6 L98.4 135.5 L95.2 133.1 L92.6 134.1 L93.3 135.9 L97.2 138.0ZM118.1 76.8 L119.6 75.8 L119.6 74.8 L117.6 73.0 L116.3 74.9ZM143.2 128.8 L145.7 129.1 L147.6 126.1 L146.8 124.6 L145.9 124.1 L142.8 126.8ZM149.9 74.3 L150.3 74.9 L151.5 75.2 L152.1 71.6 L151.1 71.0ZM73.7 185.5 L77.1 183.7 L76.5 182.0 L73.8 183.1 L73.1 184.4ZM151.0 117.6 L150.8 117.0 L148.0 115.4 L146.1 118.7 L148.6 119.5ZM65.3 153.2 L62.0 151.8 L60.7 155.5 L60.8 156.6 L62.1 157.2ZM109.6 96.6 L109.7 97.7 L113.9 100.3 L114.4 96.7 L113.2 95.6ZM86.3 143.8 L86.1 141.6 L83.1 144.1 L83.8 144.5ZM138.1 137.2 L140.9 135.1 L140.7 133.4 L137.1 132.3 L136.5 134.1 L137.4 137.0ZM122.8 183.0 L121.5 184.6 L121.2 186.1 L122.3 186.9 L126.3 185.7 L126.4 183.8 L126.0 183.5ZM142.2 157.4 L138.7 156.5 L138.3 156.8 L137.5 161.4 L137.8 161.7 L141.7 160.2ZM118.1 188.0 L115.7 185.4 L113.0 188.6 L113.6 189.7ZM128.0 151.0 L132.7 151.1 L133.0 150.0 L130.5 145.6 L127.1 150.6ZM77.0 106.2 L75.8 106.6 L74.8 108.0 L75.8 109.0 L77.2 108.0ZM123.6 53.7 L126.3 54.3 L126.4 52.9 L125.1 51.9ZM102.5 125.1 L104.3 127.2 L106.5 126.5 L106.4 125.4ZM128.2 113.9 L130.9 112.1 L130.8 110.4 L127.1 108.9ZM114.7 167.8 L114.6 167.2 L112.0 165.5 L109.9 168.1 L110.0 169.5 L113.5 169.1ZM121.2 147.8 L121.5 150.7 L125.3 151.9 L126.5 150.7 L122.7 147.2 L122.2 147.0ZM119.2 92.8 L119.8 92.3 L120.5 90.6 L120.5 88.8 L118.4 87.7 L116.9 88.7 L118.0 92.9ZM101.4 124.8 L100.3 126.9 L103.2 129.9 L103.9 127.5ZM123.7 168.2 L125.7 165.3 L124.9 164.0 L121.0 166.0 L121.1 167.6ZM125.9 165.2 L127.6 166.0 L128.2 166.0 L128.6 163.0 L127.9 162.2 L125.2 162.5 L125.0 163.8ZM91.1 151.2 L89.6 152.5 L90.7 155.7 L93.9 155.0ZM137.9 130.1 L137.1 132.0 L140.8 133.1 L142.5 132.1 L143.0 129.0ZM145.6 173.6 L143.1 176.4 L145.5 177.1 L146.3 176.4 L146.4 175.3ZM130.1 138.4 L128.6 139.9 L131.5 141.9 L132.0 141.5ZM122.1 112.4 L118.7 112.4 L117.2 114.4 L118.8 116.8 L124.0 116.2ZM129.5 126.2 L128.4 126.7 L128.4 127.9 L131.2 130.6 L132.7 129.9 L133.2 127.3ZM94.8 155.4 L96.7 152.2 L91.5 150.8 L91.3 151.0 L94.3 155.0ZM153.7 79.8 L153.7 79.0 L152.6 77.9 L152.2 78.9ZM116.6 88.7 L116.2 88.6 L113.3 90.5 L114.1 92.1 L117.7 93.0ZM110.0 162.2 L112.4 160.5 L112.7 158.5 L109.9 158.3 L108.7 161.0ZM98.7 153.2 L96.9 152.5 L94.9 155.6 L97.1 157.5 L97.9 157.7 L99.0 157.4 L100.7 156.1ZM116.6 143.0 L116.3 140.5 L112.6 144.0 L112.8 144.2 L115.5 144.6ZM146.7 156.3 L142.9 157.1 L142.5 157.4 L142.6 158.1 L144.7 159.3 L145.3 158.0 L146.8 157.8ZM101.2 163.7 L101.4 163.1 L99.0 157.6 L98.0 157.9 L97.7 160.8 L100.6 163.7ZM90.4 9.7 L90.3 8.1 L88.0 8.7 L89.4 10.0ZM137.6 87.0 L138.2 85.8 L132.0 85.1 L134.3 88.2ZM119.2 108.9 L118.1 107.4 L116.3 106.7 L115.1 108.7 L118.3 110.6ZM92.1 197.6 L91.3 195.9 L87.3 197.5 L89.8 200.2 L90.3 200.0ZM100.3 188.6 L101.2 187.2 L100.0 183.3 L99.4 182.9 L94.2 184.8ZM96.0 11.6 L97.3 10.9 L97.3 9.3 L95.6 8.6 L94.5 10.2ZM108.8 156.4 L108.7 155.1 L107.9 154.7 L104.0 156.5 L106.0 158.2ZM69.9 196.8 L68.8 196.7 L68.8 197.7 L70.4 198.0ZM166.8 120.6 L164.5 123.8 L164.8 124.4 L167.7 122.2 L167.6 120.9ZM140.8 169.0 L143.0 171.6 L145.8 171.6 L143.8 166.8 L141.2 166.5 L140.1 167.0ZM70.7 196.1 L70.1 196.7 L70.7 198.0 L74.0 198.1 L74.1 196.5ZM86.0 106.4 L87.4 104.2 L86.8 103.0 L85.5 103.3 L84.3 104.3 L84.2 105.3 L85.4 106.3ZM105.1 196.5 L106.3 200.6 L108.4 200.5 L109.9 199.2 L110.1 198.1 L109.0 195.6 L107.1 194.4 L105.7 194.8ZM123.1 126.3 L127.0 125.3 L126.3 120.8 L122.4 124.5ZM98.9 153.1 L100.9 156.0 L101.9 155.9 L103.1 152.5 L101.3 150.2ZM131.1 178.4 L132.7 176.9 L132.3 174.8 L130.4 172.8 L128.5 175.6ZM98.3 137.2 L97.3 138.2 L97.4 139.3 L100.3 140.5 L101.2 140.0 L101.7 138.4ZM138.4 155.1 L135.5 152.7 L133.4 152.4 L132.7 156.6 L138.2 156.7 L138.6 156.3ZM123.8 103.7 L126.9 103.8 L128.0 102.8 L126.1 100.2 L124.3 100.2ZM91.8 132.6 L89.7 130.7 L86.1 130.3 L90.2 134.3 L92.0 133.8ZM96.3 142.9 L95.8 143.7 L97.4 147.4 L98.2 146.9 L98.7 144.0ZM128.5 102.5 L128.2 96.6 L126.5 99.9ZM139.5 122.6 L144.6 120.5 L145.1 119.1 L144.0 118.3 L139.7 118.5ZM90.3 214.1 L92.7 214.0 L93.9 211.7 L89.6 212.9ZM124.5 175.1 L126.7 172.1 L126.3 170.1 L125.6 169.7 L125.1 169.6 L122.8 173.5 L123.5 175.1ZM107.9 60.3 L106.4 61.7 L106.0 64.7 L112.9 64.4 L113.2 63.3 L111.7 61.8ZM86.9 140.2 L86.4 141.4 L86.6 143.8 L88.0 144.7 L89.2 143.4ZM73.5 182.9 L73.0 181.1 L71.2 180.8 L72.0 184.1 L72.9 184.3ZM107.0 29.9 L108.9 30.4 L109.8 29.6 L110.0 28.8 L107.0 29.1ZM80.5 164.0 L81.7 162.5 L80.6 160.4 L79.0 162.5 L77.8 163.3 L78.0 164.1ZM92.9 145.8 L92.7 147.8 L96.7 148.4 L97.2 147.5 L95.7 143.8ZM108.3 130.2 L110.1 133.0 L111.7 131.2 L109.9 128.0 L109.0 128.2ZM114.8 175.5 L115.1 176.2 L116.9 177.2 L119.2 176.0 L117.2 172.7 L115.2 174.1ZM81.8 166.7 L84.1 165.1 L83.7 163.4 L81.8 162.6 L80.7 164.1 L80.8 166.7ZM140.8 109.5 L137.4 110.4 L137.0 111.7 L137.5 112.6 L141.9 112.6 L142.1 112.0ZM94.9 155.8 L92.5 158.3 L92.2 159.9 L94.4 160.3 L96.9 157.6ZM144.2 133.7 L142.6 132.5 L141.1 133.4 L141.4 135.0 L142.3 135.8 L143.7 135.4ZM122.6 108.3 L119.4 109.0 L118.6 110.8 L118.8 112.0 L122.1 112.0 L123.2 109.3ZM119.6 164.4 L119.5 162.9 L116.2 161.6 L115.5 162.2 L116.0 165.7ZM145.7 119.0 L144.9 120.6 L146.0 123.8 L146.9 124.3 L150.5 122.3 L148.6 120.0ZM131.3 168.0 L128.3 166.3 L127.7 166.3 L125.8 169.5 L126.4 169.9 L130.7 169.2ZM141.9 150.2 L142.1 151.3 L142.5 151.4 L145.5 150.0 L144.9 147.4 L142.7 147.7ZM93.7 191.9 L93.8 191.3 L91.6 188.9 L89.6 191.8 L89.6 192.1 L91.9 194.0ZM125.1 169.4 L125.6 169.5 L127.4 166.2 L125.9 165.4 L123.9 168.3ZM96.0 97.8 L95.6 99.9 L94.0 100.5 L94.4 102.6 L96.4 102.7 L97.4 99.0ZM132.0 122.5 L126.7 119.5 L126.5 120.6 L127.2 125.4 L128.3 126.5 L129.4 125.9ZM103.5 160.8 L106.1 160.5 L105.9 158.4 L103.7 156.5 L102.5 156.4ZM85.0 196.9 L82.5 200.1 L85.3 202.7 L86.3 197.2 L85.9 196.8ZM106.9 181.5 L110.2 186.4 L112.1 183.9 L110.6 181.3 L107.0 180.5ZM124.7 153.4 L125.1 152.1 L121.5 150.9 L120.5 151.8 L122.2 155.7ZM138.1 156.9 L132.6 156.8 L132.2 158.1 L132.4 158.9 L134.6 160.7 L137.2 161.3ZM132.7 151.3 L128.2 151.2 L129.2 155.4 L132.2 156.9 L133.2 152.3ZM109.6 168.2 L106.7 166.2 L105.9 169.5 L106.9 170.4 L109.4 170.0ZM137.8 128.4 L137.9 129.8 L142.9 128.8 L142.5 126.8 L139.7 124.8ZM127.9 114.1 L126.7 108.9 L124.5 109.5 L127.6 114.4ZM104.9 98.9 L108.1 99.0 L109.3 97.7 L109.2 96.7 L108.7 95.7 L107.1 95.3 L105.0 96.1ZM58.7 153.4 L56.7 154.0 L56.9 155.5 L58.0 156.9 L60.4 156.5 L60.3 155.5ZM86.5 175.7 L85.1 175.9 L85.0 176.5 L87.9 180.5 L90.1 178.5ZM91.9 173.9 L88.6 174.1 L87.0 175.4 L90.7 178.2 L91.2 178.3 L92.4 176.5 L92.3 174.4ZM141.4 166.3 L144.2 166.4 L145.3 163.9 L143.4 162.6ZM139.4 148.4 L137.7 148.6 L138.1 150.8 L140.6 151.8 L141.9 151.3 L141.7 150.3ZM185.1 61.2 L185.9 61.7 L187.1 61.2 L187.1 59.8 L184.9 58.7ZM132.9 176.9 L136.4 176.9 L136.7 176.2 L135.3 173.1 L132.6 174.8ZM137.4 113.1 L138.2 115.6 L139.5 116.4 L141.8 114.5 L141.8 112.9ZM90.5 209.3 L93.5 209.4 L92.9 206.3 L89.4 206.1 L88.6 207.7ZM125.5 142.9 L122.2 145.1 L122.3 146.8 L122.8 147.0 L125.7 145.5ZM83.2 180.7 L81.7 181.9 L81.5 185.2 L84.7 185.3 L86.7 183.0ZM136.5 145.5 L135.0 145.6 L134.6 148.7 L137.4 148.4 L137.4 146.0ZM137.1 110.2 L136.7 107.6 L134.1 108.9 L135.9 111.3 L136.6 111.5ZM91.8 140.4 L91.5 139.8 L87.0 139.2 L87.1 139.8 L89.4 143.0ZM150.0 157.3 L154.2 156.7 L149.5 155.6ZM131.3 142.2 L128.3 140.1 L127.5 140.3 L126.0 141.8 L130.0 143.9ZM110.5 137.4 L111.0 135.2 L110.2 134.3 L105.4 137.2 L106.3 139.0 L107.3 139.3ZM126.8 137.1 L125.6 137.2 L124.8 140.8 L125.8 141.6 L127.3 140.1ZM100.5 172.7 L97.9 174.4 L97.5 175.3 L97.6 175.9 L100.6 176.9 L101.8 176.1 L102.7 174.2 L102.4 173.8ZM168.8 141.9 L169.8 142.6 L170.6 141.5 L169.0 139.8 L168.1 140.1ZM119.6 135.4 L120.7 132.6 L118.6 131.3 L117.6 134.6ZM78.4 169.4 L82.8 172.6 L84.3 170.0 L81.8 166.9 L80.8 166.9 L78.9 168.4ZM79.7 190.3 L80.1 187.2 L77.2 188.7 L77.4 190.4ZM106.1 37.6 L106.3 37.1 L102.6 34.6 L102.4 35.9 L105.1 37.9ZM130.0 144.2 L125.9 142.1 L125.7 142.8 L126.0 145.5 L126.7 146.1 L130.0 144.7ZM68.7 171.0 L71.0 171.7 L72.0 170.4 L71.3 169.2 L69.5 168.8 L67.9 170.2ZM96.1 141.3 L97.2 139.3 L97.1 138.2 L93.2 136.2 L91.7 139.6 L92.1 140.3ZM114.6 139.3 L114.0 136.6 L113.0 135.5 L111.2 135.3 L110.7 137.4 L112.7 139.7ZM137.3 28.9 L134.7 25.2 L132.5 26.3 L132.7 27.9ZM138.5 166.5 L138.1 166.7 L136.1 171.6 L138.5 172.3 L140.6 169.0 L139.9 167.0ZM98.4 169.6 L97.1 171.9 L97.8 174.1 L100.3 172.4 L99.5 170.2ZM76.1 192.1 L76.2 191.6 L73.7 187.8 L72.5 188.8 L72.7 192.5 L74.0 193.4ZM104.5 141.6 L101.3 140.2 L100.4 140.7 L101.2 143.7 L104.1 143.2ZM94.9 199.0 L94.9 198.3 L92.3 197.8 L90.6 200.1 L92.8 200.4ZM141.4 178.8 L137.4 178.9 L137.3 179.3 L139.5 182.3 L142.1 180.0ZM187.9 91.0 L188.0 92.4 L191.1 93.6 L194.2 92.4 L194.1 91.4 L193.2 90.7ZM87.4 158.7 L86.0 158.1 L84.2 163.1 L89.3 162.1 L89.6 161.5ZM100.9 156.2 L99.2 157.6 L101.5 162.9 L103.3 160.8 L102.3 156.3 L101.9 156.1ZM92.5 39.2 L92.2 41.3 L94.8 40.7 L94.7 39.1ZM117.0 149.8 L118.0 151.7 L120.3 151.7 L121.3 150.7 L121.0 147.8 L119.5 147.8ZM108.5 160.9 L109.7 158.1 L108.9 156.6 L106.1 158.4 L106.4 160.5 L107.1 161.0ZM96.0 201.4 L94.9 199.2 L93.0 200.6 L93.7 202.4ZM116.1 154.8 L116.4 158.3 L118.2 158.0 L120.2 156.2 L117.5 154.0ZM111.8 9.8 L114.2 13.9 L114.6 13.5 L115.2 9.7ZM109.0 102.9 L113.7 102.5 L114.0 100.8 L109.6 97.9 L108.3 99.3 L108.4 101.6ZM105.6 132.8 L105.0 131.2 L103.3 130.5 L101.1 132.5 L103.4 135.7 L104.6 136.4ZM118.7 66.4 L117.0 64.4 L113.6 63.9 L113.0 66.7 L114.0 67.7 L118.8 67.2ZM70.3 193.4 L68.8 193.0 L68.8 196.5 L69.9 196.6 L70.5 195.9ZM146.8 141.9 L146.6 139.2 L145.8 138.7 L142.0 140.1 L141.8 141.5ZM83.6 109.2 L84.9 106.6 L83.9 105.7 L82.3 106.2 L81.0 108.2ZM136.9 132.0 L132.9 130.1 L131.3 130.8 L129.9 134.7 L130.4 135.2 L131.4 135.4 L136.2 134.0ZM131.9 107.4 L132.1 108.4 L133.8 108.6 L136.3 107.3 L132.6 105.5ZM98.1 205.0 L94.4 205.2 L93.2 206.3 L93.8 209.4 L94.9 210.4ZM127.7 106.6 L127.1 108.5 L131.0 110.1 L131.8 108.5 L131.6 107.5ZM102.2 60.7 L102.4 61.0 L101.2 62.9 L101.8 64.7 L105.5 65.1 L105.9 61.8 L102.9 60.6ZM97.2 175.2 L97.6 174.2 L96.9 172.0 L95.5 172.0 L95.1 174.1ZM118.0 127.1 L115.7 125.6 L113.2 126.4 L114.3 128.8 L118.3 128.5ZM131.3 60.2 L131.7 60.6 L133.3 60.8 L134.1 58.1 L131.3 57.6ZM106.1 91.8 L107.2 94.9 L108.8 95.3 L109.5 93.8 L109.4 91.8 L108.2 90.9ZM142.6 156.9 L142.3 151.6 L142.0 151.5 L140.7 152.0 L138.6 155.0 L138.8 156.2 L142.3 157.2ZM85.9 209.3 L86.1 208.6 L83.6 205.5 L83.0 205.5 L84.4 210.3ZM109.3 195.5 L110.3 198.0 L112.5 197.7 L115.8 195.7 L111.9 193.9ZM87.8 136.0 L85.3 133.9 L83.2 137.2 L86.7 138.8ZM135.7 171.8 L131.5 168.2 L131.0 169.3 L131.0 171.2 L135.3 172.4ZM121.0 132.6 L119.8 135.6 L120.4 136.5 L122.4 136.6 L123.3 135.8 L123.6 134.4 L122.5 132.6ZM58.7 153.0 L59.6 150.7 L59.0 150.1 L57.9 150.4 L57.0 151.1 L56.4 152.1 L56.2 153.2 L56.5 153.7ZM135.7 67.9 L135.7 68.9 L139.3 68.9 L139.3 67.1 L136.8 66.6ZM85.8 196.6 L86.2 195.3 L85.0 191.8 L83.4 191.2 L82.1 192.2 L85.1 196.6ZM75.0 175.6 L76.4 176.4 L78.5 175.9 L77.2 174.2 L74.9 174.1ZM107.7 174.3 L106.4 172.9 L103.4 174.2 L106.5 176.6ZM143.8 136.0 L142.5 136.3 L142.1 139.5 L145.5 138.1 L145.4 137.5ZM84.5 175.7 L83.2 174.7 L79.6 176.4 L79.4 178.6 L81.7 181.4 L83.0 180.3ZM106.1 139.1 L105.2 137.2 L104.6 136.7 L101.9 138.4 L101.4 140.0 L104.6 141.3ZM103.3 135.9 L98.5 136.7 L98.4 137.0 L101.8 138.2 L104.4 136.6ZM74.0 187.4 L77.0 188.5 L80.1 186.9 L80.5 186.1 L79.6 185.8 L74.0 187.2ZM121.3 104.8 L118.4 107.4 L119.4 108.7 L122.5 108.0 L122.4 104.8ZM107.0 105.6 L108.7 103.0 L108.2 101.9 L105.4 102.1ZM115.0 176.5 L114.0 179.0 L115.5 180.9 L116.9 181.4 L118.3 180.0 L116.9 177.4ZM99.2 190.0 L100.2 188.9 L93.9 185.0 L92.9 186.2 L92.7 186.6 L96.9 189.9ZM110.1 186.7 L106.8 181.7 L105.8 184.2 L108.4 187.9ZM142.5 158.4 L142.0 160.3 L143.3 162.2 L144.5 159.5ZM118.3 145.9 L118.5 144.4 L116.7 143.3 L115.7 144.8 L116.0 145.8ZM93.5 202.8 L91.8 203.2 L93.0 206.1 L94.2 205.0ZM94.2 184.2 L99.0 182.5 L98.5 181.5 L97.5 180.9 L93.4 181.5ZM116.3 122.0 L116.5 120.4 L112.9 119.2 L110.5 122.2 L111.3 123.2ZM130.1 145.0 L126.8 146.3 L127.1 150.2 L130.3 145.5ZM97.2 149.7 L96.6 148.6 L92.6 148.0 L91.9 148.9 L91.6 150.5 L96.7 152.0ZM116.6 199.6 L119.5 196.7 L116.7 195.8 L116.1 195.8ZM137.8 166.7 L132.6 166.8 L131.5 168.0 L135.9 171.6ZM160.5 61.3 L157.6 62.0 L157.6 62.2 L161.1 64.2 L161.3 61.7ZM107.3 179.6 L107.1 180.2 L110.6 181.0 L112.3 179.4 L110.4 176.6ZM108.0 119.0 L104.5 118.9 L104.9 121.4 L107.6 122.7 L109.4 122.0ZM73.7 179.3 L73.4 178.9 L70.8 179.3 L71.1 180.5 L73.0 180.8ZM113.4 102.8 L109.1 103.1 L107.5 105.8 L108.8 107.1 L110.4 107.3 L111.4 106.8ZM114.6 108.9 L111.5 107.2 L110.8 107.6 L112.2 111.1 L113.3 111.2ZM91.5 195.7 L92.4 197.6 L95.0 198.1 L95.3 197.7 L95.6 195.7 L92.1 194.5ZM76.5 140.3 L74.9 141.3 L75.0 141.5 L77.1 142.1ZM106.2 151.6 L111.0 149.2 L111.0 149.2 L110.6 148.8 L105.7 148.5ZM99.2 68.9 L100.3 68.6 L100.6 65.9 L99.1 65.8 L98.7 66.4 L98.6 67.0ZM161.8 123.4 L160.1 126.6 L163.4 129.3 L164.0 128.9 L163.9 125.7 L163.1 124.3ZM145.8 150.0 L148.1 150.5 L148.7 148.5 L147.5 145.2 L146.2 145.7 L145.2 147.3ZM100.2 182.9 L102.6 181.0 L100.7 177.7 L99.0 181.3 L99.6 182.5ZM99.4 197.6 L97.7 198.4 L98.9 201.7 L99.7 200.9ZM117.0 195.6 L119.5 196.4 L120.2 195.6 L119.2 193.1ZM131.0 171.5 L130.6 172.6 L132.5 174.5 L135.1 172.8ZM103.8 100.5 L105.1 101.5 L108.0 101.4 L107.9 99.6 L104.8 99.5ZM116.3 140.1 L117.3 139.6 L116.8 135.6 L114.3 136.7 L114.9 139.3ZM152.1 126.4 L150.7 122.7 L147.3 124.6 L148.0 125.9 L149.5 126.5ZM124.2 99.6 L126.1 99.6 L127.7 96.4 L126.7 96.2 L124.8 96.8ZM112.8 188.4 L115.4 185.3 L112.3 184.1 L110.3 186.7ZM89.9 151.8 L87.6 150.1 L86.1 152.9 L87.2 153.5 L89.4 152.4ZM91.6 139.5 L93.1 136.0 L92.2 134.1 L90.2 134.6 L88.2 136.0 L87.2 138.8ZM77.6 183.7 L79.7 185.4 L80.6 185.7 L81.1 185.2 L81.3 182.1 L77.0 181.8ZM126.5 170.2 L126.9 172.1 L130.3 172.6 L130.7 171.3 L130.7 169.5ZM127.0 179.8 L126.3 183.3 L126.6 183.5 L127.7 183.4 L130.8 179.3ZM110.3 107.7 L108.9 107.6 L108.0 110.7 L108.4 111.3 L110.7 111.8 L111.7 111.3ZM89.4 192.1 L89.4 191.8 L87.0 190.3 L85.2 191.7 L86.4 195.1ZM70.5 174.6 L70.0 176.1 L70.4 177.5 L72.2 176.5 L71.2 174.4ZM140.6 144.8 L141.1 143.7 L141.0 142.5 L137.7 142.2 L136.7 145.3 L137.5 145.8ZM80.6 140.6 L81.4 137.9 L79.2 136.5 L76.9 139.5ZM118.5 12.9 L119.2 13.3 L120.3 10.0 L119.0 9.5 L117.4 9.6ZM76.7 139.1 L78.9 136.3 L78.0 134.9 L75.4 135.3 L75.0 137.6ZM124.1 92.5 L124.9 91.0 L120.9 90.8 L120.2 92.3 L123.2 93.0ZM97.5 128.6 L97.8 130.2 L100.3 132.3 L100.8 132.2 L102.9 130.4 L99.9 127.3ZM121.7 179.7 L122.8 182.8 L126.0 183.2 L126.6 179.9 L121.9 179.2ZM91.3 150.5 L91.6 148.9 L89.0 147.6 L87.7 149.9 L90.1 151.5ZM86.4 197.3 L85.5 203.2 L88.6 203.2 L89.4 202.1 L89.6 200.4ZM92.2 172.4 L90.2 169.5 L88.9 169.9 L88.6 173.7 L91.9 173.5ZM116.5 122.3 L115.8 125.4 L118.0 126.8 L119.3 124.2ZM134.6 145.2 L134.1 142.3 L132.5 141.7 L131.5 142.2 L130.2 144.2 L130.2 144.8 L130.8 145.6ZM115.9 192.1 L118.0 190.9 L118.5 189.2 L118.2 188.3 L113.7 190.0 L113.6 190.7ZM187.4 97.4 L186.2 95.0 L185.7 95.3 L186.9 97.8ZM138.1 151.0 L135.7 152.6 L138.5 154.8 L140.4 152.0ZM113.2 172.2 L115.1 173.9 L117.2 172.4 L118.3 170.8 L114.9 168.0 L113.6 169.3ZM109.9 169.7 L109.6 170.2 L110.6 172.0 L113.0 172.2 L113.4 169.3ZM87.5 146.6 L87.9 144.9 L86.4 144.0 L84.1 144.7ZM77.1 169.5 L74.9 171.2 L74.5 173.2 L74.7 173.6 L77.2 173.7 L78.2 169.7ZM82.7 172.8 L78.5 169.9 L77.4 173.9 L79.4 176.0 L83.0 174.3ZM143.0 156.7 L146.8 155.8 L147.2 155.3 L142.6 151.8ZM148.1 150.9 L145.7 150.4 L143.0 151.6 L147.5 155.0 L148.2 154.7 L148.7 152.1ZM134.5 57.2 L135.0 55.7 L131.9 52.9 L131.6 53.0 L130.9 54.4 L131.4 56.7ZM105.8 27.2 L106.6 28.2 L110.4 27.8 L110.6 27.6 L107.2 26.3 L106.0 26.6ZM88.7 165.0 L84.8 165.7 L85.8 168.8 L87.1 168.7Z" fill="#63999a"/>
<path d="M88.3 207.6 L89.2 206.0 L88.5 203.5 L85.5 203.5 L83.9 205.4 L86.3 208.4ZM101.3 54.8 L100.8 55.1 L99.5 57.1 L100.0 57.7 L102.7 54.9ZM113.5 52.6 L111.7 55.5 L112.8 56.1 L114.5 54.1 L114.1 52.2ZM140.1 97.1 L138.1 96.3 L136.2 99.3 L139.2 100.8 L140.7 99.3ZM148.5 92.5 L149.3 92.2 L149.4 91.1 L147.8 91.3ZM109.6 19.1 L109.4 15.0 L108.6 14.4 L105.3 17.6 L106.7 20.7 L108.2 21.0ZM113.7 19.3 L114.1 19.8 L116.4 19.7 L116.7 18.6 L116.4 17.0 L113.9 15.8ZM110.8 181.1 L112.2 183.3 L115.3 180.9 L113.8 179.1 L112.5 179.5ZM151.6 107.2 L152.1 106.0 L150.7 103.4 L148.4 105.8 L148.7 107.7ZM130.7 93.3 L130.5 91.2 L128.2 91.7 L128.0 95.8 L128.2 96.0ZM124.0 72.6 L124.0 69.9 L121.8 70.5 L122.3 72.2ZM110.6 172.2 L109.9 174.2 L110.8 175.6 L114.6 175.4 L115.0 174.0 L113.1 172.4ZM92.5 14.3 L90.2 17.8 L91.1 18.9 L91.7 18.7 L95.7 15.6 L95.1 14.1ZM80.8 14.1 L81.7 12.2 L81.6 11.6 L78.8 9.5 L77.6 13.6 L78.7 14.6ZM96.9 77.3 L97.8 80.7 L100.7 80.0 L100.8 78.9 L99.8 76.9ZM127.0 29.2 L127.6 24.9 L124.4 25.9 L124.2 29.2ZM86.7 139.2 L81.2 143.0 L81.2 143.3 L82.8 144.0 L86.1 141.2 L86.7 139.8ZM102.1 16.9 L101.6 15.0 L100.2 14.4 L97.1 16.1 L98.3 18.2 L100.2 18.7 L100.8 18.4ZM116.3 80.1 L116.9 78.1 L114.2 78.5 L113.7 79.0ZM88.8 169.6 L90.1 169.2 L92.2 167.1 L89.5 164.5 L89.0 164.9 L87.4 168.8ZM106.0 114.6 L107.0 114.0 L107.8 111.5 L107.6 111.1 L106.8 111.1 L102.9 114.1 L102.7 114.9ZM136.8 107.1 L138.5 105.2 L135.1 102.7 L133.0 105.2ZM80.0 127.8 L78.6 129.1 L82.5 130.5 L83.3 130.0ZM141.8 176.3 L142.2 172.8 L139.2 173.7 L139.0 174.8ZM131.7 46.9 L132.7 45.0 L131.8 44.7 L130.7 45.0 L130.2 45.8ZM79.0 179.1 L77.0 180.5 L77.0 181.2 L81.0 181.4ZM114.0 30.1 L115.0 30.1 L112.3 26.5 L111.5 27.5ZM87.1 107.4 L87.9 110.7 L89.4 111.8 L92.1 110.7 L92.7 110.0 L92.3 108.7 L89.9 107.2ZM100.8 123.0 L101.3 123.6 L104.3 121.4 L103.8 118.8 L102.4 117.1ZM139.2 72.3 L142.0 72.5 L141.8 70.9 L140.4 70.5ZM131.6 97.3 L132.9 95.1 L131.1 93.9 L128.8 96.4ZM129.2 85.1 L125.4 84.2 L125.4 84.2 L125.6 86.2ZM107.8 55.0 L110.5 51.6 L109.8 49.8 L109.8 49.9ZM98.2 120.3 L96.0 121.1 L96.9 122.9 L100.1 122.9ZM91.3 19.6 L91.4 21.1 L96.4 22.1 L96.0 20.2 L91.9 19.4ZM156.9 156.3 L160.9 155.8 L160.2 153.0 L156.9 151.5 L155.9 153.8 L155.7 155.8ZM126.1 89.6 L129.3 86.1 L129.3 85.9 L125.6 87.1 L125.2 87.8ZM125.7 60.4 L124.7 59.4 L123.7 59.4 L123.2 61.8 L125.0 61.7 L125.9 60.9ZM134.4 88.8 L133.1 90.3 L136.0 93.5 L137.0 93.7 L138.0 91.9 L137.5 87.7ZM128.5 48.2 L128.6 46.5 L126.8 45.8 L126.0 47.2 L126.3 48.1ZM78.7 178.4 L78.9 176.5 L76.7 177.0 L76.1 179.3 L76.7 179.8ZM122.6 49.4 L121.1 50.9 L121.0 52.7 L122.2 53.9 L122.7 53.6 L124.8 51.2 L124.8 50.6ZM142.6 112.3 L147.6 114.2 L148.2 112.8 L147.1 109.7 L146.2 109.7ZM89.3 28.8 L88.9 27.9 L86.0 25.7 L85.1 25.7 L84.5 26.7 L85.4 29.4 L86.0 29.3 L87.0 30.2ZM133.5 138.4 L131.3 135.7 L130.5 135.5 L130.3 138.0 L132.3 141.4ZM121.8 83.0 L122.1 82.7 L121.8 79.9 L119.9 80.4 L119.5 81.8ZM84.8 14.7 L82.3 12.9 L81.6 14.3 L82.9 15.8ZM138.6 29.4 L138.4 27.4 L136.8 24.5 L135.7 24.1 L135.3 24.7ZM152.6 119.2 L151.0 121.8 L151.3 122.2 L154.0 121.0 L153.5 119.3ZM141.8 92.2 L138.6 92.3 L137.6 94.0 L138.3 95.6 L140.5 96.4 L142.4 92.5ZM116.7 49.5 L118.2 48.7 L118.8 44.6 L117.7 44.4 L115.9 45.0ZM129.4 46.5 L129.3 48.1 L131.8 49.3 L131.5 47.9ZM121.9 13.8 L123.6 12.5 L123.3 11.5 L121.9 10.0 L121.1 10.2 L119.9 13.6ZM98.7 107.7 L99.5 108.3 L101.7 108.9 L103.2 107.7 L103.7 106.7 L103.0 105.7 L99.1 103.9 L98.4 104.1ZM139.6 58.8 L141.4 58.9 L142.1 56.4 L140.4 55.9ZM131.1 41.2 L130.3 40.8 L129.0 42.2 L130.6 44.1 L131.4 43.8ZM120.0 30.0 L119.5 29.7 L118.1 30.0 L117.2 31.0 L118.0 34.0 L119.5 33.7 L120.6 32.4ZM118.2 127.0 L118.6 128.6 L122.5 127.8 L122.9 126.4 L122.1 124.6 L120.8 123.8 L119.5 124.3ZM111.4 123.5 L112.0 125.7 L113.0 126.2 L115.6 125.3 L116.1 122.5ZM126.0 57.1 L125.3 58.8 L126.1 59.6 L127.6 57.6 L127.0 56.6ZM127.0 33.1 L128.4 34.1 L129.1 32.5 L128.6 31.1ZM142.2 88.8 L142.1 91.6 L143.0 92.1 L144.2 92.1 L144.4 88.7ZM92.6 18.8 L96.3 19.5 L97.7 18.3 L96.6 16.3 L96.1 16.1ZM146.5 82.0 L145.5 80.3 L141.3 84.0 L144.0 84.7ZM73.0 116.4 L73.4 116.0 L73.0 112.3 L72.1 111.9 L69.7 115.8ZM90.1 104.5 L90.4 106.7 L92.3 107.8 L93.5 103.6ZM83.9 27.1 L81.6 28.0 L82.1 29.2 L83.2 29.6 L84.7 29.4ZM127.2 30.0 L124.6 30.1 L124.7 33.0 L126.0 32.9 L127.8 30.5ZM98.1 99.2 L97.2 103.0 L98.2 103.5 L98.9 103.2 L101.0 100.7 L99.4 99.2ZM143.2 103.4 L144.1 102.1 L141.1 100.0 L139.7 101.4 L139.9 104.8 L140.2 104.9ZM80.9 14.9 L79.1 15.4 L79.4 17.4 L80.8 17.7 L82.0 17.3 L82.3 16.5ZM99.4 69.7 L99.9 70.9 L101.3 71.6 L101.8 70.3 L101.2 69.4 L100.7 69.3ZM142.2 114.5 L144.3 118.0 L145.3 118.7 L147.5 115.0 L142.2 113.0ZM102.2 165.8 L102.2 164.9 L101.2 163.8 L99.5 164.5 L97.9 168.9 L99.2 169.7ZM117.1 20.0 L117.8 20.9 L120.9 19.2 L120.0 18.4 L117.4 18.9ZM107.6 49.7 L105.8 50.8 L105.4 53.7 L107.2 54.5 L108.9 49.9ZM113.1 49.5 L112.8 47.2 L110.7 48.4 L110.5 49.3ZM113.1 90.5 L112.4 90.1 L109.7 91.8 L109.8 93.7 L113.2 93.2 L113.9 92.2ZM101.8 49.0 L101.7 50.9 L104.5 53.6 L104.9 50.6 L103.6 48.7ZM115.7 146.8 L116.9 149.6 L119.3 147.6 L118.4 146.2 L115.9 146.0ZM131.3 90.9 L131.5 93.3 L133.3 94.5 L135.2 93.6 L132.5 90.8ZM111.0 27.0 L112.0 25.7 L112.0 24.5 L109.0 22.5 L107.7 25.6ZM130.1 83.3 L129.0 81.6 L127.7 81.2 L126.2 83.4 L129.8 84.4ZM160.9 152.9 L161.6 155.8 L162.8 155.7 L165.5 154.0 L164.1 152.6 L161.3 152.7ZM87.2 110.6 L86.5 107.3 L85.5 106.9 L84.1 109.6 L84.5 110.8ZM100.9 124.4 L100.2 123.6 L96.9 123.5 L95.6 125.4 L97.2 128.1 L99.7 126.7ZM107.9 69.6 L106.1 68.0 L105.3 71.0 L105.6 71.9 L107.9 71.9ZM123.3 55.5 L125.7 56.4 L126.8 55.6 L126.5 55.2 L122.7 54.4ZM85.0 127.2 L88.0 122.6 L86.6 119.3 L85.2 119.4 L84.7 120.3 L83.4 124.9ZM138.5 91.7 L141.6 91.5 L141.7 88.6 L138.5 86.4 L138.0 87.3ZM92.8 108.5 L93.4 109.7 L98.0 107.6 L97.8 104.1 L96.6 103.5 L94.4 103.3ZM77.5 108.4 L76.0 109.6 L75.2 111.0 L79.4 113.1 L79.8 113.1 L78.0 108.6ZM83.5 109.8 L81.4 109.1 L81.6 112.9 L83.9 111.1ZM132.8 49.9 L134.5 49.3 L133.9 45.0 L133.7 45.1 L132.3 47.7ZM119.3 68.3 L118.9 67.7 L114.3 68.2 L115.2 70.7 L117.1 71.0ZM145.0 147.2 L146.0 145.7 L141.3 143.9 L141.1 144.6 L142.7 147.5ZM114.7 82.5 L115.7 80.8 L113.6 80.0ZM103.6 93.0 L104.4 91.3 L103.6 91.1 L103.3 92.1 L101.5 93.0 L101.9 93.2ZM112.1 23.7 L113.5 20.2 L113.1 19.7 L110.0 19.6 L108.7 21.2 L109.1 21.7ZM89.1 17.0 L89.6 17.3 L91.8 13.9 L91.4 12.8 L89.3 12.8 L87.5 14.6ZM74.8 135.2 L74.0 134.6 L72.1 135.2 L72.0 137.0 L73.1 138.3 L74.4 137.5ZM103.3 22.2 L100.8 19.1 L100.5 19.2 L99.7 23.8ZM82.1 202.8 L82.9 205.3 L83.6 205.3 L85.3 203.3 L82.3 200.2ZM146.1 57.9 L148.4 56.7 L146.6 53.1 L145.6 53.9 L144.4 55.8ZM118.7 57.7 L120.2 59.8 L121.1 58.5 L120.1 57.2ZM99.8 47.5 L100.0 45.7 L99.5 44.8 L98.1 44.7 L96.6 46.2 L98.8 47.8ZM121.0 44.2 L125.6 43.2 L126.0 42.5 L125.8 42.2 L123.5 41.5 L120.6 44.0ZM144.8 108.1 L143.3 104.3 L140.8 105.5 L141.3 106.7ZM87.3 153.7 L86.4 157.9 L87.5 158.5 L90.5 155.9 L89.4 152.7ZM178.8 86.4 L180.8 87.6 L180.9 87.5 L180.2 85.3 L179.0 84.7ZM110.1 114.7 L110.4 112.3 L108.5 111.9 L107.7 114.1ZM169.6 52.4 L169.0 51.4 L168.1 51.1 L167.1 52.1 L168.3 53.3ZM211.8 85.8 L213.4 86.2 L214.2 85.4 L211.3 83.3 L210.8 84.0 L211.0 85.0ZM149.2 152.3 L148.8 154.7 L149.1 154.9 L154.6 156.2 L155.1 155.8 L155.2 153.9 L149.7 152.2ZM122.5 87.7 L121.1 88.9 L121.1 90.3 L125.1 90.4 L125.5 90.1 L124.5 88.1ZM101.8 115.2 L102.1 113.9 L101.5 109.5 L99.6 109.0 L98.2 113.1 L99.5 115.4ZM127.0 17.8 L130.7 17.9 L130.7 16.6 L130.3 15.9 L127.6 16.0ZM92.8 185.7 L93.6 184.7 L92.7 181.7 L88.8 183.1ZM113.0 84.0 L113.9 82.9 L112.8 80.3 L111.0 81.0ZM132.6 75.5 L133.3 75.7 L135.1 75.1 L135.7 72.7 L134.9 72.0ZM119.5 61.7 L121.9 63.1 L122.4 62.3 L122.2 61.8 L120.3 60.7ZM117.3 83.3 L118.5 82.0 L116.6 80.9 L115.8 82.6ZM134.7 102.4 L134.4 100.3 L133.1 99.9 L129.5 102.7 L132.5 105.0ZM120.6 56.8 L121.7 58.3 L122.9 58.4 L122.8 55.9 L122.1 54.8ZM117.0 35.1 L117.2 34.4 L116.5 31.9 L113.0 34.2ZM123.6 58.6 L124.7 58.6 L125.3 57.0 L123.4 56.3ZM103.0 95.5 L104.3 95.6 L103.6 93.6 L102.4 93.8ZM112.6 67.2 L112.0 67.7 L111.4 68.7 L111.4 72.3 L112.3 72.9 L114.6 70.8 L113.6 68.1ZM117.5 71.5 L117.7 72.2 L120.1 74.1 L121.6 72.4 L121.0 70.3 L119.6 69.1ZM102.4 70.0 L104.7 70.6 L105.5 67.0 L101.9 69.2ZM125.3 137.2 L123.4 136.1 L122.5 136.8 L122.9 140.3 L124.5 140.7ZM80.3 27.4 L80.0 25.7 L78.1 24.2 L77.2 24.5 L75.6 26.3 L78.0 27.4ZM94.3 160.5 L92.1 160.1 L90.0 161.5 L95.3 163.8 L95.3 162.3ZM88.0 116.2 L87.6 118.2 L91.5 117.0 L93.1 114.7 L92.0 111.5 L89.6 112.4ZM80.5 113.1 L81.0 113.2 L80.8 108.8 L80.5 108.5 L78.6 108.6ZM143.9 95.4 L144.5 93.6 L144.1 92.8 L143.2 92.8 L141.5 96.2 L142.7 96.2ZM117.1 80.2 L118.8 81.3 L119.1 80.2 L118.0 77.7 L117.7 77.9ZM105.6 72.7 L105.8 76.0 L106.8 76.9 L107.6 76.8 L108.0 72.8ZM195.0 67.4 L193.1 66.9 L192.3 68.4 L195.6 69.7ZM108.5 13.7 L110.5 9.9 L104.7 10.7 L104.8 11.0ZM135.8 36.4 L137.3 34.6 L137.5 32.7 L136.4 32.8 L133.5 35.8ZM107.3 114.6 L106.5 115.0 L108.4 117.4 L109.5 116.7 L109.7 115.4ZM96.6 190.0 L92.6 186.9 L91.8 187.9 L91.7 188.6 L94.0 191.1ZM125.5 91.0 L124.7 92.6 L126.9 95.6 L127.2 95.6 L127.5 91.5 L126.0 90.5ZM81.6 22.0 L78.6 24.0 L80.3 25.3 L83.1 23.3 L83.0 22.5ZM115.6 23.6 L117.4 22.1 L117.3 21.6 L116.5 20.5 L114.2 20.6 L112.8 24.3ZM170.2 154.6 L170.9 154.2 L171.3 152.9 L170.8 152.0 L168.2 151.3 L167.0 153.6ZM120.8 50.2 L122.0 48.9 L121.9 47.1 L120.6 45.1 L119.8 44.6 L119.1 48.8ZM151.6 147.5 L151.4 144.7 L148.2 144.4 L147.9 145.0 L149.1 148.1ZM145.1 88.6 L144.9 91.5 L147.0 90.9 L146.8 89.3 L145.6 88.1ZM132.6 99.5 L131.6 97.9 L128.9 97.0 L129.1 102.2ZM121.3 84.8 L118.8 86.3 L118.8 87.2 L120.7 88.2 L122.0 87.2ZM113.2 56.6 L114.0 57.0 L116.2 55.3 L115.0 54.5ZM96.2 128.0 L95.0 125.7 L91.7 125.0 L91.3 126.8 L93.2 128.9ZM147.1 131.1 L145.6 129.6 L143.4 129.3 L142.9 132.0 L144.6 133.2 L146.5 133.0ZM182.0 111.6 L181.8 110.4 L181.2 110.2 L179.9 110.7 L179.6 111.7ZM140.5 84.5 L139.1 84.6 L138.7 86.0 L142.0 88.2 L144.6 88.1 L145.1 87.6 L143.9 85.4ZM106.0 115.3 L102.4 115.7 L104.4 118.3 L107.9 118.4 L108.0 117.9ZM123.7 29.7 L120.8 30.0 L121.3 32.2 L123.9 33.1ZM102.1 155.9 L103.8 156.3 L107.7 154.5 L106.2 151.8 L103.3 152.5ZM127.3 114.7 L124.1 109.6 L123.6 109.5 L122.5 112.2 L124.5 116.1 L126.2 116.9ZM127.8 50.1 L128.2 48.8 L126.2 48.7 L125.6 50.1ZM144.8 133.8 L144.2 135.6 L145.6 136.9 L147.0 134.4 L146.5 133.5ZM116.4 31.0 L114.0 30.8 L112.5 32.3 L112.7 33.5ZM132.5 122.7 L132.2 122.7 L129.7 125.9 L133.3 127.0 L134.0 126.1 L134.1 125.0ZM132.5 90.1 L133.9 88.5 L131.2 85.0 L130.6 84.6 L130.0 85.5 L130.0 86.3 L131.4 90.2ZM124.9 86.6 L124.5 84.2 L122.8 83.4 L122.2 83.7 L122.0 84.2 L122.8 87.0 L124.5 87.3ZM119.7 17.6 L119.3 15.3 L117.2 17.0 L117.5 18.1ZM145.7 97.3 L144.2 96.2 L143.4 96.7 L144.7 98.4ZM76.6 131.2 L74.3 132.8 L74.5 134.0 L75.3 134.6 L77.9 134.2 L78.1 133.7 L77.1 131.3ZM110.0 116.6 L112.7 118.2 L112.9 117.5 L111.9 115.6 L110.5 115.2ZM87.9 104.6 L86.7 106.6 L89.6 106.6 L89.3 104.5ZM116.3 50.9 L118.3 52.7 L120.3 52.5 L120.4 51.0 L118.6 49.4 L116.6 50.5ZM76.5 140.0 L76.7 139.5 L74.7 137.8 L73.2 138.8 L74.8 141.1ZM96.4 15.4 L96.8 15.6 L99.7 14.0 L98.4 11.8 L97.8 11.6 L96.2 12.4 L95.7 13.7ZM129.1 51.5 L131.3 52.3 L131.7 52.1 L132.2 50.5 L128.9 48.8 L128.5 50.4ZM179.3 95.1 L179.5 93.9 L178.0 91.7 L176.7 93.0ZM135.8 99.8 L135.1 100.3 L135.4 102.3 L139.1 104.8 L138.9 101.4ZM115.6 74.5 L117.0 72.3 L116.8 71.8 L115.1 71.4 L112.8 73.4 L113.8 74.4ZM119.8 26.1 L119.3 25.6 L117.5 26.2 L117.0 27.4 L118.1 29.3 L119.2 29.0ZM141.4 99.2 L144.1 101.2 L144.3 99.1 L142.7 97.0 L140.9 97.1ZM106.0 66.3 L106.2 67.2 L108.4 69.1 L110.9 68.4 L111.3 67.6ZM88.4 173.7 L88.6 169.9 L87.1 169.0 L85.7 169.1 L84.5 170.1 L83.0 172.8 L83.4 174.3 L84.8 175.5 L86.6 175.2ZM101.4 65.7 L101.1 68.5 L101.4 68.6 L105.3 66.3 L105.4 66.0 L105.3 65.7 L101.8 65.4ZM95.4 177.6 L92.8 177.0 L91.8 178.6 L93.1 180.7ZM102.8 113.3 L106.1 110.7 L103.4 108.3 L102.2 109.4ZM133.1 116.0 L134.5 118.7 L134.8 119.0 L135.8 118.0 L135.5 114.8 L133.3 114.9ZM117.7 64.1 L119.0 65.7 L121.3 63.7 L118.8 62.2ZM110.8 29.8 L112.2 31.5 L113.2 30.5 L111.1 28.4ZM91.7 117.8 L89.6 118.6 L93.8 120.6 L94.6 120.2 L94.5 119.3ZM93.3 102.8 L90.3 102.0 L89.8 102.3 L89.9 103.7ZM140.8 62.0 L142.5 61.8 L141.5 59.9 L139.1 59.8ZM164.8 103.5 L165.8 101.9 L164.8 100.6 L163.3 102.0 L163.3 102.5ZM93.9 24.7 L96.0 25.1 L97.9 24.6 L96.6 23.0 L92.0 22.0ZM91.4 124.3 L93.3 121.2 L88.5 118.9 L87.3 119.0 L88.7 122.4ZM206.8 85.6 L207.7 86.4 L209.8 85.0 L209.6 84.3 L207.4 83.4 L206.7 83.7ZM95.3 164.1 L89.8 161.7 L89.7 164.2 L92.6 166.9 L93.7 167.0ZM109.6 49.1 L109.9 48.2 L108.8 46.8 L107.8 47.1 L108.0 48.9ZM103.5 169.3 L103.8 169.5 L105.6 169.5 L106.4 166.0 L105.6 165.2 L102.4 164.9 L102.4 165.8ZM106.9 126.6 L108.9 127.9 L109.9 127.7 L111.7 125.7 L111.1 123.5 L110.1 122.3 L107.7 123.1 L106.8 125.2ZM104.2 93.2 L105.1 95.4 L106.6 94.8 L105.6 92.0 L104.9 91.7ZM114.6 57.7 L115.6 60.0 L116.6 59.6 L117.4 58.2ZM77.8 130.8 L78.8 133.3 L81.0 132.2 L82.0 131.1 L78.3 129.8ZM87.5 111.3 L84.4 111.7 L87.5 115.3 L88.8 112.3ZM105.0 91.0 L105.9 91.3 L107.9 90.5 L107.7 86.6 L107.5 86.4 L105.7 87.8ZM101.5 187.0 L105.6 184.1 L106.7 181.5 L106.7 180.5 L103.0 181.2 L100.3 183.2ZM102.0 116.3 L101.8 115.9 L99.7 116.0 L98.6 119.9 L100.2 122.1ZM138.2 85.2 L138.5 84.3 L138.2 83.6 L134.6 81.5 L131.0 83.4 L130.9 84.1 L131.5 84.4ZM108.2 86.0 L111.2 86.3 L112.4 85.2 L112.5 84.9 L110.3 81.5 L107.1 83.8 L107.8 85.7ZM203.9 79.1 L203.7 78.5 L202.8 78.2 L201.7 80.2 L203.0 80.6ZM127.6 56.0 L128.5 57.4 L130.5 56.9 L130.1 55.0ZM118.4 85.5 L121.2 83.9 L121.2 83.6 L119.2 82.6 L117.8 83.9 L118.0 84.9ZM110.9 55.3 L112.6 52.5 L111.0 52.1 L108.7 55.4ZM120.4 161.6 L118.2 158.2 L116.4 158.5 L116.0 158.9 L116.3 161.4 L119.5 162.7ZM105.9 132.9 L104.8 136.6 L105.3 137.0 L110.1 134.1 L110.0 133.4ZM121.7 59.0 L120.9 60.1 L122.3 60.9 L122.8 59.1ZM83.5 22.4 L83.6 23.2 L85.1 25.1 L86.0 25.1 L87.6 22.6 L84.2 21.5ZM106.9 106.1 L104.2 106.9 L103.8 107.8 L106.7 110.5 L107.5 110.5 L108.4 107.4ZM155.4 153.3 L156.0 151.4 L154.1 149.7 L150.5 151.8ZM117.8 36.6 L120.6 38.0 L122.1 36.2 L119.7 34.5 L118.0 34.8 L117.7 35.6ZM145.3 93.2 L147.3 94.0 L147.8 93.0 L147.1 91.7 L144.9 92.4ZM111.9 73.8 L111.0 72.9 L108.9 72.9 L108.5 76.8 L110.3 76.0ZM69.0 122.9 L70.0 123.1 L72.4 120.7 L72.2 120.1 L68.4 119.9 L67.5 120.3 L67.8 121.3ZM113.6 63.4 L117.1 63.9 L118.3 61.9 L116.8 60.1 L115.5 60.5ZM98.7 115.4 L97.5 113.4 L93.2 110.4 L92.7 111.1 L93.8 114.5 L97.0 115.9ZM200.5 84.3 L200.9 84.4 L202.2 81.9 L200.7 81.4 L199.7 81.6ZM145.1 79.6 L139.8 81.0 L139.0 83.3 L139.2 83.9 L140.4 83.8ZM150.4 121.1 L151.9 118.7 L151.3 118.2 L149.2 119.9ZM92.5 11.3 L92.1 12.3 L92.6 13.5 L95.1 13.3 L95.4 12.2 L93.7 10.8ZM76.4 181.5 L76.3 180.5 L75.5 179.7 L74.1 179.6 L73.5 181.0 L73.8 182.5ZM117.2 77.3 L115.6 75.3 L114.0 75.2 L114.3 77.7ZM167.2 145.7 L169.2 143.6 L168.1 142.9 L165.1 143.1 L164.0 145.2ZM89.0 27.0 L90.7 21.5 L90.7 21.5 L88.3 22.8 L86.7 25.2ZM170.2 75.5 L167.9 74.7 L167.5 75.2 L170.7 77.0ZM149.3 87.6 L148.5 86.3 L146.4 87.7 L147.3 88.7 L148.8 88.6ZM84.1 19.9 L82.3 18.1 L81.3 18.4 L81.8 21.5 L83.1 21.9 L83.8 21.0ZM102.9 100.0 L103.2 100.1 L104.3 99.0 L104.3 96.4 L102.8 96.3 L102.1 96.7ZM113.1 93.4 L109.8 93.9 L109.0 95.5 L109.5 96.5 L113.1 95.4ZM114.8 51.7 L115.3 53.9 L116.9 54.9 L117.8 53.2 L115.7 51.4ZM77.5 22.4 L76.2 20.8 L74.8 20.8 L77.1 23.8 L77.5 23.6ZM155.6 55.3 L157.9 57.4 L159.7 56.7 L159.7 56.4 L155.8 54.6ZM103.8 54.0 L101.2 51.5 L100.6 51.6 L101.4 54.1 L103.3 54.3ZM147.7 89.5 L147.8 90.5 L149.2 90.3 L148.8 89.4ZM116.6 88.3 L118.1 87.3 L118.1 86.2 L117.4 85.5 L114.9 86.3 L116.3 88.2ZM73.9 193.6 L72.6 192.7 L70.5 193.4 L70.7 195.8 L74.1 196.3 L74.3 195.9ZM99.9 98.7 L101.7 100.2 L102.1 100.1 L101.4 96.8 L100.6 96.7ZM125.3 51.2 L126.8 52.4 L128.5 51.7 L127.9 50.7 L125.4 50.6ZM102.7 60.1 L103.1 55.3 L100.3 58.2 L101.8 60.2ZM85.2 129.6 L89.6 130.2 L90.3 127.5 L85.3 129.0ZM126.7 60.2 L127.0 60.7 L128.7 59.9 L128.1 58.3ZM107.3 123.0 L104.7 121.8 L101.5 124.3 L102.0 124.6 L106.5 125.0ZM129.5 87.1 L126.7 90.1 L127.9 90.8 L130.6 90.3ZM117.8 57.6 L118.0 57.4 L117.0 55.6 L114.8 57.1ZM119.4 14.4 L118.2 13.3 L114.9 13.8 L114.0 15.2 L116.7 16.5ZM101.9 87.1 L105.2 87.3 L107.0 85.9 L106.3 83.9 L105.7 83.4 L103.8 83.1 L101.3 86.4ZM78.9 18.4 L79.3 20.4 L80.9 21.0 L80.6 18.5 L79.1 18.2ZM95.3 119.2 L95.3 120.3 L95.7 120.5 L98.0 119.7 L99.0 116.1 L97.2 116.6ZM141.2 109.2 L142.4 111.6 L145.6 109.2 L141.2 107.5ZM129.6 59.8 L130.5 59.9 L130.5 57.7 L129.0 58.1ZM84.5 129.5 L84.7 128.0 L82.8 125.4 L80.3 125.3 L80.4 127.1ZM119.7 25.1 L120.3 25.7 L122.8 24.9 L122.1 22.6 L119.2 23.3ZM110.1 144.1 L112.2 143.8 L111.4 141.2 L109.1 141.3 L108.9 142.8ZM104.9 17.2 L108.1 14.1 L104.6 11.6 L102.1 14.9 L102.6 16.6ZM153.1 149.3 L151.9 148.2 L149.2 148.8 L148.7 150.7 L149.2 151.6 L149.6 151.5ZM88.1 181.1 L88.1 182.7 L92.5 181.1 L91.1 178.9 L90.6 178.8ZM123.4 21.1 L122.8 22.3 L123.6 24.8 L124.1 25.1 L127.5 24.0ZM114.7 83.3 L113.1 85.3 L114.5 85.8 L117.2 84.9 L117.1 84.0 L115.2 83.2ZM129.9 44.6 L128.3 42.7 L126.8 42.9 L126.4 43.6 L127.1 45.0 L128.9 45.7ZM148.3 85.4 L148.8 83.5 L147.1 82.5 L144.6 85.2 L145.7 87.2ZM177.5 85.0 L176.5 85.2 L176.9 86.5 L177.3 86.3ZM151.4 130.9 L152.3 127.6 L152.1 127.1 L149.7 127.2 L148.7 130.6ZM116.7 30.5 L117.5 29.6 L116.4 27.7 L113.3 26.6 L116.0 30.2ZM108.7 118.0 L108.5 118.7 L110.1 121.8 L112.5 118.8 L109.7 117.2ZM122.5 46.6 L125.5 46.8 L126.3 45.3 L125.7 44.0 L121.5 45.0ZM99.8 103.4 L102.9 104.9 L103.1 100.9 L101.8 101.0ZM129.9 138.0 L130.2 135.3 L129.8 135.0 L127.1 137.0 L127.6 140.0 L128.2 139.8ZM88.0 22.0 L90.5 20.6 L90.5 19.4 L89.5 18.1 L88.9 17.8 L84.8 20.0 L84.6 20.9ZM118.1 21.6 L118.2 22.1 L118.9 22.7 L122.1 22.0 L122.5 20.8 L121.5 19.8ZM139.8 124.5 L142.6 126.5 L145.7 123.9 L144.6 120.8 L139.6 122.9 L139.5 123.8ZM154.5 121.8 L151.8 123.0 L152.7 125.7 L155.2 124.2ZM93.7 115.3 L92.4 117.2 L94.8 118.5 L96.3 116.5ZM147.2 96.7 L147.7 95.8 L147.2 94.9 L145.2 94.1 L144.7 95.6 L146.4 96.8ZM113.2 135.4 L114.2 136.3 L116.8 135.2 L116.9 134.9 L114.7 133.6ZM147.0 167.0 L144.0 166.8 L146.0 171.5 L146.8 171.2ZM103.6 105.4 L104.2 106.3 L106.4 105.6 L104.7 102.1 L103.9 101.6ZM120.5 53.1 L118.5 53.4 L117.6 55.2 L118.6 57.0 L120.0 56.5 L121.6 54.2ZM121.2 33.0 L120.4 34.0 L122.8 35.6 L123.4 35.0 L123.7 33.8ZM97.3 95.7 L99.9 95.9 L99.7 93.6 L98.4 94.2ZM81.0 21.7 L79.2 21.1 L78.2 22.4 L78.2 23.5ZM104.2 11.1 L104.1 10.6 L101.6 10.4 L99.0 11.7 L100.4 13.9 L101.7 14.5ZM116.3 24.1 L117.3 25.5 L119.0 25.0 L118.5 23.2 L117.9 22.7ZM136.8 94.4 L135.9 94.2 L133.6 95.3 L132.3 97.7 L133.3 99.2 L134.6 99.6 L135.5 99.1 L137.5 95.9ZM121.4 69.7 L124.3 69.0 L125.8 67.5 L124.4 66.8 L120.0 68.5ZM104.8 72.3 L104.6 71.4 L102.5 70.8 L102.0 72.0 L103.3 72.7ZM77.0 20.4 L77.9 21.6 L78.6 20.6 L78.3 19.0ZM139.9 62.6 L138.5 60.5 L136.4 62.8 L136.5 62.8ZM123.7 25.8 L123.1 25.5 L120.5 26.3 L119.9 29.1 L120.4 29.3 L123.4 29.0ZM104.2 22.8 L100.2 24.5 L101.2 25.3 L104.6 25.1Z" fill="#74a7a3"/>
<path d="M100.7 40.5 L101.2 42.2 L103.5 42.6 L103.1 40.5 L100.8 40.2ZM124.3 35.0 L127.2 36.5 L128.3 35.5 L128.2 35.1 L126.2 33.6 L124.6 33.8ZM158.8 127.5 L156.8 129.2 L157.4 132.0 L162.1 130.1ZM151.4 58.5 L151.4 59.7 L152.5 60.7 L154.4 60.2 L153.7 57.9ZM108.6 31.3 L106.7 30.8 L105.5 32.0 L108.1 34.1ZM96.5 177.5 L93.7 180.9 L97.3 180.3ZM161.8 111.5 L161.7 110.6 L161.1 109.9 L159.1 109.7 L157.8 110.7 L158.4 112.7ZM196.4 77.1 L195.2 73.6 L195.0 73.7 L194.2 74.8 L193.7 77.6ZM129.0 155.7 L127.3 156.3 L126.8 158.1 L127.5 158.5 L131.9 157.9 L132.0 157.2ZM108.3 77.7 L107.2 77.8 L106.3 82.9 L106.6 83.2 L110.1 80.6ZM145.5 67.5 L146.9 69.2 L150.2 69.4 L150.2 67.2 L147.4 66.1ZM163.7 52.1 L160.8 51.8 L160.6 52.5 L161.0 54.2 L163.5 53.9ZM134.8 44.8 L135.3 49.1 L135.8 49.1 L139.0 46.6 L139.0 44.8 L137.9 43.5 L137.0 43.3ZM143.5 61.5 L145.5 60.6 L145.5 58.7 L143.6 56.3 L143.1 56.5 L142.3 59.4ZM149.8 135.4 L150.1 136.2 L152.2 135.3 L151.0 134.0ZM152.9 70.8 L154.3 71.0 L155.8 70.0 L156.2 69.3 L154.9 67.9 L151.2 69.9ZM138.4 37.9 L139.3 37.1 L137.7 35.4 L136.4 36.9ZM80.6 166.8 L80.4 164.3 L78.2 164.4 L79.0 168.1ZM103.0 180.9 L106.2 180.3 L101.9 176.4 L100.9 177.1ZM114.3 45.2 L113.6 46.5 L114.1 49.9 L114.8 50.8 L115.6 50.6 L115.9 50.1 L115.0 45.2ZM172.8 60.6 L173.3 56.6 L169.7 58.4 L169.1 59.5 L169.1 59.9ZM164.7 106.3 L165.1 106.0 L164.5 104.8 L162.8 103.7 L162.2 104.1 L161.5 105.8ZM105.8 77.2 L105.2 76.7 L103.4 76.7 L101.7 78.9 L101.6 79.9ZM163.0 82.8 L166.1 84.8 L167.8 82.0 L167.0 81.3ZM189.9 98.1 L188.5 98.2 L187.1 99.4 L186.7 100.1 L187.1 100.7 L188.8 100.6 L189.3 100.2 L190.4 98.8ZM151.6 76.6 L150.3 76.2 L149.6 77.8 L150.8 78.6ZM131.1 65.0 L131.6 65.1 L133.4 61.7 L131.7 61.5 L130.0 63.5ZM134.5 22.3 L133.9 19.6 L133.5 19.7 L133.0 21.1ZM156.5 76.7 L158.1 77.7 L159.2 77.0 L156.1 75.4ZM103.3 39.5 L104.3 38.5 L102.2 36.9 L101.3 39.3ZM151.0 116.3 L153.5 114.3 L152.2 113.0 L149.0 113.2 L148.3 114.8ZM149.2 100.2 L150.4 101.2 L152.5 99.1 L152.4 97.7 L151.8 97.4ZM168.6 100.4 L169.7 100.0 L167.0 98.0ZM174.1 61.1 L175.7 62.2 L176.4 62.2 L174.6 57.4ZM174.6 55.2 L177.8 55.7 L178.3 52.8 L177.0 52.0 L174.7 52.7 L174.4 53.2ZM163.6 90.3 L165.6 87.6 L161.9 87.7ZM87.0 183.1 L84.9 185.5 L85.6 186.4 L88.2 187.2 L88.6 187.0 L88.0 183.1ZM122.7 132.5 L123.8 134.2 L127.0 133.2 L125.7 130.1 L124.0 129.9ZM106.9 47.0 L105.7 46.2 L105.0 46.2 L104.3 48.1 L105.5 49.9 L107.1 49.0ZM82.7 124.5 L83.6 121.2 L80.0 123.8 L79.8 124.2 L80.1 124.5ZM167.9 71.0 L168.2 71.8 L171.0 71.2 L171.5 70.2ZM109.0 156.4 L109.9 158.0 L112.8 158.3 L113.0 154.8 L110.0 154.4 L108.9 155.1ZM122.9 36.4 L121.3 38.3 L123.3 39.3 L124.4 38.8ZM158.5 100.5 L157.9 100.2 L156.7 103.2 L156.8 103.5 L158.2 102.4ZM73.9 11.4 L76.8 12.8 L77.7 9.7 L73.2 10.1ZM204.2 81.3 L205.6 82.7 L206.8 82.3 L206.5 80.6 L204.9 79.9ZM98.9 108.7 L98.3 108.3 L94.3 110.1 L97.6 112.4ZM152.6 139.7 L155.2 138.2 L153.6 137.8 L152.2 139.4ZM178.8 115.9 L178.8 114.4 L178.2 113.4 L177.6 113.4 L175.8 116.0 L176.2 117.6ZM99.6 29.7 L98.1 27.6 L97.1 29.8ZM157.3 78.7 L156.0 77.9 L155.1 79.0 L155.1 80.0 L157.0 79.6ZM152.1 103.4 L153.1 105.2 L155.9 104.6 L155.5 103.6 L154.7 103.0ZM125.8 62.4 L126.4 65.0 L127.9 63.3 L126.8 61.7ZM169.6 88.9 L171.5 86.9 L171.7 85.6 L168.5 83.2 L166.8 85.7 L166.7 87.0ZM140.5 52.0 L141.4 51.5 L142.1 49.4 L140.8 48.7 L140.2 51.6ZM157.2 58.1 L155.2 56.3 L154.6 57.3 L155.5 60.2 L156.4 60.5ZM159.8 115.3 L163.7 116.4 L162.9 112.7 L162.4 112.4 L158.8 113.7 L159.1 114.7ZM166.1 139.2 L165.6 137.9 L164.1 139.4 L164.8 140.1ZM98.2 18.8 L96.8 20.0 L97.2 22.5 L98.5 24.1 L98.8 24.0 L99.7 19.2ZM171.4 47.6 L170.2 47.9 L170.7 48.5 L172.2 48.6ZM135.0 80.9 L138.3 82.7 L139.0 80.6 L138.7 77.8 L137.2 77.7 L135.5 79.2ZM78.3 17.9 L78.5 17.7 L78.1 15.3 L77.2 14.5 L74.5 16.4 L74.5 16.9ZM78.1 119.4 L79.5 119.8 L83.1 118.4 L82.1 117.3 L77.9 118.1ZM112.8 36.6 L116.1 37.6 L116.8 36.8 L116.7 36.0 L112.5 35.1ZM83.3 23.7 L80.5 25.7 L80.9 27.4 L81.2 27.6 L84.0 26.5 L84.6 25.3ZM152.9 87.9 L152.5 85.0 L151.7 84.3 L149.6 83.9 L149.1 85.7 L150.0 87.2ZM116.4 26.9 L116.8 26.0 L115.7 24.4 L112.8 25.0 L112.7 25.6ZM178.2 89.8 L179.8 88.6 L178.0 87.5 L176.8 88.2ZM174.6 104.6 L174.6 104.3 L171.8 102.6 L169.7 105.7 L169.4 107.2 L169.8 107.6 L170.7 107.7ZM171.5 73.5 L171.1 72.6 L168.4 73.4 L170.6 74.2ZM168.4 80.9 L170.7 79.1 L170.7 78.5 L167.6 77.0 L167.3 79.6ZM160.0 60.2 L159.7 57.9 L158.2 58.4 L157.5 60.8ZM151.7 117.0 L152.7 118.1 L153.6 118.3 L154.3 117.5 L154.0 115.2ZM159.6 52.0 L159.8 51.3 L159.3 50.6 L158.4 50.1 L156.6 53.2ZM179.0 126.8 L179.7 125.6 L178.5 124.4 L177.6 124.5 L177.6 125.1ZM178.7 110.4 L177.7 108.9 L175.8 111.2 L177.5 112.3 L178.2 112.3ZM170.8 150.9 L171.4 149.8 L169.8 149.0 L168.8 149.1 L168.5 150.3ZM169.2 122.3 L170.0 123.6 L171.7 122.9ZM156.6 46.8 L155.3 45.7 L153.4 45.4 L153.0 45.5 L152.5 48.1 L154.4 49.4 L156.7 48.2ZM206.9 93.6 L209.7 94.1 L210.4 93.4ZM105.5 25.3 L105.8 25.8 L106.9 25.5 L108.4 22.0 L108.1 21.5 L106.7 21.3 L105.0 22.6ZM141.9 40.4 L139.1 43.3 L139.7 44.2 L143.4 44.0 L143.6 40.2ZM77.1 119.8 L76.8 117.9 L75.9 117.1 L74.0 116.6 L73.6 117.0 L73.1 119.7 L73.3 120.6 L75.3 121.8 L75.7 121.8ZM95.6 38.8 L95.7 40.8 L97.0 41.2 L97.7 40.6 L96.0 38.4ZM129.2 23.7 L132.1 25.6 L134.6 24.3 L135.0 23.8 L132.3 21.7ZM170.0 115.4 L171.0 117.7 L171.2 117.7 L172.3 114.7ZM128.9 36.1 L127.7 37.2 L127.6 38.0 L129.9 39.4 L130.9 36.7ZM132.7 31.4 L131.9 29.5 L129.5 30.8 L130.0 32.1 L131.9 32.7ZM150.2 90.1 L153.4 89.4 L153.1 88.9 L150.0 88.2 L149.6 89.0ZM100.9 46.0 L100.6 47.7 L101.5 48.1 L103.5 47.8 L104.2 45.8 L104.1 45.5ZM97.6 26.5 L97.5 25.7 L96.3 26.0 L95.3 27.9 L96.3 29.3ZM157.3 54.1 L159.8 55.3 L160.0 54.8 L159.6 53.2ZM113.2 154.8 L113.1 158.2 L115.9 158.7 L116.2 158.4 L115.9 154.8 L113.8 154.3ZM117.2 95.1 L118.5 98.2 L120.5 98.0 L121.3 96.3 L119.2 93.1 L117.9 93.2ZM168.2 114.4 L167.7 111.5 L163.8 112.7 L164.7 116.5ZM174.6 111.9 L173.8 111.7 L173.3 113.9 L175.1 115.1 L176.5 113.1ZM112.4 147.4 L111.3 149.2 L113.7 150.6 L116.7 150.0 L115.5 146.9ZM100.9 143.8 L98.9 144.0 L98.4 146.9 L100.9 147.2ZM136.7 51.7 L135.7 50.1 L135.0 50.1 L133.1 50.9 L132.6 52.2 L135.6 54.9 L136.1 54.7ZM125.7 141.8 L124.6 141.0 L122.8 140.5 L121.0 141.3 L120.9 143.3 L122.1 144.9 L125.5 142.7ZM161.9 151.8 L163.5 151.8 L162.7 149.0ZM180.0 62.5 L182.5 62.2 L183.7 61.3 L183.6 59.2 L180.1 59.9 L179.0 62.2ZM151.2 67.0 L151.2 68.9 L154.5 67.0 L154.2 65.6 L152.3 65.2ZM154.7 146.1 L152.3 145.4 L152.4 147.6 L153.9 148.9ZM149.4 56.5 L149.9 56.6 L151.3 53.7 L150.5 53.0 L147.6 52.7ZM86.8 9.0 L86.2 9.9 L87.3 13.5 L88.7 12.2 L88.8 10.7ZM164.0 94.5 L166.4 96.9 L167.4 95.4 L165.0 93.5 L163.6 93.4ZM128.4 23.6 L126.7 18.7 L126.5 18.6 L124.2 20.6ZM160.9 92.9 L159.5 90.6 L157.6 91.0 L159.1 93.5 L159.8 93.6ZM140.0 76.2 L143.7 75.3 L142.3 73.5 L138.8 73.3ZM153.7 98.9 L154.6 99.5 L156.9 98.9 L156.8 98.4 L155.0 96.6 L153.6 97.6ZM72.4 14.9 L73.0 11.9 L72.5 10.8 L70.5 13.4 L70.5 14.6ZM95.2 41.6 L92.9 42.0 L94.2 44.2ZM135.1 67.0 L136.1 65.9 L135.7 63.4 L134.2 62.5 L132.5 65.7ZM161.5 73.2 L162.4 71.5 L161.9 69.2 L160.2 70.3 L161.0 72.8ZM148.8 82.3 L150.2 79.6 L148.6 78.6 L146.1 79.5 L147.4 81.6ZM122.6 63.5 L124.6 66.0 L125.6 66.4 L124.9 62.6 L123.1 62.7ZM172.0 79.2 L174.3 80.5 L174.8 80.3 L175.7 78.8 L174.2 77.2 L172.1 78.4ZM148.3 77.6 L149.4 75.5 L148.9 74.9 L145.7 74.8 L144.6 75.6 L145.7 78.5ZM191.1 82.8 L189.1 85.7 L191.5 86.4 L193.6 83.6 L193.5 82.7 L192.5 82.2ZM127.7 80.2 L129.1 80.6 L129.6 79.5 L128.7 77.5 L126.6 79.3ZM134.4 70.4 L134.8 67.9 L132.2 66.6 L130.4 70.1ZM183.1 99.1 L185.6 99.4 L185.9 99.0 L184.3 95.7 L181.3 97.9ZM203.1 89.3 L202.5 88.2 L200.3 89.6 L202.1 91.6 L202.7 91.2ZM158.9 67.2 L157.8 68.9 L159.3 69.4 L161.9 67.7 L162.2 66.8 L161.8 66.5ZM173.4 52.3 L172.7 49.9 L170.7 49.9 L170.2 50.9 L170.8 52.0ZM134.7 79.0 L133.1 76.6 L132.6 76.5 L132.2 78.0 L134.4 80.0ZM97.0 31.4 L98.0 32.9 L101.6 31.8 L101.5 31.3 L100.3 30.6 L97.0 30.8ZM120.2 38.7 L117.5 37.4 L116.7 38.4 L116.5 39.1 L118.0 43.6 L119.3 43.8ZM163.1 117.4 L160.3 116.7 L160.6 118.3ZM128.8 63.9 L126.6 66.4 L126.7 67.2 L130.1 65.2 L129.2 63.9ZM120.6 17.8 L121.5 18.7 L122.5 16.6 L121.8 14.7 L120.1 14.7ZM185.7 67.8 L183.5 68.4 L181.9 70.1 L181.8 70.7 L186.7 71.7ZM186.1 101.4 L185.6 100.8 L183.6 100.5 L183.7 104.8 L184.2 105.0 L185.8 103.4ZM157.2 142.6 L156.7 140.7 L155.4 142.5 L155.9 142.9ZM130.1 19.0 L127.8 19.0 L128.9 21.8ZM91.3 22.4 L89.6 27.7 L90.1 28.7 L90.4 28.8 L93.2 25.0ZM172.1 149.0 L172.5 148.9 L172.1 146.9 L170.7 148.3ZM97.3 176.0 L97.1 175.4 L95.0 174.3 L92.7 174.5 L92.8 176.5 L96.1 177.2ZM113.2 15.6 L110.0 15.3 L110.1 18.9 L113.0 19.0ZM93.9 25.5 L91.9 28.2 L94.4 27.6 L95.3 25.8ZM77.0 188.8 L73.8 187.6 L73.8 187.7 L76.3 191.5 L77.2 190.4ZM125.5 79.4 L125.0 78.9 L123.0 78.7 L122.6 79.5 L123.0 82.1ZM157.4 87.4 L155.1 89.5 L156.8 90.2 L159.4 89.6 L159.7 88.5ZM173.0 62.1 L169.7 61.4 L170.2 63.6 L171.0 64.3 L172.8 64.7 L174.3 63.1ZM151.9 96.3 L152.9 96.6 L154.7 95.5 L153.6 92.7 L151.5 94.1 L151.2 95.5ZM128.5 76.2 L127.9 75.7 L126.1 76.5 L125.7 78.3 L126.0 78.6ZM193.1 81.2 L193.7 81.6 L195.5 78.4 L193.6 78.8ZM154.7 74.6 L153.9 72.1 L153.3 72.0 L152.8 75.2ZM146.3 60.6 L147.5 61.2 L150.4 59.7 L150.4 58.2 L149.9 57.6 L149.1 57.3 L146.4 58.8ZM137.1 65.6 L139.2 65.9 L139.5 63.6 L136.9 63.7ZM75.3 25.6 L76.5 24.3 L74.4 21.7 L72.9 23.5ZM124.9 74.3 L125.9 75.7 L127.6 74.9 L127.4 72.7 L124.9 73.4ZM170.1 92.5 L169.4 90.2 L166.2 92.9 L168.1 94.4ZM173.0 53.6 L170.6 53.3 L169.1 54.3 L169.7 56.9 L173.2 55.1ZM160.9 100.8 L159.7 100.6 L159.5 102.3 L161.5 103.0 L162.1 102.6 L162.1 102.0ZM107.2 127.5 L105.2 130.9 L105.2 130.9 L108.0 130.0 L108.6 128.2ZM157.2 106.1 L157.0 109.4 L157.2 109.6 L158.3 108.8 L158.7 106.6ZM133.8 38.7 L135.2 39.4 L135.5 37.3 L133.2 36.7ZM175.5 94.9 L176.1 96.8 L179.4 97.9 L179.6 97.7 L179.3 96.8 L175.8 94.0ZM148.6 49.4 L148.1 51.6 L150.3 51.9 L151.6 48.8ZM74.1 18.8 L74.8 19.9 L76.2 19.9 L77.4 18.7 L74.4 17.9ZM180.8 94.0 L180.7 96.7 L183.4 94.8 L182.4 92.7 L181.8 92.8ZM94.8 38.1 L95.3 37.6 L94.4 35.7 L93.8 35.4 L91.9 37.4 L92.4 38.3ZM201.0 86.0 L200.3 85.9 L198.6 88.4 L199.1 88.6 L201.9 86.9ZM167.0 129.5 L170.0 126.1 L169.6 125.6 L165.8 129.1ZM137.2 42.4 L137.6 42.5 L137.9 38.7 L136.4 37.9 L136.0 40.0ZM151.6 83.2 L153.0 80.9 L151.3 80.0 L149.8 82.9ZM108.5 90.5 L109.6 91.3 L112.0 89.8 L111.0 87.0 L108.4 86.7ZM162.1 60.7 L163.3 58.0 L160.9 57.7 L161.2 60.4ZM214.3 88.9 L213.3 87.4 L212.0 87.1 L211.0 90.5ZM134.2 61.2 L135.8 62.2 L138.1 59.7 L135.1 58.0ZM157.9 66.7 L156.3 64.7 L155.1 65.5 L155.5 67.0 L156.8 68.5ZM131.9 20.8 L132.5 19.5 L131.3 18.8 L130.1 21.9ZM126.1 80.2 L123.7 82.8 L125.1 83.3 L126.8 80.7ZM167.9 60.0 L164.6 58.0 L163.3 60.7 L166.1 61.4ZM97.9 180.3 L98.6 180.9 L100.3 177.3 L97.5 176.4 L96.9 177.2ZM102.8 33.5 L106.8 36.2 L107.6 34.9 L104.7 32.6 L102.7 32.7ZM108.7 46.0 L109.5 44.1 L108.8 43.7 L106.5 45.8 L107.4 46.3ZM74.7 122.6 L72.9 121.5 L70.7 123.6 L72.6 127.1 L73.9 126.4ZM168.5 49.9 L169.1 50.1 L169.6 49.2 L168.8 48.1 L168.0 47.9ZM92.0 42.3 L91.8 44.1 L92.0 44.6 L93.7 44.9ZM172.9 129.3 L172.7 129.8 L174.8 130.2 L174.8 128.2ZM143.1 65.7 L142.7 62.8 L140.6 63.2 L140.2 66.1ZM167.9 97.0 L170.7 99.0 L171.2 98.4 L168.2 96.6ZM155.0 145.3 L155.2 143.7 L154.5 143.0 L153.2 142.8 L152.1 144.4ZM172.1 101.2 L175.1 103.0 L175.6 102.3 L172.6 99.0 L171.6 100.2ZM180.3 98.9 L179.1 100.9 L182.4 104.6 L182.2 100.1ZM154.6 54.5 L154.3 54.2 L152.3 54.0 L150.7 57.2 L151.0 57.5 L153.8 56.8 L154.7 55.4ZM110.8 50.1 L111.2 51.3 L113.2 51.9 L114.2 51.3 L113.5 50.4ZM174.2 125.0 L175.0 126.1 L176.4 124.8 L174.3 124.5ZM74.5 127.3 L74.2 127.5 L76.7 130.2 L77.1 130.2 L77.6 129.0 L75.8 127.5ZM106.3 172.7 L106.7 170.7 L105.7 169.7 L103.9 169.8 L102.7 173.6 L103.0 174.1ZM160.8 76.3 L161.4 75.1 L161.2 74.5 L160.2 73.8 L158.4 73.7 L157.5 74.6 L160.5 76.4ZM162.7 81.7 L166.2 80.3 L162.5 79.1 L162.3 81.2ZM91.3 9.8 L92.2 10.5 L93.2 10.1 L91.9 7.6 L91.2 7.7ZM98.7 25.0 L98.6 26.4 L100.8 29.7 L101.6 30.3 L102.1 28.9 L100.6 26.1 L99.2 24.9ZM147.1 70.3 L146.2 73.8 L148.8 73.9 L150.1 70.5ZM103.0 29.2 L102.3 31.1 L102.5 31.7 L104.8 31.7 L106.1 30.2 L106.1 28.8 L105.3 27.8ZM148.4 48.3 L151.5 47.7 L152.0 45.4 L150.6 44.7 L147.1 45.9ZM156.5 145.4 L158.9 144.3 L157.8 143.6 L156.2 144.0 L156.0 145.3ZM110.1 43.3 L111.9 43.1 L111.7 40.7 L111.4 40.3 L108.1 41.1 L108.1 41.5 L109.1 42.8ZM134.4 71.2 L129.6 70.9 L131.9 74.7ZM142.0 39.5 L144.2 39.2 L142.6 35.9 L141.0 37.4ZM153.3 140.8 L153.5 141.7 L154.4 141.9 L156.0 139.6 L155.9 139.3ZM157.1 138.8 L157.4 139.5 L160.4 139.7 L160.8 139.1 L160.7 138.8 L157.6 138.6ZM72.3 119.3 L72.7 117.1 L70.1 116.8 L69.0 119.1ZM180.5 109.2 L180.5 106.8 L178.4 107.5 L179.7 109.5ZM107.1 41.3 L107.2 40.8 L106.2 38.5 L105.2 38.8 L104.0 40.1 L104.5 42.4ZM150.2 43.8 L150.1 43.5 L147.1 41.9 L146.8 44.9ZM128.3 72.3 L128.5 75.0 L129.1 75.5 L131.1 75.1 L128.9 71.5ZM157.0 70.3 L158.6 72.5 L159.5 72.5 L158.9 70.6 L157.1 70.0ZM142.7 70.7 L143.0 72.8 L144.3 74.7 L145.1 74.0 L146.2 69.9 L145.0 68.7ZM194.6 90.4 L195.6 89.2 L194.8 85.1 L194.2 84.5 L192.3 87.0 L193.8 89.7ZM126.0 176.0 L126.9 179.5 L130.9 179.0 L131.0 178.7 L128.3 175.7ZM151.7 133.0 L152.9 134.3 L154.8 133.3 L151.9 132.0ZM190.9 68.1 L191.9 66.2 L191.3 65.6 L190.3 65.4 L189.1 66.4ZM112.8 46.1 L113.4 44.9 L112.3 44.1 L110.3 44.3 L109.6 46.3 L110.5 47.5ZM120.5 74.7 L120.5 75.8 L121.6 76.4 L124.1 74.2 L124.1 73.4 L122.1 73.0ZM148.6 93.4 L148.0 94.6 L148.4 95.3 L150.2 95.2 L150.5 93.9 L149.5 93.0ZM123.0 40.9 L122.9 40.0 L121.0 39.0 L120.2 43.2ZM181.6 76.7 L181.0 76.8 L180.1 78.3 L180.7 80.1 L182.3 80.8 L183.6 79.4 L183.1 77.8ZM163.4 50.9 L164.0 48.7 L162.9 47.7 L162.0 47.8 L160.4 50.2 L160.8 50.8ZM187.7 93.7 L187.3 94.1 L188.7 97.0 L189.7 96.9 L190.3 94.7ZM161.3 78.5 L160.9 77.6 L160.7 77.7 L158.7 78.9 L158.2 80.0 L159.1 81.1 L161.1 80.8ZM182.3 128.8 L183.0 128.6 L183.1 128.2 L182.0 125.5 L180.8 126.0 L179.9 127.5ZM174.9 85.1 L174.1 84.8 L172.9 85.7 L172.8 86.7 L175.6 87.7ZM191.3 87.4 L188.3 86.6 L186.6 88.3 L187.5 89.8 L192.5 89.6ZM135.1 40.5 L133.5 39.7 L132.6 40.6 L135.5 41.4ZM175.8 127.2 L177.6 127.2 L176.9 126.3ZM90.2 7.1 L89.3 5.6 L87.3 7.3 L87.3 7.8ZM105.6 184.4 L101.5 187.3 L101.5 187.5 L107.7 188.9 L108.3 188.1ZM159.4 82.4 L158.9 83.8 L160.8 84.3 L161.8 82.9 L161.4 82.1ZM147.9 142.6 L151.0 139.6 L149.5 138.3 L147.3 139.2 L147.5 142.2ZM168.5 89.5 L166.4 88.2 L164.0 91.4 L163.8 92.3 L165.1 92.4ZM166.0 51.5 L167.3 50.2 L166.8 48.2 L165.0 48.9 L164.4 51.3ZM131.4 40.3 L132.8 38.9 L132.2 36.8 L131.8 36.9 L130.7 40.0ZM153.2 127.1 L155.9 128.2 L157.7 126.7 L156.7 125.4 L155.8 125.2 L153.1 126.8ZM110.8 72.1 L110.8 69.1 L108.7 69.7 L108.7 72.1ZM157.6 49.4 L157.2 49.1 L154.9 50.3 L154.9 53.4 L155.1 53.6ZM98.1 36.5 L97.6 33.8 L95.3 35.4 L96.1 37.2ZM142.1 70.0 L144.5 67.9 L143.5 66.6 L140.3 67.1 L140.4 69.5ZM94.1 211.2 L94.6 210.7 L93.6 209.7 L90.6 209.7 L89.4 212.6ZM139.4 55.8 L136.6 55.5 L135.9 55.9 L135.6 57.1 L138.5 58.9ZM164.6 152.1 L166.1 153.5 L167.5 150.7 L163.9 149.4ZM82.2 200.0 L84.8 196.9 L80.0 196.1 L81.3 200.0ZM81.6 7.1 L79.5 8.9 L82.1 10.8 L85.3 9.5 L85.4 9.1ZM102.8 28.4 L105.1 27.1 L105.2 26.3 L104.9 25.8 L101.6 26.1ZM168.8 108.3 L168.4 107.8 L166.1 106.9 L165.2 107.4 L162.9 110.5 L163.0 111.6 L163.4 111.8 L167.7 110.5ZM148.3 63.7 L147.9 65.2 L150.6 66.2 L151.5 64.8ZM146.1 137.5 L146.2 138.0 L147.0 138.5 L149.2 137.5 L149.3 136.8 L148.8 135.6 L147.6 135.0ZM132.3 43.7 L134.1 44.1 L136.1 42.7 L132.1 41.6ZM195.5 94.4 L194.7 93.4 L191.5 94.7 L190.8 97.5 L191.4 98.3 L194.7 97.1ZM157.4 97.4 L159.4 95.8 L159.4 94.6 L158.9 94.5 L155.7 95.7ZM107.7 36.7 L111.3 38.4 L111.8 37.0 L111.5 35.3 L108.6 35.2ZM96.8 42.2 L95.9 42.1 L94.8 45.2 L95.9 45.6 L97.4 44.1ZM128.8 63.0 L129.3 63.0 L131.0 61.1 L129.4 60.5 L127.7 61.4ZM131.7 28.5 L131.6 26.4 L128.7 24.5 L127.9 29.4 L128.8 30.0ZM144.0 65.9 L144.9 66.7 L146.9 65.2 L147.5 63.0 L147.1 62.0 L145.9 61.4 L143.7 62.4ZM156.8 121.5 L155.7 121.9 L156.2 124.0 L156.8 124.2 L158.5 121.8ZM101.0 43.3 L100.4 44.3 L100.8 45.0 L103.7 44.6 L103.6 43.7ZM104.5 43.4 L104.9 45.3 L105.7 45.3 L108.1 43.2 L107.4 42.2ZM166.1 68.2 L164.5 67.1 L163.4 67.2 L163.1 68.2 L163.6 70.8 L166.6 70.5ZM82.9 17.6 L84.5 19.2 L88.2 17.2 L86.8 15.1 L85.7 15.2 L83.2 16.6ZM120.8 101.1 L118.9 101.3 L119.3 103.7 L121.3 104.5 L122.4 104.5 L122.6 104.3ZM90.6 126.7 L90.9 124.8 L88.5 123.2 L85.5 128.3ZM67.8 125.3 L70.3 127.6 L71.6 127.3 L69.8 124.0 L69.0 123.9ZM84.1 163.3 L84.3 165.1 L84.7 165.5 L88.8 164.7 L89.4 164.2 L89.3 162.3ZM150.2 137.2 L150.2 137.6 L151.2 138.6 L152.6 137.0 L152.3 136.5ZM107.0 38.0 L108.0 40.1 L110.9 39.3 L107.3 37.6ZM76.6 13.7 L73.7 12.4 L73.2 15.2 L73.9 15.7ZM73.2 178.5 L73.1 177.1 L72.4 176.7 L70.5 177.8 L70.7 178.9ZM147.7 134.0 L149.1 134.7 L150.5 133.1 L150.7 131.8 L147.8 131.5 L147.2 133.2ZM186.1 93.5 L186.7 92.7 L186.5 90.6 L185.4 88.9 L183.6 92.0 L184.6 94.2ZM162.1 97.9 L161.1 97.7 L160.8 99.6 L161.0 99.6ZM190.8 81.9 L191.9 81.4 L188.9 78.5 L187.7 80.5ZM180.2 92.6 L180.6 92.2 L179.6 90.5 L179.0 90.9ZM75.9 122.7 L74.9 126.3 L76.0 126.4 L78.7 124.4ZM167.0 119.2 L168.0 119.6 L169.8 118.1 L168.6 115.5 L165.3 117.5ZM179.3 80.5 L178.9 79.0 L177.0 79.4 L176.2 80.6 L178.4 82.1ZM148.3 143.3 L148.4 143.7 L151.4 144.0 L152.5 142.2 L152.1 140.8 L151.5 140.3ZM129.2 70.1 L129.4 70.0 L131.5 66.1 L130.9 65.9 L127.5 68.0ZM195.2 71.0 L191.3 69.5 L190.6 71.8 L194.6 72.4ZM113.6 78.0 L113.2 75.0 L112.5 74.5 L111.2 76.3 L113.3 78.3ZM139.4 122.8 L134.8 120.0 L132.7 122.5 L134.4 124.9 L139.2 123.7ZM103.1 82.7 L101.1 80.7 L97.9 81.5 L97.7 81.9 L98.1 82.4 L100.4 82.4 L101.0 85.5ZM151.8 61.5 L150.8 60.6 L148.1 61.9 L148.3 62.6 L151.6 63.7ZM165.3 56.4 L165.3 56.9 L168.1 58.5 L168.5 57.8 L167.8 54.9ZM179.0 112.9 L179.6 113.8 L180.6 113.9 L181.6 112.6ZM172.7 111.3 L170.6 108.9 L169.8 108.9 L168.6 111.0 L169.2 114.3 L172.2 113.5ZM192.1 80.1 L192.6 78.4 L189.9 77.3 L189.3 77.4ZM174.1 123.2 L176.6 123.6 L176.2 121.4ZM93.2 33.1 L94.0 34.5 L94.7 34.8 L96.9 33.1 L96.3 32.1ZM143.1 49.6 L142.4 51.7 L145.2 53.0 L145.7 52.6ZM164.9 55.1 L167.2 53.8 L166.0 52.6 L164.8 52.5 L164.6 54.3ZM153.2 100.0 L151.2 102.1 L151.3 102.3 L154.2 101.8 L153.9 100.5ZM123.0 147.1 L126.7 150.6 L126.9 150.6 L126.6 146.2 L125.8 145.7ZM75.5 179.2 L76.1 176.8 L74.8 176.0 L73.5 177.0 L73.6 178.6 L74.0 179.0ZM162.0 100.2 L162.7 100.9 L164.5 99.1 L163.1 98.7ZM145.8 45.7 L143.7 44.8 L140.0 45.1 L140.0 46.6 L140.8 47.6 L143.2 48.6ZM113.0 79.0 L110.5 76.8 L109.2 77.5 L110.8 80.1 L112.8 79.4ZM163.0 91.3 L161.1 88.4 L160.7 88.6 L160.3 89.9 L161.9 92.5 L162.7 92.4ZM158.1 82.0 L157.2 80.8 L156.1 81.2 L156.6 83.5 L157.5 83.9ZM151.3 52.3 L152.2 53.0 L153.9 53.1 L153.9 50.3 L152.5 49.5ZM162.9 122.4 L163.5 122.8 L165.6 119.8 L164.6 118.8ZM134.7 119.8 L134.4 118.9 L127.7 117.8 L126.6 117.8 L126.7 119.3 L132.2 122.4 L132.5 122.4ZM115.8 165.8 L115.3 162.3 L114.2 162.5 L111.9 164.8 L112.0 165.3 L114.7 167.0ZM119.5 147.6 L121.0 147.6 L122.1 146.8 L122.0 145.1 L120.8 143.5 L118.8 144.4 L118.6 146.0ZM180.5 124.7 L181.3 124.5 L179.9 123.0 L179.5 123.7ZM180.7 84.0 L182.2 82.9 L181.9 82.1 L180.4 81.5 L179.3 83.3ZM200.7 73.5 L201.0 72.0 L200.8 71.7 L198.3 70.5 L196.7 70.9 L196.2 72.7ZM144.7 78.6 L143.8 76.3 L140.0 77.2 L139.6 77.6 L139.9 80.0ZM151.1 93.1 L153.4 91.6 L153.6 90.5 L150.4 91.2 L150.2 92.3ZM139.9 52.8 L139.4 52.2 L137.6 52.1 L137.1 54.6 L139.8 54.9ZM91.5 29.9 L95.2 29.6 L94.5 28.6 L91.2 29.4ZM132.9 35.2 L135.3 32.6 L133.5 32.1 L132.6 33.4ZM117.0 43.6 L115.7 39.8 L112.8 40.9 L113.0 43.3 L114.1 44.2 L115.2 44.2ZM157.1 112.8 L156.6 110.7 L156.1 110.3 L153.7 110.2 L153.1 112.3 L154.5 113.7ZM160.4 122.9 L159.6 122.2 L157.8 124.8 L158.9 126.1ZM159.2 99.6 L159.7 99.5 L160.1 97.2 L159.8 96.8 L158.0 98.3 L158.1 99.0ZM129.1 10.9 L126.7 13.2 L127.6 15.0 L129.9 15.0ZM162.3 65.0 L163.1 65.9 L164.1 65.8 L165.3 62.5 L162.5 61.9ZM90.8 10.5 L89.7 10.8 L89.6 12.0 L91.4 11.9 L91.6 11.1ZM162.8 94.8 L162.4 93.5 L161.8 93.6 L160.5 94.5 L160.5 95.8 L161.0 96.5 L162.1 96.7ZM106.2 20.8 L104.8 17.8 L102.5 17.3 L101.3 18.6 L104.1 22.1 L104.5 22.1ZM165.1 98.0 L165.5 97.7 L163.6 95.9 L163.2 97.5ZM135.2 70.9 L136.6 72.1 L138.1 72.4 L139.6 69.9 L135.5 69.9ZM169.4 103.6 L170.7 101.6 L170.5 101.2 L169.0 101.8ZM100.5 39.1 L101.5 36.2 L98.9 36.9ZM159.8 143.6 L160.1 144.2 L162.2 145.8 L162.9 145.3 L163.0 144.6 L161.0 140.9ZM122.2 124.4 L126.3 120.6 L126.4 118.8 L120.9 121.3 L120.9 123.7ZM144.5 40.1 L144.2 44.0 L146.0 44.7 L146.2 41.5 L145.0 40.9ZM172.3 84.4 L173.3 83.6 L173.5 81.7 L171.3 80.4 L169.1 82.0ZM113.3 190.7 L113.4 189.8 L112.7 188.6 L110.1 187.0 L108.5 188.2 L107.9 189.1 L108.0 189.9 L112.8 191.1ZM148.2 100.3 L147.2 97.5 L146.5 97.6 L145.1 99.1 L145.0 101.4ZM82.8 116.5 L85.1 118.5 L86.6 118.4 L87.0 116.2 L83.8 112.5 L81.9 113.8ZM181.7 91.5 L182.4 91.4 L183.7 88.9 L181.9 88.6 L181.1 88.9 L180.6 89.7ZM123.9 35.8 L123.7 36.0 L125.2 38.6 L125.9 38.8 L126.7 38.0 L126.8 37.3ZM158.0 86.5 L160.2 87.5 L160.9 87.0 L160.5 85.6 L158.2 85.1ZM196.1 85.6 L196.8 88.3 L198.7 85.5ZM124.8 163.8 L125.0 162.5 L123.4 160.1 L120.6 161.7 L119.7 162.9 L119.8 164.5 L120.9 165.9ZM72.2 23.1 L74.0 20.9 L74.1 20.5 L73.4 19.3 L71.4 19.9 L70.9 21.0ZM175.5 90.4 L176.2 91.5 L177.0 90.6 L175.9 89.3ZM98.6 33.7 L98.9 36.0 L101.4 35.3 L101.8 33.8 L101.7 32.7ZM86.2 7.2 L85.6 5.8 L83.2 5.4 L82.4 6.4 L86.0 8.3ZM96.8 96.3 L96.3 96.6 L96.4 96.9 L98.0 98.4 L99.2 98.4 L99.8 96.6ZM146.6 52.2 L147.1 51.9 L147.7 49.0 L146.4 46.5 L143.9 49.1ZM204.6 76.7 L203.4 75.1 L202.1 75.4 L202.1 76.1 L202.7 76.8 L204.1 77.2ZM173.4 115.5 L172.5 118.0 L175.0 117.6 L174.7 116.3ZM173.8 76.0 L174.0 75.0 L172.4 74.4 L171.5 75.2 L172.0 76.9ZM176.2 128.6 L176.2 130.8 L176.6 131.1 L177.0 131.0 L178.0 128.5ZM122.9 77.8 L124.9 78.0 L125.3 76.3 L124.4 75.0 L122.2 76.9ZM84.3 130.3 L82.7 131.2 L81.6 132.5 L83.1 135.9 L84.9 133.4ZM160.5 152.3 L160.8 152.1 L161.9 147.6 L158.7 149.6 L157.6 151.0ZM108.8 203.5 L113.0 202.5 L110.0 199.7 L108.7 200.8ZM164.1 141.3 L162.8 140.0 L161.9 139.9 L163.6 143.2 L164.1 142.4ZM124.9 39.5 L123.7 40.0 L123.8 40.7 L125.7 41.2 L125.6 39.7ZM182.3 87.4 L184.4 87.7 L182.8 84.0 L181.5 85.0ZM140.0 48.1 L139.4 47.4 L136.5 49.7 L137.5 51.2 L139.3 51.3ZM94.6 8.2 L93.0 7.0 L92.9 7.2 L93.9 9.3ZM159.4 105.6 L160.1 105.5 L160.8 104.0 L158.9 103.4 L157.2 104.8ZM142.2 35.1 L141.7 34.0 L138.3 32.4 L138.1 34.6 L140.1 36.8 L140.4 36.8ZM128.2 41.7 L129.6 40.2 L127.3 38.8 L126.5 39.6 L126.6 41.7 L126.8 41.9ZM106.3 77.9 L102.1 80.6 L103.8 82.3 L105.5 82.6ZM73.4 16.5 L72.5 15.9 L70.5 15.6 L70.6 18.2 L71.3 19.0 L73.2 18.4ZM147.8 105.1 L150.3 102.5 L148.5 101.1 L144.9 102.3 L144.8 102.6ZM138.9 76.9 L139.1 76.6 L137.8 73.4 L136.7 73.2 L136.1 75.4 L137.3 76.7ZM180.5 75.5 L180.5 72.0 L176.4 72.4 L176.1 73.7ZM167.0 102.5 L165.8 104.3 L166.6 105.8 L168.2 106.4 L168.3 105.4 L167.7 102.4ZM98.2 37.6 L97.1 37.9 L98.7 40.1 L99.7 39.9ZM154.4 64.7 L155.9 63.7 L156.5 62.4 L156.4 61.6 L155.1 61.1 L152.8 61.7 L152.6 64.2ZM159.8 140.9 L157.9 140.7 L158.4 142.6 L158.9 142.9ZM84.0 119.8 L84.3 119.2 L84.0 119.1 L80.0 120.7 L80.1 122.6ZM118.8 77.4 L119.8 79.6 L121.8 79.1 L122.2 78.3 L121.4 77.2 L120.1 76.5ZM177.7 123.4 L178.3 123.3 L179.2 121.8 L179.2 121.0 L177.2 120.5ZM162.8 135.5 L165.3 136.3 L163.5 132.5ZM113.8 150.8 L113.9 154.1 L116.0 154.6 L117.4 153.8 L117.8 151.8 L116.7 150.2ZM157.0 137.4 L158.2 135.3 L157.3 133.4 L157.0 133.3 L156.5 133.7 L156.3 137.4 L156.5 137.7ZM103.4 75.8 L104.8 75.7 L104.6 73.3 L103.1 73.7 L102.8 75.0ZM157.3 63.4 L157.1 63.9 L158.7 66.0 L161.0 65.4ZM174.2 89.9 L174.6 88.8 L172.3 88.0 L170.7 89.8 L170.9 90.2ZM136.3 31.9 L137.7 31.8 L138.2 30.0 L132.6 28.7 L133.6 31.1ZM86.9 3.9 L86.5 5.3 L86.9 6.2 L89.0 4.2ZM72.9 130.4 L73.9 131.8 L75.5 130.7 L73.1 128.0ZM124.9 69.6 L124.9 72.5 L127.5 71.8 L128.4 70.7 L126.4 68.2ZM100.2 140.7 L97.3 139.5 L96.2 141.4 L96.4 142.7 L98.8 143.8 L100.8 143.6ZM200.3 93.9 L201.2 92.5 L198.9 90.0 L197.3 89.5 L196.6 89.8 L195.4 91.3 L195.4 92.5 L196.4 93.7 L199.6 94.3ZM202.3 85.1 L204.3 83.2 L203.5 82.5ZM194.7 83.4 L195.5 84.3 L199.1 84.2 L198.5 82.1 L194.6 82.9ZM168.4 130.0 L169.6 130.8 L171.2 129.9 L171.5 128.8 L170.9 127.2ZM148.4 96.2 L148.0 97.1 L148.8 99.1 L151.0 96.7 L150.4 96.1ZM131.7 76.2 L129.5 76.5 L130.3 78.6 L131.3 77.8ZM180.6 70.1 L177.8 67.8 L177.5 68.2 L177.2 70.9 L180.5 70.6ZM165.6 85.8 L162.6 83.9 L161.7 85.1 L162.0 86.6 L165.6 86.5ZM109.4 31.2 L109.0 34.3 L111.8 34.4 L112.0 34.0 L111.8 32.3 L110.2 30.5ZM164.0 56.9 L164.0 56.1 L163.6 55.0 L160.9 55.3 L160.7 56.6ZM155.1 118.3 L154.5 119.0 L155.1 120.9 L156.2 120.5 L156.1 118.6ZM198.7 95.5 L196.6 95.1 L195.9 97.3 L196.6 98.1 L198.2 97.6ZM169.6 147.9 L171.5 145.9 L170.0 144.4 L168.1 146.4 L168.8 147.9ZM163.6 148.3 L167.5 149.6 L167.8 148.7 L167.0 146.8 L163.5 146.3 L162.7 146.8ZM90.8 30.6 L89.8 29.5 L87.7 30.8 L88.8 31.8 L89.9 33.7 L91.3 32.2ZM201.3 77.1 L198.7 78.1 L199.5 80.2 L200.2 80.0 L201.6 77.4ZM114.3 86.3 L112.8 85.7 L111.5 86.7 L112.6 89.8 L113.1 90.2 L115.9 88.4ZM112.6 37.6 L112.1 39.1 L112.4 40.0 L115.7 38.8 L115.7 38.6ZM146.2 108.9 L147.3 108.9 L147.8 108.2 L147.4 105.9 L144.3 103.3 L143.9 103.8ZM129.9 33.1 L129.2 35.2 L131.4 35.9 L131.9 35.7 L131.6 33.6ZM126.2 17.0 L126.7 15.5 L125.8 13.5 L124.4 13.2 L122.7 14.5 L123.4 16.2ZM156.5 150.7 L157.7 149.2 L156.2 146.5 L155.7 146.3 L154.8 149.2ZM78.7 8.2 L80.3 6.7 L79.6 4.8 L77.2 5.9ZM136.5 77.2 L135.4 76.0 L134.0 76.5 L135.2 78.3ZM172.6 95.5 L174.2 94.2 L171.7 93.5ZM169.1 66.7 L169.7 65.2 L169.6 65.0 L167.5 66.9ZM208.2 87.6 L207.8 88.6 L208.2 89.1 L209.9 89.9 L210.8 86.6 L210.4 86.1ZM91.9 30.9 L92.6 32.3 L96.0 31.2 L96.0 30.6ZM74.8 111.7 L73.9 112.3 L74.3 115.7 L76.0 116.1 L78.5 113.6ZM90.5 34.4 L91.4 36.5 L93.0 34.8 L91.9 33.0ZM159.5 49.4 L160.9 47.4 L159.5 46.0 L157.7 46.9 L157.8 48.2ZM179.4 76.7 L175.4 74.9 L175.4 74.9 L175.2 76.2 L176.9 78.0 L178.9 77.6ZM197.6 76.8 L197.9 77.0 L200.8 75.9 L200.8 74.9 L196.7 74.2ZM161.4 146.6 L159.6 145.3 L157.4 146.3 L158.6 148.4ZM178.4 66.5 L181.3 69.0 L182.4 67.9 L179.5 63.7 L178.1 63.2Z" fill="#8ab8b1"/>
<path d="M78.5 191.8 L81.2 199.8 L85.0 212.5 L89.3 218.2 L90.8 219.8 L92.2 218.2 L95.5 212.5 L101.0 206.0 L104.5 204.6 L114.0 202.2 L120.3 195.9 L118.7 191.9 L118.7 188.0 L126.6 185.6 L129.3 181.2 L134.0 178.2 L137.5 179.4 L139.5 182.3 L146.3 176.4 L147.3 165.7 L143.4 161.8 L145.3 158.0 L158.9 156.0 L170.6 155.0 L172.6 149.2 L170.6 139.5 L171.6 133.6 L178.4 131.7 L183.3 128.8 L181.3 123.9 L179.9 123.0 L178.0 117.2 L184.8 108.4 L183.8 105.5 L187.5 102.5 L190.5 98.7 L195.5 96.8 L196.6 98.1 L204.6 95.5 L205.7 93.6 L209.7 94.1 L216.6 87.2 L207.2 80.2 L199.5 70.0 L192.5 63.3 L185.5 57.5 L175.0 50.0 L172.3 47.7 L152.8 44.8 L145.0 40.9 L140.0 30.5 L133.0 17.5 L129.5 10.1 L122.3 9.3 L110.6 9.9 L105.0 10.7 L99.3 10.2 L94.2 8.0 L89.8 4.4 L86.2 3.4 L82.5 3.7 L78.5 5.2 L74.5 7.3 L70.5 12.4 L70.6 20.0 L72.3 24.8 L83.2 29.6 L86.0 29.3 L88.8 31.8 L92.6 38.6 L91.7 44.5 L95.6 45.4 L99.5 48.3 L101.4 54.2 L99.5 57.1 L102.4 61.0 L98.5 66.8 L99.5 70.7 L103.3 72.7 L102.4 76.6 L95.6 77.5 L95.6 82.4 L100.4 82.4 L101.4 87.3 L104.3 89.2 L103.3 92.1 L96.5 95.0 L95.6 99.9 L89.7 102.3 L83.4 103.8 L75.8 106.6 L72.0 112.0 L67.5 119.5 L67.5 125.0 L72.5 129.5 L72.0 137.0 L75.0 141.5 L82.0 143.5 L89.0 147.5 L85.0 155.0 L79.0 162.5 L71.0 167.5 L67.0 171.0 L70.0 176.0 L72.5 186.0 L68.8 190.0 L68.8 197.7 L74.6 198.7ZM70.6 196.2 L70.6 190.7 L73.9 187.1 L74.3 185.9 L71.7 175.4 L69.3 171.4 L72.1 168.9 L80.3 163.8 L86.5 156.0 L90.6 148.3 L90.8 147.5 L90.6 146.7 L90.0 146.0 L82.9 141.9 L76.1 140.0 L73.8 136.5 L74.2 128.9 L73.7 128.2 L69.3 124.2 L69.3 120.0 L73.5 113.0 L76.9 108.1 L83.9 105.5 L90.2 104.0 L96.6 101.4 L97.3 100.4 L98.1 96.3 L104.4 93.5 L105.0 92.7 L106.1 89.2 L105.6 87.9 L103.0 86.2 L102.1 81.9 L101.7 81.1 L100.6 80.6 L97.4 80.6 L97.4 79.1 L102.8 78.4 L103.6 77.9 L104.1 77.2 L105.1 72.9 L105.0 72.0 L104.4 71.3 L101.0 69.5 L100.4 67.1 L103.9 62.0 L104.2 61.0 L103.9 60.1 L101.7 57.0 L103.0 55.0 L103.2 54.2 L101.1 47.6 L100.6 46.9 L96.5 43.9 L93.7 43.1 L94.4 38.7 L94.2 37.9 L90.3 30.8 L87.2 28.0 L86.1 27.5 L83.5 27.8 L73.7 23.5 L72.4 19.7 L72.3 13.0 L75.7 8.7 L79.2 6.8 L82.9 5.5 L86.0 5.2 L89.0 6.0 L93.3 9.6 L99.0 12.0 L105.0 12.5 L110.8 11.7 L122.2 11.1 L128.3 11.8 L131.4 18.3 L138.4 31.3 L143.8 42.2 L152.4 46.5 L171.5 49.4 L174.0 51.5 L184.4 58.9 L191.3 64.6 L198.2 71.2 L205.9 81.4 L213.9 87.4 L209.0 92.2 L205.2 91.9 L204.3 92.4 L203.4 94.0 L197.2 96.0 L196.2 95.1 L195.0 95.1 L189.7 97.1 L186.2 101.2 L182.4 104.4 L182.0 105.7 L182.8 108.1 L176.6 116.1 L176.2 117.1 L178.3 123.7 L178.8 124.4 L179.8 125.1 L181.0 128.0 L177.7 130.0 L171.0 131.9 L170.0 132.8 L168.8 139.5 L170.7 149.1 L169.3 153.3 L158.6 154.2 L145.0 156.2 L144.1 156.6 L141.8 161.0 L141.6 161.8 L142.0 162.9 L145.4 166.4 L144.6 175.5 L139.8 179.6 L138.9 178.2 L138.3 177.8 L134.4 176.4 L133.4 176.5 L128.1 179.9 L125.4 184.1 L117.6 186.6 L116.9 187.8 L116.9 192.1 L118.2 195.5 L113.1 200.6 L104.1 202.9 L99.9 204.6 L94.0 211.5 L90.7 217.1 L86.6 211.7 L82.9 199.3 L79.8 190.6 L78.6 190.0 L77.3 190.5 L73.7 196.7ZM66.2 157.1 L66.4 155.5 L65.7 153.7 L64.4 152.1 L62.6 150.8 L60.6 150.2 L58.7 150.2 L57.6 150.6 L56.5 151.7 L56.2 153.3 L56.9 155.5 L58.2 157.1 L60.0 158.4 L62.0 159.0 L63.9 159.0 L65.4 158.4ZM64.4 156.8 L63.7 157.2 L62.6 157.3 L61.2 156.9 L60.1 156.3 L59.1 155.5 L58.3 154.3 L58.0 153.2 L58.2 152.4 L58.9 152.0 L60.0 151.9 L61.4 152.3 L62.5 152.9 L63.5 153.7 L64.3 154.9 L64.6 156.0Z" fill="#659c98" fill-opacity="0.7" fill-rule="evenodd"/>
<path d="M86.5 169.5 Q88 163 95.5 159.5 Q94.5 164 87.5 170Z" fill="#fff" stroke="#222" stroke-width="0.4"/>
<path d="M119.5 112.5 Q121 108 124 105.5 Q123.5 109 120.3 113Z" fill="#fff" stroke="#222" stroke-width="0.35"/>
<path d="M52 137 Q56 131 61 133 Q58 140 54 142 Q48 150 50 158 Q52 165 58 166 Q62 170 60 174" fill="none" stroke="#e6e6e6" stroke-width="0.5"/>
<path d="M101.4 54.2 L110.6 58.4 L118.4 52.6 L121.3 48.7 L122.3 39.9 L125.2 38.9 L129.5 41.8 L139.2 43.8 L145.0 40.9 M175.2 50.6 L169.4 58.4 L167.4 64.2 L162.6 69.1 L166.4 71.0 L163.4 79.2 L159.5 86.0 L160.4 91.8 L163.4 95.7 L164.3 102.6 L169.2 106.4 L174.1 108.4 L176.0 116.2 L175.0 122.0 L179.9 126.0 M104.3 89.2 L107.1 91.3 L111.9 96.1 L118.2 94.5 L124.5 90.5 L132.4 89.7 L137.2 92.1 L140.4 89.7 L147.8 88.9 L154.6 88.9 L159.5 86.0 M137.2 92.1 L136.4 100.8 L135.6 108.7 L129.3 108.7 L123.0 115.0 L116.6 119.0 L111.9 121.4 M60.0 113.5 L71.7 112.6 L85.0 111.1 L96.1 110.3 L97.7 114.3 L94.5 117.4 L93.7 121.4 L97.0 127.0 L100.8 132.4 M94.5 117.4 L99.2 116.6 L105.6 123.0 L111.9 121.4 L110.3 127.7 L112.4 129.7 L112.7 132.4 L108.7 137.2 L101.3 136.1 M135.6 108.7 L136.4 121.4 L140.9 125.0 L143.2 132.9 L147.2 140.8 L140.9 145.6 L135.3 147.9 L136.9 155.0 L139.3 159.0 L141.0 161.5 M112.4 129.7 L118.7 132.1 L126.6 130.5 L133.0 131.3 L132.2 136.1 L130.6 140.8 L125.0 144.0 M47.9 122.6 L50.8 126.8 L56.6 129.9 L60.0 130.0 L66.2 128.2 L74.0 125.3 L79.5 128.1 L85.0 132.4 L95.0 134.5 L101.3 136.1 L102.1 142.4 L107.7 145.6 M135.3 147.9 L131.4 144.0 L129.0 145.6 L125.0 144.0 L120.3 148.7 L114.0 147.1 L109.2 148.7 L107.7 145.6 L106.1 151.9 L101.3 156.6 L95.0 163.0 L86.5 170.3 L76.8 180.0 L70.7 188.5" fill="none" stroke="#2a2a2a" stroke-width="0.4" stroke-linejoin="round"/>
<path d="M70.5 12.4 L74.5 7.3 L78.5 5.2 L82.5 3.7 L86.2 3.4 L89.8 4.4 L94.2 8.0 L99.3 10.2 L105.0 10.7 L110.6 9.9 L122.3 9.3 L129.5 10.1 L133.0 17.5 L137.3 25.3 L140.0 30.5 L145.0 40.9 L152.8 44.8 L163.0 46.3 L172.3 47.7 L175.0 50.0 L185.5 57.5 L192.5 63.3 L199.5 70.0 L207.2 80.2 L216.6 87.2 L209.7 94.1 L205.7 93.6 L204.6 95.5 L196.6 98.1 L195.5 96.8 L190.5 98.7 L187.5 102.5 L183.8 105.5 L184.8 108.4 L181.8 112.3 L178.0 117.2 L179.9 123.0 L181.3 123.9 L183.3 128.8 L178.4 131.7 L171.6 133.6 L170.6 139.5 L172.6 149.2 L170.6 155.0 L158.9 156.0 L145.3 158.0 L143.4 161.8 L147.3 165.7 L146.3 176.4 L139.5 182.3 L137.5 179.4 L134.0 178.2 L129.3 181.2 L126.6 185.6 L118.7 188.0 L118.7 191.9 L120.3 195.9 L114.0 202.2 L104.5 204.6 L101.0 206.0 L95.5 212.5 L92.2 218.2 L90.8 219.8 L89.3 218.2 L85.0 212.5 L83.1 205.9 L81.2 199.8 L78.5 191.8 L74.6 198.7 L68.8 197.7 L68.8 188.9 L60.3 190.9 L50.6 191.8 L40.9 190.9 L33.1 186.0 L25.3 181.1 L17.5 176.3 L13.6 169.5 L8.8 159.7 L4.9 152.0 L13.6 141.8 L19.5 137.0 L29.2 133.1 L40.9 127.3 L54.5 118.5 L66.2 110.7 L75.6 106.7 L83.4 103.8 L89.7 102.3 L95.6 99.9 L96.5 95.0 L103.3 92.1 L104.3 89.2 L101.4 87.3 L100.4 82.4 L95.6 82.4 L95.6 77.5 L102.4 76.6 L103.3 72.7 L99.5 70.7 L98.5 66.8 L102.4 61.0 L99.5 57.1 L101.4 54.2 L99.5 48.3 L95.6 45.4 L91.7 44.5 L92.6 38.6 L88.8 31.8 L86.0 29.3 L83.2 29.6 L77.4 27.2 L72.3 24.8 L70.6 20.0Z" fill="none" stroke="#f0221e" stroke-width="1.0" stroke-linejoin="round"/>
<path d="M102.20 35.90L102.62 37.02L103.82 37.07L102.88 37.82L103.20 38.98L102.20 38.31L101.20 38.98L101.52 37.82L100.58 37.07L101.78 37.02ZM106.70 33.90L107.12 35.02L108.32 35.07L107.38 35.82L107.70 36.98L106.70 36.31L105.70 36.98L106.02 35.82L105.08 35.07L106.28 35.02ZM109.60 33.90L110.02 35.02L111.22 35.07L110.28 35.82L110.60 36.98L109.60 36.31L108.60 36.98L108.92 35.82L107.98 35.07L109.18 35.02ZM109.00 40.10L109.42 41.22L110.62 41.27L109.68 42.02L110.00 43.18L109.00 42.51L108.00 43.18L108.32 42.02L107.38 41.27L108.58 41.22ZM106.70 45.00L107.12 46.12L108.32 46.17L107.38 46.92L107.70 48.08L106.70 47.41L105.70 48.08L106.02 46.92L105.08 46.17L106.28 46.12ZM108.10 50.50L108.52 51.62L109.72 51.67L108.78 52.42L109.10 53.58L108.10 52.91L107.10 53.58L107.42 52.42L106.48 51.67L107.68 51.62ZM105.20 65.10L105.62 66.22L106.82 66.27L105.88 67.02L106.20 68.18L105.20 67.51L104.20 68.18L104.52 67.02L103.58 66.27L104.78 66.22ZM123.60 45.60L124.02 46.72L125.22 46.77L124.28 47.52L124.60 48.68L123.60 48.01L122.60 48.68L122.92 47.52L121.98 46.77L123.18 46.72ZM127.20 43.50L127.62 44.62L128.82 44.67L127.88 45.42L128.20 46.58L127.20 45.91L126.20 46.58L126.52 45.42L125.58 44.67L126.78 44.62ZM133.60 47.70L134.02 48.82L135.22 48.87L134.28 49.62L134.60 50.78L133.60 50.11L132.60 50.78L132.92 49.62L131.98 48.87L133.18 48.82ZM138.80 60.60L139.22 61.72L140.42 61.77L139.48 62.52L139.80 63.68L138.80 63.01L137.80 63.68L138.12 62.52L137.18 61.77L138.38 61.72ZM155.20 60.20L155.62 61.32L156.82 61.37L155.88 62.12L156.20 63.28L155.20 62.61L154.20 63.28L154.52 62.12L153.58 61.37L154.78 61.32ZM163.50 66.80L163.92 67.92L165.12 67.97L164.18 68.72L164.50 69.88L163.50 69.21L162.50 69.88L162.82 68.72L161.88 67.97L163.08 67.92ZM163.50 70.70L163.92 71.82L165.12 71.87L164.18 72.62L164.50 73.78L163.50 73.11L162.50 73.78L162.82 72.62L161.88 71.87L163.08 71.82ZM112.60 89.40L113.02 90.52L114.22 90.57L113.28 91.32L113.60 92.48L112.60 91.81L111.60 92.48L111.92 91.32L110.98 90.57L112.18 90.52ZM110.80 90.60L111.22 91.72L112.42 91.77L111.48 92.52L111.80 93.68L110.80 93.01L109.80 93.68L110.12 92.52L109.18 91.77L110.38 91.72ZM114.00 90.60L114.42 91.72L115.62 91.77L114.68 92.52L115.00 93.68L114.00 93.01L113.00 93.68L113.32 92.52L112.38 91.77L113.58 91.72ZM109.60 94.30L110.02 95.42L111.22 95.47L110.28 96.22L110.60 97.38L109.60 96.71L108.60 97.38L108.92 96.22L107.98 95.47L109.18 95.42ZM105.70 94.90L106.12 96.02L107.32 96.07L106.38 96.82L106.70 97.98L105.70 97.31L104.70 97.98L105.02 96.82L104.08 96.07L105.28 96.02ZM116.40 93.30L116.82 94.42L118.02 94.47L117.08 95.22L117.40 96.38L116.40 95.71L115.40 96.38L115.72 95.22L114.78 94.47L115.98 94.42ZM101.30 99.20L101.72 100.32L102.92 100.37L101.98 101.12L102.30 102.28L101.30 101.61L100.30 102.28L100.62 101.12L99.68 100.37L100.88 100.32ZM96.00 103.10L96.42 104.22L97.62 104.27L96.68 105.02L97.00 106.18L96.00 105.51L95.00 106.18L95.32 105.02L94.38 104.27L95.58 104.22ZM81.80 107.00L82.22 108.12L83.42 108.17L82.48 108.92L82.80 110.08L81.80 109.41L80.80 110.08L81.12 108.92L80.18 108.17L81.38 108.12ZM65.80 118.30L66.22 119.42L67.42 119.47L66.48 120.22L66.80 121.38L65.80 120.71L64.80 121.38L65.12 120.22L64.18 119.47L65.38 119.42ZM83.00 117.20L83.42 118.32L84.62 118.37L83.68 119.12L84.00 120.28L83.00 119.61L82.00 120.28L82.32 119.12L81.38 118.37L82.58 118.32ZM64.90 124.10L65.32 125.22L66.52 125.27L65.58 126.02L65.90 127.18L64.90 126.51L63.90 127.18L64.22 126.02L63.28 125.27L64.48 125.22ZM72.70 126.40L73.12 127.52L74.32 127.57L73.38 128.32L73.70 129.48L72.70 128.81L71.70 129.48L72.02 128.32L71.08 127.57L72.28 127.52ZM101.80 120.60L102.22 121.72L103.42 121.77L102.48 122.52L102.80 123.68L101.80 123.01L100.80 123.68L101.12 122.52L100.18 121.77L101.38 121.72ZM116.40 110.90L116.82 112.02L118.02 112.07L117.08 112.82L117.40 113.98L116.40 113.31L115.40 113.98L115.72 112.82L114.78 112.07L115.98 112.02ZM123.30 107.90L123.72 109.02L124.92 109.07L123.98 109.82L124.30 110.98L123.30 110.31L122.30 110.98L122.62 109.82L121.68 109.07L122.88 109.02ZM122.70 113.80L123.12 114.92L124.32 114.97L123.38 115.72L123.70 116.88L122.70 116.21L121.70 116.88L122.02 115.72L121.08 114.97L122.28 114.92ZM133.60 115.70L134.02 116.82L135.22 116.87L134.28 117.62L134.60 118.78L133.60 118.11L132.60 118.78L132.92 117.62L131.98 116.87L133.18 116.82ZM136.90 119.60L137.32 120.72L138.52 120.77L137.58 121.52L137.90 122.68L136.90 122.01L135.90 122.68L136.22 121.52L135.28 120.77L136.48 120.72ZM122.30 126.40L122.72 127.52L123.92 127.57L122.98 128.32L123.30 129.48L122.30 128.81L121.30 129.48L121.62 128.32L120.68 127.57L121.88 127.52ZM129.10 125.50L129.52 126.62L130.72 126.67L129.78 127.42L130.10 128.58L129.10 127.91L128.10 128.58L128.42 127.42L127.48 126.67L128.68 126.62ZM137.90 125.50L138.32 126.62L139.52 126.67L138.58 127.42L138.90 128.58L137.90 127.91L136.90 128.58L137.22 127.42L136.28 126.67L137.48 126.62ZM120.30 132.30L120.72 133.42L121.92 133.47L120.98 134.22L121.30 135.38L120.30 134.71L119.30 135.38L119.62 134.22L118.68 133.47L119.88 133.42ZM126.20 132.30L126.62 133.42L127.82 133.47L126.88 134.22L127.20 135.38L126.20 134.71L125.20 135.38L125.52 134.22L124.58 133.47L125.78 133.42ZM116.40 133.30L116.82 134.42L118.02 134.47L117.08 135.22L117.40 136.38L116.40 135.71L115.40 136.38L115.72 135.22L114.78 134.47L115.98 134.42ZM95.00 133.30L95.42 134.42L96.62 134.47L95.68 135.22L96.00 136.38L95.00 135.71L94.00 136.38L94.32 135.22L93.38 134.47L94.58 134.42ZM143.70 100.50L144.12 101.62L145.32 101.67L144.38 102.42L144.70 103.58L143.70 102.91L142.70 103.58L143.02 102.42L142.08 101.67L143.28 101.62ZM141.20 113.80L141.62 114.92L142.82 114.97L141.88 115.72L142.20 116.88L141.20 116.21L140.20 116.88L140.52 115.72L139.58 114.97L140.78 114.92ZM137.60 128.40L138.02 129.52L139.22 129.57L138.28 130.32L138.60 131.48L137.60 130.81L136.60 131.48L136.92 130.32L135.98 129.57L137.18 129.52ZM149.80 124.80L150.22 125.92L151.42 125.97L150.48 126.72L150.80 127.88L149.80 127.21L148.80 127.88L149.12 126.72L148.18 125.97L149.38 125.92ZM123.00 135.70L123.42 136.82L124.62 136.87L123.68 137.62L124.00 138.78L123.00 138.11L122.00 138.78L122.32 137.62L121.38 136.87L122.58 136.82ZM130.30 139.40L130.72 140.52L131.92 140.57L130.98 141.32L131.30 142.48L130.30 141.81L129.30 142.48L129.62 141.32L128.68 140.57L129.88 140.52ZM76.80 138.20L77.22 139.32L78.42 139.37L77.48 140.12L77.80 141.28L76.80 140.61L75.80 141.28L76.12 140.12L75.18 139.37L76.38 139.32ZM86.50 138.20L86.92 139.32L88.12 139.37L87.18 140.12L87.50 141.28L86.50 140.61L85.50 141.28L85.82 140.12L84.88 139.37L86.08 139.32ZM91.40 149.10L91.82 150.22L93.02 150.27L92.08 151.02L92.40 152.18L91.40 151.51L90.40 152.18L90.72 151.02L89.78 150.27L90.98 150.22ZM91.40 152.00L91.82 153.12L93.02 153.17L92.08 153.92L92.40 155.08L91.40 154.41L90.40 155.08L90.72 153.92L89.78 153.17L90.98 153.12ZM98.70 146.70L99.12 147.82L100.32 147.87L99.38 148.62L99.70 149.78L98.70 149.11L97.70 149.78L98.02 148.62L97.08 147.87L98.28 147.82ZM103.00 142.30L103.42 143.42L104.62 143.47L103.68 144.22L104.00 145.38L103.00 144.71L102.00 145.38L102.32 144.22L101.38 143.47L102.58 143.42ZM108.40 140.60L108.82 141.72L110.02 141.77L109.08 142.52L109.40 143.68L108.40 143.01L107.40 143.68L107.72 142.52L106.78 141.77L107.98 141.72ZM109.60 146.70L110.02 147.82L111.22 147.87L110.28 148.62L110.60 149.78L109.60 149.11L108.60 149.78L108.92 148.62L107.98 147.87L109.18 147.82ZM123.50 145.50L123.92 146.62L125.12 146.67L124.18 147.42L124.50 148.58L123.50 147.91L122.50 148.58L122.82 147.42L121.88 146.67L123.08 146.62ZM115.20 151.10L115.62 152.22L116.82 152.27L115.88 153.02L116.20 154.18L115.20 153.51L114.20 154.18L114.52 153.02L113.58 152.27L114.78 152.22ZM127.90 152.80L128.32 153.92L129.52 153.97L128.58 154.72L128.90 155.88L127.90 155.21L126.90 155.88L127.22 154.72L126.28 153.97L127.48 153.92ZM138.80 156.40L139.22 157.52L140.42 157.57L139.48 158.32L139.80 159.48L138.80 158.81L137.80 159.48L138.12 158.32L137.18 157.57L138.38 157.52ZM137.60 160.10L138.02 161.22L139.22 161.27L138.28 162.02L138.60 163.18L137.60 162.51L136.60 163.18L136.92 162.02L135.98 161.27L137.18 161.22ZM113.70 165.70L114.12 166.82L115.32 166.87L114.38 167.62L114.70 168.78L113.70 168.11L112.70 168.78L113.02 167.62L112.08 166.87L113.28 166.82ZM140.50 168.10L140.92 169.22L142.12 169.27L141.18 170.02L141.50 171.18L140.50 170.51L139.50 171.18L139.82 170.02L138.88 169.27L140.08 169.22ZM139.50 173.90L139.92 175.02L141.12 175.07L140.18 175.82L140.50 176.98L139.50 176.31L138.50 176.98L138.82 175.82L137.88 175.07L139.08 175.02ZM52.90 155.90L53.32 157.02L54.52 157.07L53.58 157.82L53.90 158.98L52.90 158.31L51.90 158.98L52.22 157.82L51.28 157.07L52.48 157.02ZM68.20 167.40L68.62 168.52L69.82 168.57L68.88 169.32L69.20 170.48L68.20 169.81L67.20 170.48L67.52 169.32L66.58 168.57L67.78 168.52ZM70.70 165.70L71.12 166.82L72.32 166.87L71.38 167.62L71.70 168.78L70.70 168.11L69.70 168.78L70.02 167.62L69.08 166.87L70.28 166.82ZM73.10 167.40L73.52 168.52L74.72 168.57L73.78 169.32L74.10 170.48L73.10 169.81L72.10 170.48L72.42 169.32L71.48 168.57L72.68 168.52ZM69.50 169.80L69.92 170.92L71.12 170.97L70.18 171.72L70.50 172.88L69.50 172.21L68.50 172.88L68.82 171.72L67.88 170.97L69.08 170.92ZM79.20 164.20L79.62 165.32L80.82 165.37L79.88 166.12L80.20 167.28L79.20 166.61L78.20 167.28L78.52 166.12L77.58 165.37L78.78 165.32ZM87.70 180.80L88.12 181.92L89.32 181.97L88.38 182.72L88.70 183.88L87.70 183.21L86.70 183.88L87.02 182.72L86.08 181.97L87.28 181.92ZM96.20 182.00L96.62 183.12L97.82 183.17L96.88 183.92L97.20 185.08L96.20 184.41L95.20 185.08L95.52 183.92L94.58 183.17L95.78 183.12ZM102.30 181.20L102.72 182.32L103.92 182.37L102.98 183.12L103.30 184.28L102.30 183.61L101.30 184.28L101.62 183.12L100.68 182.37L101.88 182.32ZM116.90 180.80L117.32 181.92L118.52 181.97L117.58 182.72L117.90 183.88L116.90 183.21L115.90 183.88L116.22 182.72L115.28 181.97L116.48 181.92ZM90.20 151.20L90.62 152.32L91.82 152.37L90.88 153.12L91.20 154.28L90.20 153.61L89.20 154.28L89.52 153.12L88.58 152.37L89.78 152.32ZM71.70 163.90L72.12 165.02L73.32 165.07L72.38 165.82L72.70 166.98L71.70 166.31L70.70 166.98L71.02 165.82L70.08 165.07L71.28 165.02ZM66.80 171.30L67.22 172.42L68.42 172.47L67.48 173.22L67.80 174.38L66.80 173.71L65.80 174.38L66.12 173.22L65.18 172.47L66.38 172.42ZM92.10 190.10L92.52 191.22L93.72 191.27L92.78 192.02L93.10 193.18L92.10 192.51L91.10 193.18L91.42 192.02L90.48 191.27L91.68 191.22ZM98.90 189.20L99.32 190.32L100.52 190.37L99.58 191.12L99.90 192.28L98.90 191.61L97.90 192.28L98.22 191.12L97.28 190.37L98.48 190.32ZM105.70 194.60L106.12 195.72L107.32 195.77L106.38 196.52L106.70 197.68L105.70 197.01L104.70 197.68L105.02 196.52L104.08 195.77L105.28 195.72ZM111.00 197.90L111.42 199.02L112.62 199.07L111.68 199.82L112.00 200.98L111.00 200.31L110.00 200.98L110.32 199.82L109.38 199.07L110.58 199.02ZM90.20 195.00L90.62 196.12L91.82 196.17L90.88 196.92L91.20 198.08L90.20 197.41L89.20 198.08L89.52 196.92L88.58 196.17L89.78 196.12ZM96.00 198.90L96.42 200.02L97.62 200.07L96.68 200.82L97.00 201.98L96.00 201.31L95.00 201.98L95.32 200.82L94.38 200.07L95.58 200.02ZM89.20 207.70L89.62 208.82L90.82 208.87L89.88 209.62L90.20 210.78L89.20 210.11L88.20 210.78L88.52 209.62L87.58 208.87L88.78 208.82ZM94.60 205.70L95.02 206.82L96.22 206.87L95.28 207.62L95.60 208.78L94.60 208.11L93.60 208.78L93.92 207.62L92.98 206.87L94.18 206.82ZM135.60 119.90L136.02 121.02L137.22 121.07L136.28 121.82L136.60 122.98L135.60 122.31L134.60 122.98L134.92 121.82L133.98 121.07L135.18 121.02ZM138.50 119.30L138.92 120.42L140.12 120.47L139.18 121.22L139.50 122.38L138.50 121.71L137.50 122.38L137.82 121.22L136.88 120.47L138.08 120.42ZM163.80 128.00L164.22 129.12L165.42 129.17L164.48 129.92L164.80 131.08L163.80 130.41L162.80 131.08L163.12 129.92L162.18 129.17L163.38 129.12ZM170.60 130.00L171.02 131.12L172.22 131.17L171.28 131.92L171.60 133.08L170.60 132.41L169.60 133.08L169.92 131.92L168.98 131.17L170.18 131.12ZM166.70 124.10L167.12 125.22L168.32 125.27L167.38 126.02L167.70 127.18L166.70 126.51L165.70 127.18L166.02 126.02L165.08 125.27L166.28 125.22ZM150.20 136.80L150.62 137.92L151.82 137.97L150.88 138.72L151.20 139.88L150.20 139.21L149.20 139.88L149.52 138.72L148.58 137.97L149.78 137.92ZM124.90 145.60L125.32 146.72L126.52 146.77L125.58 147.52L125.90 148.68L124.90 148.01L123.90 148.68L124.22 147.52L123.28 146.77L124.48 146.72ZM161.80 149.40L162.22 150.52L163.42 150.57L162.48 151.32L162.80 152.48L161.80 151.81L160.80 152.48L161.12 151.32L160.18 150.57L161.38 150.52ZM163.40 148.90L163.82 150.02L165.02 150.07L164.08 150.82L164.40 151.98L163.40 151.31L162.40 151.98L162.72 150.82L161.78 150.07L162.98 150.02ZM155.20 87.20L155.62 88.32L156.82 88.37L155.88 89.12L156.20 90.28L155.20 89.61L154.20 90.28L154.52 89.12L153.58 88.37L154.78 88.32ZM163.00 85.30L163.42 86.42L164.62 86.47L163.68 87.22L164.00 88.38L163.00 87.71L162.00 88.38L162.32 87.22L161.38 86.47L162.58 86.42ZM158.50 116.00L158.92 117.12L160.12 117.17L159.18 117.92L159.50 119.08L158.50 118.41L157.50 119.08L157.82 117.92L156.88 117.17L158.08 117.12ZM167.20 118.80L167.62 119.92L168.82 119.97L167.88 120.72L168.20 121.88L167.20 121.21L166.20 121.88L166.52 120.72L165.58 119.97L166.78 119.92ZM112.00 126.30L112.42 127.42L113.62 127.47L112.68 128.22L113.00 129.38L112.00 128.71L111.00 129.38L111.32 128.22L110.38 127.47L111.58 127.42ZM114.50 128.30L114.92 129.42L116.12 129.47L115.18 130.22L115.50 131.38L114.50 130.71L113.50 131.38L113.82 130.22L112.88 129.47L114.08 129.42ZM118.00 128.80L118.42 129.92L119.62 129.97L118.68 130.72L119.00 131.88L118.00 131.21L117.00 131.88L117.32 130.72L116.38 129.97L117.58 129.92ZM121.00 129.80L121.42 130.92L122.62 130.97L121.68 131.72L122.00 132.88L121.00 132.21L120.00 132.88L120.32 131.72L119.38 130.97L120.58 130.92ZM117.00 125.30L117.42 126.42L118.62 126.47L117.68 127.22L118.00 128.38L117.00 127.71L116.00 128.38L116.32 127.22L115.38 126.47L116.58 126.42ZM119.50 131.30L119.92 132.42L121.12 132.47L120.18 133.22L120.50 134.38L119.50 133.71L118.50 134.38L118.82 133.22L117.88 132.47L119.08 132.42Z" fill="#111"/>
<text x="95.4" y="29.4" font-size="5.40" font-family="Liberation Mono, Noto Sans CJK SC, monospace" text-anchor="start" fill="#333" textLength="29.8" lengthAdjust="spacingAndGlyphs" >Zhangjiagang</text>
<text x="122.8" y="69.7" font-size="5.40" font-family="Liberation Mono, Noto Sans CJK SC, monospace" text-anchor="start" fill="#333" textLength="19.5" lengthAdjust="spacingAndGlyphs" >Changshu</text>
<text x="177.4" y="86.6" font-size="5.40" font-family="Liberation Mono, Noto Sans CJK SC, monospace" text-anchor="start" fill="#333" textLength="16.7" lengthAdjust="spacingAndGlyphs" >Taicang</text>
<text x="97.0" y="106.4" font-size="5.40" font-family="Liberation Mono, Noto Sans CJK SC, monospace" text-anchor="start" fill="#333" textLength="25.3" lengthAdjust="spacingAndGlyphs" >Xiangcheng</text>
<text x="68.3" y="120.8" font-size="5.40" font-family="Liberation Mono, Noto Sans CJK SC, monospace" text-anchor="start" fill="#333" textLength="12.7" lengthAdjust="spacingAndGlyphs" >Huqiu</text>
<text x="45.7" y="153.6" font-size="5.40" font-family="Liberation Mono, Noto Sans CJK SC, monospace" text-anchor="start" fill="#333" textLength="16.6" lengthAdjust="spacingAndGlyphs" >Wuzhong</text>
<text x="100.0" y="127.6" font-size="5.40" font-family="Liberation Mono, Noto Sans CJK SC, monospace" text-anchor="start" fill="#333" textLength="10.8" lengthAdjust="spacingAndGlyphs" >Gusu</text>
<text x="108.0" y="124.1" font-size="5.40" font-family="Liberation Mono, Noto Sans CJK SC, monospace" text-anchor="start" fill="#333" textLength="12.0" lengthAdjust="spacingAndGlyphs" >Gongye</text>
<text x="115.0" y="136.6" font-size="5.40" font-family="Liberation Mono, Noto Sans CJK SC, monospace" text-anchor="start" fill="#333" textLength="15.0" lengthAdjust="spacingAndGlyphs" >Yuanqu</text>
<text x="108.4" y="175.5" font-size="5.40" font-family="Liberation Mono, Noto Sans CJK SC, monospace" text-anchor="start" fill="#333" textLength="17.0" lengthAdjust="spacingAndGlyphs" >Wujiang</text>
<text x="152.1" y="126.5" font-size="5.40" font-family="Liberation Mono, Noto Sans CJK SC, monospace" text-anchor="start" fill="#333" textLength="15.6" lengthAdjust="spacingAndGlyphs" >Kunshan</text>
</g>
<text x="4.8" y="10.6" font-size="6.40" font-family="Liberation Serif, Noto Serif CJK SC, serif" text-anchor="start" fill="#222" textLength="16.0" lengthAdjust="spacingAndGlyphs" font-weight="bold">Legend</text>
<path d="M9.60 15.10L10.04 16.29L11.31 16.34L10.32 17.13L10.66 18.36L9.60 17.66L8.54 18.36L8.88 17.13L7.89 16.34L9.16 16.29Z" fill="#111"/>
<text x="17.1" y="18.7" font-size="5.40" font-family="Liberation Mono, Noto Sans CJK SC, monospace" text-anchor="start" fill="#333" textLength="38.0" lengthAdjust="spacingAndGlyphs" font-weight="bold">Traditional villages</text>
<text x="4.4" y="25.1" font-size="5.40" font-family="Liberation Mono, Noto Sans CJK SC, monospace" text-anchor="start" fill="#333" textLength="43.7" lengthAdjust="spacingAndGlyphs" font-weight="bold">Distance to river (m)</text>
<rect x="4.4" y="28.6" width="10.7" height="4.9" fill="#bdf6e8" stroke="#888" stroke-width="0.45"/>
<text x="17.1" y="32.7" font-size="4.70" font-family="Liberation Mono, Noto Sans CJK SC, monospace" text-anchor="start" fill="#505050" textLength="6.2" lengthAdjust="spacingAndGlyphs" >500</text>
<rect x="4.4" y="35.9" width="10.7" height="4.9" fill="#9cf1e1" stroke="#888" stroke-width="0.45"/>
<text x="17.1" y="40.0" font-size="4.70" font-family="Liberation Mono, Noto Sans CJK SC, monospace" text-anchor="start" fill="#505050" textLength="8.3" lengthAdjust="spacingAndGlyphs" >1000</text>
<rect x="4.4" y="43.1" width="10.7" height="4.9" fill="#7fe9d9" stroke="#888" stroke-width="0.45"/>
<text x="17.1" y="47.2" font-size="4.70" font-family="Liberation Mono, Noto Sans CJK SC, monospace" text-anchor="start" fill="#505050" textLength="8.3" lengthAdjust="spacingAndGlyphs" >1500</text>
<rect x="4.4" y="50.4" width="10.7" height="4.9" fill="#67c2c0" stroke="#888" stroke-width="0.45"/>
<text x="17.1" y="54.5" font-size="4.70" font-family="Liberation Mono, Noto Sans CJK SC, monospace" text-anchor="start" fill="#505050" textLength="8.3" lengthAdjust="spacingAndGlyphs" >2000</text>
<rect x="4.4" y="57.6" width="10.7" height="4.9" fill="#4f9f98" stroke="#888" stroke-width="0.45"/>
<text x="17.1" y="61.7" font-size="4.70" font-family="Liberation Mono, Noto Sans CJK SC, monospace" text-anchor="start" fill="#505050" textLength="8.3" lengthAdjust="spacingAndGlyphs" >2500</text>
<rect x="4.4" y="64.8" width="10.7" height="4.9" fill="#2e6262" stroke="#888" stroke-width="0.45"/>
<text x="17.1" y="68.9" font-size="4.70" font-family="Liberation Mono, Noto Sans CJK SC, monospace" text-anchor="start" fill="#505050" textLength="8.3" lengthAdjust="spacingAndGlyphs" >3000</text>
<rect x="1.5" y="1.5" width="221" height="220.8" fill="none" stroke="#2b2b2b" stroke-width="1"/>
<text x="208.0" y="17.0" font-size="6.70" font-family="Liberation Sans, sans-serif" text-anchor="middle" fill="#111" >N</text>
<path d="M207.8 19 L202.7 35 L207.8 29.4Z" fill="#111" stroke="#111" stroke-width="0.4"/>
<path d="M207.8 19 L212.9 34.8 L207.8 29.4Z" fill="#fff" stroke="#111" stroke-width="0.5"/>
<path d="M163.1 214.3 H194.7 M163.10 214.3 v-5.0 M167.05 214.3 v-2.8 M171.00 214.3 v-2.8 M174.95 214.3 v-2.8 M178.90 214.3 v-5.0 M182.85 214.3 v-2.8 M186.80 214.3 v-2.8 M190.75 214.3 v-2.8 M194.70 214.3 v-5.0" fill="none" stroke="#111" stroke-width="0.85"/>
<text x="161.8" y="204.9" font-size="6.70" font-family="Liberation Sans, sans-serif" text-anchor="start" fill="#222" >0</text>
<text x="169.2" y="204.9" font-size="6.70" font-family="Liberation Sans, sans-serif" text-anchor="start" fill="#222" >5</text>
<text x="175.3" y="204.9" font-size="6.70" font-family="Liberation Sans, sans-serif" text-anchor="start" fill="#222" textLength="7.4" lengthAdjust="spacingAndGlyphs" >10</text>
<text x="189.6" y="204.9" font-size="6.70" font-family="Liberation Sans, sans-serif" text-anchor="start" fill="#222" textLength="20.4" lengthAdjust="spacingAndGlyphs" >20 km</text>
</g>
<rect x="19.61" y="368.75" width="27.77" height="13.75" fill="#7cbcab" stroke="#e4695a" stroke-width="0.5"/>
<text x="33.5" y="367.1" font-size="7.50" font-family="Liberation Serif, Noto Serif CJK SC, serif" text-anchor="middle" fill="#333" >5</text>
<rect x="48.79" y="366.01" width="27.77" height="16.49" fill="#7cbcab" stroke="#e4695a" stroke-width="0.5"/>
<text x="62.7" y="364.3" font-size="7.50" font-family="Liberation Serif, Noto Serif CJK SC, serif" text-anchor="middle" fill="#333" >6</text>
<rect x="77.95" y="333.02" width="27.77" height="49.48" fill="#7cbcab" stroke="#e4695a" stroke-width="0.5"/>
<text x="91.8" y="331.3" font-size="7.50" font-family="Liberation Serif, Noto Serif CJK SC, serif" text-anchor="middle" fill="#333" >18</text>
<rect x="107.13" y="250.54" width="27.77" height="131.96" fill="#7cbcab" stroke="#e4695a" stroke-width="0.5"/>
<text x="121.0" y="248.8" font-size="7.50" font-family="Liberation Serif, Noto Serif CJK SC, serif" text-anchor="middle" fill="#333" >48</text>
<rect x="136.29" y="349.51" width="27.77" height="32.99" fill="#7cbcab" stroke="#e4695a" stroke-width="0.5"/>
<text x="150.2" y="347.8" font-size="7.50" font-family="Liberation Serif, Noto Serif CJK SC, serif" text-anchor="middle" fill="#333" >12</text>
<rect x="165.47" y="338.51" width="27.77" height="43.99" fill="#7cbcab" stroke="#e4695a" stroke-width="0.5"/>
<text x="179.4" y="336.8" font-size="7.50" font-family="Liberation Serif, Noto Serif CJK SC, serif" text-anchor="middle" fill="#333" >16</text>
<rect x="194.63" y="377.00" width="27.77" height="5.50" fill="#7cbcab" stroke="#e4695a" stroke-width="0.5"/>
<text x="208.5" y="375.3" font-size="7.50" font-family="Liberation Serif, Noto Serif CJK SC, serif" text-anchor="middle" fill="#333" >2</text>
<path d="M18.5 231.3 H223.1 V382.5" fill="none" stroke="#666" stroke-width="0.65"/>
<path d="M18.5 231.3 V382.5 H223.1" fill="none" stroke="#333" stroke-width="0.75"/>
<text x="15.2" y="384.8" font-size="7.00" font-family="Liberation Serif, Noto Serif CJK SC, serif" text-anchor="end" fill="#333" textLength="3.1" lengthAdjust="spacingAndGlyphs" >0</text>
<text x="15.2" y="357.3" font-size="7.00" font-family="Liberation Serif, Noto Serif CJK SC, serif" text-anchor="end" fill="#333" textLength="6.2" lengthAdjust="spacingAndGlyphs" >10</text>
<text x="15.2" y="329.8" font-size="7.00" font-family="Liberation Serif, Noto Serif CJK SC, serif" text-anchor="end" fill="#333" textLength="6.2" lengthAdjust="spacingAndGlyphs" >20</text>
<text x="15.2" y="302.3" font-size="7.00" font-family="Liberation Serif, Noto Serif CJK SC, serif" text-anchor="end" fill="#333" textLength="6.2" lengthAdjust="spacingAndGlyphs" >30</text>
<text x="15.2" y="274.8" font-size="7.00" font-family="Liberation Serif, Noto Serif CJK SC, serif" text-anchor="end" fill="#333" textLength="6.2" lengthAdjust="spacingAndGlyphs" >40</text>
<text x="15.2" y="247.3" font-size="7.00" font-family="Liberation Serif, Noto Serif CJK SC, serif" text-anchor="end" fill="#333" textLength="6.2" lengthAdjust="spacingAndGlyphs" >50</text>
<text x="33.5" y="389.5" font-size="7.00" font-family="Liberation Serif, Noto Serif CJK SC, serif" text-anchor="middle" fill="#333" textLength="12.4" lengthAdjust="spacingAndGlyphs" >1200</text>
<text x="62.7" y="389.5" font-size="7.00" font-family="Liberation Serif, Noto Serif CJK SC, serif" text-anchor="middle" fill="#333" textLength="12.4" lengthAdjust="spacingAndGlyphs" >1250</text>
<text x="91.8" y="389.5" font-size="7.00" font-family="Liberation Serif, Noto Serif CJK SC, serif" text-anchor="middle" fill="#333" textLength="12.4" lengthAdjust="spacingAndGlyphs" >1300</text>
<text x="121.0" y="389.5" font-size="7.00" font-family="Liberation Serif, Noto Serif CJK SC, serif" text-anchor="middle" fill="#333" textLength="12.4" lengthAdjust="spacingAndGlyphs" >1350</text>
<text x="150.2" y="389.5" font-size="7.00" font-family="Liberation Serif, Noto Serif CJK SC, serif" text-anchor="middle" fill="#333" textLength="12.4" lengthAdjust="spacingAndGlyphs" >1400</text>
<text x="179.4" y="389.5" font-size="7.00" font-family="Liberation Serif, Noto Serif CJK SC, serif" text-anchor="middle" fill="#333" textLength="12.4" lengthAdjust="spacingAndGlyphs" >1450</text>
<text x="208.5" y="389.5" font-size="7.00" font-family="Liberation Serif, Noto Serif CJK SC, serif" text-anchor="middle" fill="#333" textLength="12.4" lengthAdjust="spacingAndGlyphs" >1500</text>
<path d="M18.5 382.50 h-2.6 M18.5 355.01 h-2.6 M18.5 327.52 h-2.6 M18.5 300.03 h-2.6 M18.5 272.54 h-2.6 M18.5 245.05 h-2.6 M18.5 368.75 h-1.5 M18.5 341.26 h-1.5 M18.5 313.77 h-1.5 M18.5 286.28 h-1.5 M18.5 258.79 h-1.5 M33.50 382.5 v2.6 M62.67 382.5 v2.6 M91.84 382.5 v2.6 M121.01 382.5 v2.6 M150.18 382.5 v2.6 M179.35 382.5 v2.6 M208.52 382.5 v2.6 " fill="none" stroke="#333" stroke-width="0.6"/>
<text x="77.4" y="398.4" font-size="7.00" font-family="Liberation Mono, Noto Sans CJK SC, monospace" text-anchor="start" fill="#333" textLength="86.6" lengthAdjust="spacingAndGlyphs" >Annual precipitation (mm)</text>
<text x="112.0" y="408.8" font-size="7.50" font-family="Liberation Serif, Noto Serif CJK SC, serif" text-anchor="middle" fill="#222" >a</text>
<text transform="translate(6.8 308.4) rotate(-90)" font-size="7" font-family="Liberation Mono, Noto Sans CJK SC, monospace" text-anchor="middle" fill="#333" textLength="63" lengthAdjust="spacingAndGlyphs">Number of villages</text>
<rect x="249.90" y="342.23" width="24.20" height="40.27" fill="#7cbcab" stroke="#e4695a" stroke-width="0.5"/>
<text x="262.0" y="340.5" font-size="7.50" font-family="Liberation Serif, Noto Serif CJK SC, serif" text-anchor="middle" fill="#333" >8</text>
<rect x="275.40" y="342.23" width="24.20" height="40.27" fill="#7cbcab" stroke="#e4695a" stroke-width="0.5"/>
<text x="287.5" y="340.5" font-size="7.50" font-family="Liberation Serif, Noto Serif CJK SC, serif" text-anchor="middle" fill="#333" >8</text>
<rect x="300.90" y="342.23" width="24.20" height="40.27" fill="#7cbcab" stroke="#e4695a" stroke-width="0.5"/>
<text x="313.0" y="340.5" font-size="7.50" font-family="Liberation Serif, Noto Serif CJK SC, serif" text-anchor="middle" fill="#333" >8</text>
<rect x="326.40" y="251.63" width="24.20" height="130.87" fill="#7cbcab" stroke="#e4695a" stroke-width="0.5"/>
<text x="338.5" y="249.9" font-size="7.50" font-family="Liberation Serif, Noto Serif CJK SC, serif" text-anchor="middle" fill="#333" >26</text>
<rect x="351.90" y="266.73" width="24.20" height="115.77" fill="#7cbcab" stroke="#e4695a" stroke-width="0.5"/>
<text x="364.0" y="265.0" font-size="7.50" font-family="Liberation Serif, Noto Serif CJK SC, serif" text-anchor="middle" fill="#333" >23</text>
<rect x="377.40" y="296.93" width="24.20" height="85.57" fill="#7cbcab" stroke="#e4695a" stroke-width="0.5"/>
<text x="389.5" y="295.2" font-size="7.50" font-family="Liberation Serif, Noto Serif CJK SC, serif" text-anchor="middle" fill="#333" >17</text>
<rect x="402.90" y="332.17" width="24.20" height="50.33" fill="#7cbcab" stroke="#e4695a" stroke-width="0.5"/>
<text x="415.0" y="330.5" font-size="7.50" font-family="Liberation Serif, Noto Serif CJK SC, serif" text-anchor="middle" fill="#333" >10</text>
<rect x="428.40" y="347.27" width="24.20" height="35.23" fill="#7cbcab" stroke="#e4695a" stroke-width="0.5"/>
<text x="440.5" y="345.6" font-size="7.50" font-family="Liberation Serif, Noto Serif CJK SC, serif" text-anchor="middle" fill="#333" >7</text>
<path d="M249.2 231.5 H453.2 V382.5" fill="none" stroke="#666" stroke-width="0.65"/>
<path d="M249.2 231.5 V382.5 H453.2" fill="none" stroke="#333" stroke-width="0.75"/>
<text x="245.6" y="384.8" font-size="7.00" font-family="Liberation Serif, Noto Serif CJK SC, serif" text-anchor="end" fill="#333" textLength="3.1" lengthAdjust="spacingAndGlyphs" >0</text>
<text x="245.6" y="359.6" font-size="7.00" font-family="Liberation Serif, Noto Serif CJK SC, serif" text-anchor="end" fill="#333" textLength="3.1" lengthAdjust="spacingAndGlyphs" >5</text>
<text x="245.6" y="334.5" font-size="7.00" font-family="Liberation Serif, Noto Serif CJK SC, serif" text-anchor="end" fill="#333" textLength="6.2" lengthAdjust="spacingAndGlyphs" >10</text>
<text x="245.6" y="309.3" font-size="7.00" font-family="Liberation Serif, Noto Serif CJK SC, serif" text-anchor="end" fill="#333" textLength="6.2" lengthAdjust="spacingAndGlyphs" >15</text>
<text x="245.6" y="284.1" font-size="7.00" font-family="Liberation Serif, Noto Serif CJK SC, serif" text-anchor="end" fill="#333" textLength="6.2" lengthAdjust="spacingAndGlyphs" >20</text>
<text x="245.6" y="259.0" font-size="7.00" font-family="Liberation Serif, Noto Serif CJK SC, serif" text-anchor="end" fill="#333" textLength="6.2" lengthAdjust="spacingAndGlyphs" >25</text>
<text x="245.6" y="233.8" font-size="7.00" font-family="Liberation Serif, Noto Serif CJK SC, serif" text-anchor="end" fill="#333" textLength="6.2" lengthAdjust="spacingAndGlyphs" >30</text>
<text x="262.0" y="389.5" font-size="7.00" font-family="Liberation Serif, Noto Serif CJK SC, serif" text-anchor="middle" fill="#333" textLength="12.4" lengthAdjust="spacingAndGlyphs" >15.5</text>
<text x="287.5" y="389.5" font-size="7.00" font-family="Liberation Serif, Noto Serif CJK SC, serif" text-anchor="middle" fill="#333" textLength="12.4" lengthAdjust="spacingAndGlyphs" >15.6</text>
<text x="313.0" y="389.5" font-size="7.00" font-family="Liberation Serif, Noto Serif CJK SC, serif" text-anchor="middle" fill="#333" textLength="12.4" lengthAdjust="spacingAndGlyphs" >15.7</text>
<text x="338.5" y="389.5" font-size="7.00" font-family="Liberation Serif, Noto Serif CJK SC, serif" text-anchor="middle" fill="#333" textLength="12.4" lengthAdjust="spacingAndGlyphs" >15.8</text>
<text x="364.0" y="389.5" font-size="7.00" font-family="Liberation Serif, Noto Serif CJK SC, serif" text-anchor="middle" fill="#333" textLength="12.4" lengthAdjust="spacingAndGlyphs" >15.9</text>
<text x="389.5" y="389.5" font-size="7.00" font-family="Liberation Serif, Noto Serif CJK SC, serif" text-anchor="middle" fill="#333" textLength="12.4" lengthAdjust="spacingAndGlyphs" >16.0</text>
<text x="415.0" y="389.5" font-size="7.00" font-family="Liberation Serif, Noto Serif CJK SC, serif" text-anchor="middle" fill="#333" textLength="12.4" lengthAdjust="spacingAndGlyphs" >16.1</text>
<text x="440.5" y="389.5" font-size="7.00" font-family="Liberation Serif, Noto Serif CJK SC, serif" text-anchor="middle" fill="#333" textLength="12.4" lengthAdjust="spacingAndGlyphs" >16.2</text>
<path d="M249.2 382.50 h-2.6 M249.2 357.33 h-2.6 M249.2 332.17 h-2.6 M249.2 307.00 h-2.6 M249.2 281.83 h-2.6 M249.2 256.67 h-2.6 M249.2 231.50 h-2.6 M249.2 369.92 h-1.5 M249.2 344.75 h-1.5 M249.2 319.58 h-1.5 M249.2 294.42 h-1.5 M249.2 269.25 h-1.5 M249.2 244.08 h-1.5 M262.00 382.5 v2.6 M287.50 382.5 v2.6 M313.00 382.5 v2.6 M338.50 382.5 v2.6 M364.00 382.5 v2.6 M389.50 382.5 v2.6 M415.00 382.5 v2.6 M440.50 382.5 v2.6 " fill="none" stroke="#333" stroke-width="0.6"/>
<text x="298.4" y="398.4" font-size="7.00" font-family="Liberation Mono, Noto Sans CJK SC, monospace" text-anchor="start" fill="#333" textLength="104.4" lengthAdjust="spacingAndGlyphs" >Annual average temperature (℃)</text>
<text x="342.3" y="408.8" font-size="7.50" font-family="Liberation Serif, Noto Serif CJK SC, serif" text-anchor="middle" fill="#222" >b</text>
<text transform="translate(236.9 308.5) rotate(-90)" font-size="7" font-family="Liberation Mono, Noto Sans CJK SC, monospace" text-anchor="middle" fill="#333" textLength="63" lengthAdjust="spacingAndGlyphs">Number of villages</text>
<rect x="480.20" y="280.57" width="21.29" height="101.92" fill="#7cbcab" stroke="#e4695a" stroke-width="0.5"/>
<text x="490.8" y="278.9" font-size="7.50" font-family="Liberation Serif, Noto Serif CJK SC, serif" text-anchor="middle" fill="#333" >27</text>
<rect x="502.79" y="265.48" width="21.29" height="117.02" fill="#7cbcab" stroke="#e4695a" stroke-width="0.5"/>
<text x="513.4" y="263.8" font-size="7.50" font-family="Liberation Serif, Noto Serif CJK SC, serif" text-anchor="middle" fill="#333" >31</text>
<rect x="525.38" y="314.55" width="21.29" height="67.95" fill="#7cbcab" stroke="#e4695a" stroke-width="0.5"/>
<text x="536.0" y="312.9" font-size="7.50" font-family="Liberation Serif, Noto Serif CJK SC, serif" text-anchor="middle" fill="#333" >18</text>
<rect x="547.97" y="325.88" width="21.29" height="56.62" fill="#7cbcab" stroke="#e4695a" stroke-width="0.5"/>
<text x="558.6" y="324.2" font-size="7.50" font-family="Liberation Serif, Noto Serif CJK SC, serif" text-anchor="middle" fill="#333" >15</text>
<rect x="570.56" y="344.75" width="21.29" height="37.75" fill="#7cbcab" stroke="#e4695a" stroke-width="0.5"/>
<text x="581.2" y="343.1" font-size="7.50" font-family="Liberation Serif, Noto Serif CJK SC, serif" text-anchor="middle" fill="#333" >10</text>
<rect x="593.15" y="367.40" width="21.29" height="15.10" fill="#7cbcab" stroke="#e4695a" stroke-width="0.5"/>
<text x="603.8" y="365.7" font-size="7.50" font-family="Liberation Serif, Noto Serif CJK SC, serif" text-anchor="middle" fill="#333" >4</text>
<text x="626.4" y="380.8" font-size="7.50" font-family="Liberation Serif, Noto Serif CJK SC, serif" text-anchor="middle" fill="#333" >0</text>
<text x="649.0" y="380.8" font-size="7.50" font-family="Liberation Serif, Noto Serif CJK SC, serif" text-anchor="middle" fill="#333" >0</text>
<rect x="660.92" y="374.95" width="21.29" height="7.55" fill="#7cbcab" stroke="#e4695a" stroke-width="0.5"/>
<text x="671.6" y="373.2" font-size="7.50" font-family="Liberation Serif, Noto Serif CJK SC, serif" text-anchor="middle" fill="#333" >2</text>
<path d="M479.2 231.5 H683.2 V382.5" fill="none" stroke="#666" stroke-width="0.65"/>
<path d="M479.2 231.5 V382.5 H683.2" fill="none" stroke="#333" stroke-width="0.75"/>
<text x="475.6" y="384.8" font-size="7.00" font-family="Liberation Serif, Noto Serif CJK SC, serif" text-anchor="end" fill="#333" textLength="3.1" lengthAdjust="spacingAndGlyphs" >0</text>
<text x="475.6" y="365.9" font-size="7.00" font-family="Liberation Serif, Noto Serif CJK SC, serif" text-anchor="end" fill="#333" textLength="3.1" lengthAdjust="spacingAndGlyphs" >5</text>
<text x="475.6" y="347.1" font-size="7.00" font-family="Liberation Serif, Noto Serif CJK SC, serif" text-anchor="end" fill="#333" textLength="6.2" lengthAdjust="spacingAndGlyphs" >10</text>
<text x="475.6" y="328.2" font-size="7.00" font-family="Liberation Serif, Noto Serif CJK SC, serif" text-anchor="end" fill="#333" textLength="6.2" lengthAdjust="spacingAndGlyphs" >15</text>
<text x="475.6" y="309.3" font-size="7.00" font-family="Liberation Serif, Noto Serif CJK SC, serif" text-anchor="end" fill="#333" textLength="6.2" lengthAdjust="spacingAndGlyphs" >20</text>
<text x="475.6" y="290.4" font-size="7.00" font-family="Liberation Serif, Noto Serif CJK SC, serif" text-anchor="end" fill="#333" textLength="6.2" lengthAdjust="spacingAndGlyphs" >25</text>
<text x="475.6" y="271.6" font-size="7.00" font-family="Liberation Serif, Noto Serif CJK SC, serif" text-anchor="end" fill="#333" textLength="6.2" lengthAdjust="spacingAndGlyphs" >30</text>
<text x="475.6" y="252.7" font-size="7.00" font-family="Liberation Serif, Noto Serif CJK SC, serif" text-anchor="end" fill="#333" textLength="6.2" lengthAdjust="spacingAndGlyphs" >35</text>
<text x="475.6" y="233.8" font-size="7.00" font-family="Liberation Serif, Noto Serif CJK SC, serif" text-anchor="end" fill="#333" textLength="6.2" lengthAdjust="spacingAndGlyphs" >40</text>
<text x="493.1" y="389.5" font-size="7.00" font-family="Liberation Serif, Noto Serif CJK SC, serif" text-anchor="middle" fill="#333" textLength="3.1" lengthAdjust="spacingAndGlyphs" >0</text>
<text x="520.3" y="389.5" font-size="7.00" font-family="Liberation Serif, Noto Serif CJK SC, serif" text-anchor="middle" fill="#333" textLength="9.3" lengthAdjust="spacingAndGlyphs" >200</text>
<text x="547.5" y="389.5" font-size="7.00" font-family="Liberation Serif, Noto Serif CJK SC, serif" text-anchor="middle" fill="#333" textLength="9.3" lengthAdjust="spacingAndGlyphs" >400</text>
<text x="574.7" y="389.5" font-size="7.00" font-family="Liberation Serif, Noto Serif CJK SC, serif" text-anchor="middle" fill="#333" textLength="9.3" lengthAdjust="spacingAndGlyphs" >600</text>
<text x="601.9" y="389.5" font-size="7.00" font-family="Liberation Serif, Noto Serif CJK SC, serif" text-anchor="middle" fill="#333" textLength="9.3" lengthAdjust="spacingAndGlyphs" >800</text>
<text x="629.1" y="389.5" font-size="7.00" font-family="Liberation Serif, Noto Serif CJK SC, serif" text-anchor="middle" fill="#333" textLength="12.4" lengthAdjust="spacingAndGlyphs" >1000</text>
<text x="656.3" y="389.5" font-size="7.00" font-family="Liberation Serif, Noto Serif CJK SC, serif" text-anchor="middle" fill="#333" textLength="12.4" lengthAdjust="spacingAndGlyphs" >1200</text>
<path d="M479.2 382.50 h-2.6 M479.2 363.62 h-2.6 M479.2 344.75 h-2.6 M479.2 325.88 h-2.6 M479.2 307.00 h-2.6 M479.2 288.12 h-2.6 M479.2 269.25 h-2.6 M479.2 250.38 h-2.6 M479.2 231.50 h-2.6 M479.2 373.06 h-1.5 M479.2 354.19 h-1.5 M479.2 335.31 h-1.5 M479.2 316.44 h-1.5 M479.2 297.56 h-1.5 M479.2 278.69 h-1.5 M479.2 259.81 h-1.5 M479.2 240.94 h-1.5 M493.10 382.5 v2.6 M520.30 382.5 v2.6 M547.50 382.5 v2.6 M574.70 382.5 v2.6 M601.90 382.5 v2.6 M629.10 382.5 v2.6 M656.30 382.5 v2.6 M506.70 382.5 v1.5 M533.90 382.5 v1.5 M561.10 382.5 v1.5 M588.30 382.5 v1.5 M615.50 382.5 v1.5 M642.70 382.5 v1.5 M669.90 382.5 v1.5 " fill="none" stroke="#333" stroke-width="0.6"/>
<text x="545.0" y="398.4" font-size="7.00" font-family="Liberation Mono, Noto Sans CJK SC, monospace" text-anchor="start" fill="#333" textLength="72.3" lengthAdjust="spacingAndGlyphs" >Distance to river (m)</text>
<text x="572.8" y="408.8" font-size="7.50" font-family="Liberation Serif, Noto Serif CJK SC, serif" text-anchor="middle" fill="#222" >c</text>
<text transform="translate(466.9 308.5) rotate(-90)" font-size="7" font-family="Liberation Mono, Noto Sans CJK SC, monospace" text-anchor="middle" fill="#333" textLength="63" lengthAdjust="spacingAndGlyphs">Number of villages</text>
</g>
</svg>
</body></html>
